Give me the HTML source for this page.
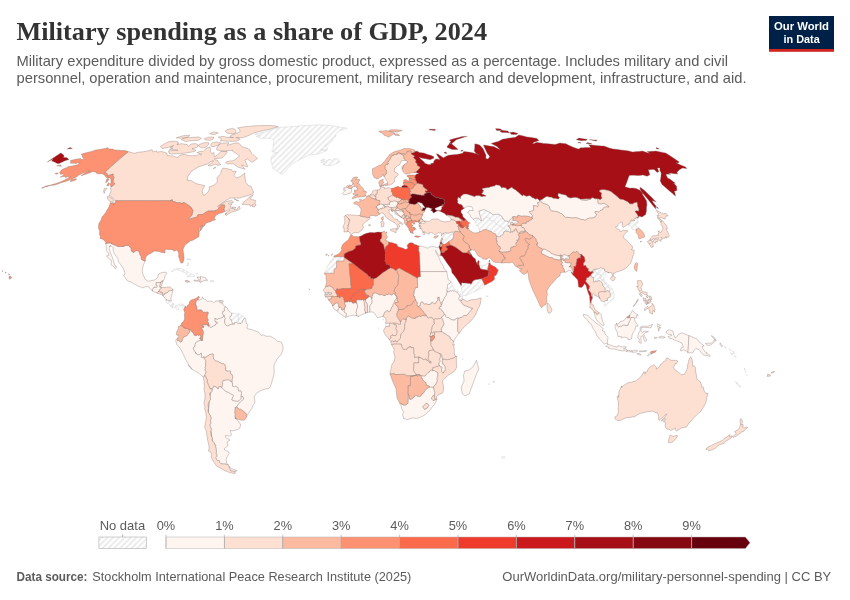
<!DOCTYPE html>
<html lang="en"><head><meta charset="utf-8"><title>Military spending as a share of GDP, 2024</title>
<style>html,body{margin:0;padding:0;background:#fff}svg{display:block}</style></head>
<body><svg width="850" height="600" viewBox="0 0 850 600">
<defs><pattern id="nd" patternUnits="userSpaceOnUse" width="4.1" height="4.1" patternTransform="rotate(45)"><rect width="4.1" height="4.1" fill="#fff"/><rect width="1.9" height="4.1" fill="#ebebeb"/></pattern></defs>
<rect width="850" height="600" fill="#fff"/>
<text x="16.5" y="40.2" font-family="'Liberation Serif','Times New Roman',serif" font-weight="700" font-size="26" fill="#333" textLength="470.5" lengthAdjust="spacingAndGlyphs">Military spending as a share of GDP, 2024</text>
<g font-family="'Liberation Sans',Arial,sans-serif" font-size="14.2" fill="#5b5b5b">
<text x="16.5" y="66.4" textLength="711.5" lengthAdjust="spacingAndGlyphs">Military expenditure divided by gross domestic product, expressed as a percentage. Includes military and civil</text>
<text x="16.5" y="83.3" textLength="730" lengthAdjust="spacingAndGlyphs">personnel, operation and maintenance, procurement, military research and development, infrastructure, and aid.</text>
</g>
<g><rect x="769" y="16" width="65" height="33.2" fill="#002147"/><rect x="769" y="49" width="65" height="2.8" fill="#ce261e"/>
<g font-family="'Liberation Sans',Arial,sans-serif" font-weight="700" font-size="11" fill="#fff" text-anchor="middle"><text x="801.5" y="30.2" textLength="55" lengthAdjust="spacingAndGlyphs">Our World</text><text x="801.6" y="42.5" textLength="36.3" lengthAdjust="spacingAndGlyphs">in Data</text></g></g>
<g fill="url(#nd)" stroke="#d2d2d2" stroke-width=".5" stroke-linejoin="round"><path d="M197.3,273.1 197.9,273.6 196.3,273.9ZM188.6,263.1 188,266 187,265.5 187.5,263.1ZM190.8,259.2 190.3,260 188.8,259.5 186.6,259.2 188.7,258.7Z"/><path d="M562.7,255.2 562.8,255.2 563.8,254.5 563.9,254.5 564,254.5 565.8,255.1 568.1,255.9 568.2,255.9 569.3,256.7 569.3,256.8 569.4,256.9 569.4,257 569.6,258.6 569.6,258.7 569.6,258.8 569.5,258.8 569.5,258.9 569.4,258.9 567.6,259 565.7,258.8 564.4,259.2 564.3,259.2 564.2,259.2 562,258.2 561.9,258.2 561.9,258.1 561.8,258.1 561.8,258 561.6,257.4 561.6,257.3 561.6,257.2 562.7,255.2Z"/><path d="M462.5,358.6 463.2,359.4 462.7,359.9Z"/><path d="M172.3,302.6 173.3,303.8 173.5,303.9 173.5,304 173.4,304.1 172.7,304.2 172.7,304.9 173,305.2 173.1,305.2 173.1,305.3 173.1,305.4 173.1,305.5 173.1,305.6 173.1,305.7 173,305.7 172.8,305.9 172.8,306.2 172.9,306.2 172.8,306.2 172.8,306.3 172.6,306.9 172.5,307.3 172.6,307.7 172.3,307.8 171.7,306.3 170.5,306.7 170.5,306 169.6,304.2 168.1,302.8 167.5,303.8 166.2,302.5 165.9,301.7 165.8,300.3 166.4,299.8 165.9,300.2 166.4,300.1 166.5,300.1 166.5,300 166.8,299.8 168.1,300.4 168.1,300.5 168.2,300.5 168.3,300.4 168.8,300.2 169.3,300.3 169.6,300.8 169.6,300.9 169.7,300.9 170.4,301 170.5,301 170.6,301 171,300.5 171.1,300.5 170.9,300.2Z"/><path d="M171.1,271.6 173.6,269.4 175.4,268.8 177.3,268.2 179.2,268.5 180.9,268.6 182.7,268.8 183.8,269.8 186.1,271.1 188.5,272.3 190.9,273.6 192.6,274.6 194.3,275.6 195.1,275.8 192.7,276.7 191.1,276.6 189,276.7 186.8,276.9 188.4,275.6 186.5,274.7 184.8,272.3 182.3,271.9 181.4,271.1 179.7,270.7 178,270.2 177.4,269.4 174.3,270.6 172.1,271.9Z"/><path d="M461.8,300.4 461.8,300.5 461.7,300.5 461.6,300.5 461.5,300.5 461,300.1 460.6,300.2 460.6,300.3 460.5,300.3 459.3,300.2 459.2,300.2 459.1,300.2 459.1,300.1 459,300.1 459,300 459,299.9 458.9,299.1 458.7,298.5 458.7,298.4 458.7,298.3 458.7,298.2 458.8,298.2 460.1,296 460.3,296.2 460.3,296.3 460.4,296.3 461.4,296.5 461.5,296.5 461.6,296.5 461.7,296.5 462.3,295.9 462.8,297.5 461.4,298.6 462.4,298.5 462.6,298.8 462.9,299 462.8,299Z"/><path d="M389.7,326.1 389.6,326.1 389.6,326.2 389.6,326.3 389.5,326.3 389.4,326.3 386,326.3 385.9,326.4 385.9,326.2 385.5,322.8 385.5,323.1 385.6,323.1 387.5,323.2 389.4,323.2 389.6,323.2 389.7,326ZM383.8,319.4 383.4,320.3 382.9,319.1Z"/><path d="M453.5,288 455,289.6 457.6,290.6 460.5,294.3 461.3,294.8 462.2,295.6 462.3,295.9 461.7,296.5 461.6,296.5 461.5,296.5 461.4,296.5 460.4,296.3 460.3,296.3 460.3,296.2 459.5,295.4 459.5,295.3 459.4,295.3 458.5,293.8 457.5,293 457.4,293 456.8,292.1 454.9,291.1 453.4,291.1 453.3,291.1 453.2,291.1 453.2,291 452.7,290.6 451.6,291.1 451.5,291.1 451.5,291.2 451.4,291.2 451.4,291.1 451.3,291.1 450.2,290.2 449.6,291.8 449.6,291.9 449.5,291.9 449.4,291.9 449.3,291.9 446.9,291.4 447,291.1 447,291 446.7,290 447.5,286.3 447.5,286.2 447.6,284.6 448.2,283.9 449.8,283.5 449.9,283.5 449.9,283.4 450.9,282 451.2,282 451.3,282 452.4,285Z"/><path d="M244.9,318.1 244.2,318.2 242.9,320.5 242.2,322.4 242.1,322.4 242.1,322.5 241.2,323.5 241.1,323.5 241.1,323.6 239.9,323.7 239.9,323.8 239.9,323.7 239.8,323.7 239.7,323.7 239.7,323.6 239.4,323 239.2,322.9 238.5,323.5 238.5,323.6 238.4,323.6 238.3,323.6 238.2,323.6 237.3,323 237.3,323.1 237.4,323.1 237.5,323.1 237.5,323 237.6,323 237.6,322.9 238.2,321.8 238.2,321.7 238.5,320.5 238.9,319.4 238.9,319.3 238.9,319.2 238.8,319.2 238,317.7 237.9,316.1 239,313.9 240.8,314.9 242.6,315.9 244.1,317.4 244.9,318.1Z"/><path d="M501.9,456.8 503.5,456.8 505.2,456.8 504.4,458.3 502.1,458.1Z"/><path d="M255.1,134 257.4,133.6 259.7,133.1 261.9,132.7 264.2,132.3 266.8,131.3 269.4,130.4 272.1,129.6 274.7,128.9 277.4,128.1 279.9,127.3 282,127.2 284.1,127.1 286.2,127 288.3,126.8 290.3,126.7 292.4,126.6 294.5,126.5 296.3,126.3 298.1,126.1 299.9,126 301.7,125.8 303.8,125.7 305.9,125.6 307.9,125.4 310,125.3 312,125.2 314.1,125 316.1,124.9 318.2,124.8 320,124.9 321.8,125 323.7,125.1 325.5,125.2 327.4,125.3 329.3,125.4 331,125.6 332.7,125.9 334.5,126.1 336.3,126.4 338,126.7 339.9,127 341.7,127.3 343.5,127.6 345.3,127.9 347.2,128.2 345.5,128.8 343.8,129.4 342.1,130 340.3,130.6 338.7,131.5 337,132.4 335.8,134.3 336.1,136.3 335,136.7 333.4,138.3 333.1,139.9 331.1,141.7 329.1,143.4 328,144.9 326.3,145.4 324.6,145.9 326,146.8 327.4,147.6 327,149.8 324.8,149.8 322.6,149.8 320.4,149.8 322.5,150 324.6,150.3 326.7,150.5 324,151.7 321.3,152.8 318.6,153.9 316.2,154.2 313.8,154.5 311.4,154.8 309,155 307,156.1 305,157.1 303,158.2 300.4,159.4 297.7,160.7 294.7,162.2 291.7,163.7 290,166.3 287.3,169.1 285.3,171.4 282.1,174.3 280,173.6 279,172.2 277.1,171.1 275.2,170.1 273.3,169.1 272.5,166.5 271.8,163.9 270.8,161.2 270.9,159.4 271,157.6 272.5,155.7 274,153.7 275.9,153.2 277.8,152.6 275.8,152.3 273.7,152 271.7,151.7 272.5,150.4 273.4,149.3 273,147.2 273.3,144.9 273.6,143.1 274,141.3 273.5,140.2 273.1,139.1 271.4,138.8 269.6,138.5 267.9,138.2 266.2,138 264.6,138.1 262.9,138.3 261.2,138.5 259.8,137.8 258.5,137.2 257.3,136.7 256.2,136.3 257.9,135.8 259.7,135.3 258.3,135.1 256.9,134.8 255.5,134.5Z"/><path d="M323,164.9 325.1,165.1 327.3,165.4 329.4,165.8 331.2,165.3 333.1,164.9 334.7,164.3 336.4,163.8 338,162.9 339.6,161.9 339.4,160.8 338.1,158.9 336.7,158.8 335.3,158.6 333.1,159.7 331.6,160.5 330.6,159.4 328.4,159.6 326.8,161 325.7,159.9 324.6,158.8 323.3,159.1 320.5,160.9 322.9,161 325.2,161.2 323.2,161.8 321.1,162.4 322.8,162.8 324.6,163.2 324.4,164 323.1,164.2Z"/><path d="M592.8,273 593.5,273.1 592.8,270.5 592.8,270.4 592.8,270.3 592.8,270.2 592.9,270.2 592.9,270.1 593,270.1 594.1,269.7 594.2,269.7 594.2,269.8 594.3,269.8 594.4,269.8 594.4,269.9 595.9,271.9 596,271.9 597.3,274.2 600,274.2 600.1,274.2 600.2,274.2 600.2,274.3 600.3,274.4 601.5,276.6 601.5,276.7 601.5,276.8 601.5,276.9 601.5,277 601.4,277 601.4,277.1 600.1,277.7 599.8,278.3 602.4,279.7 602.5,279.7 602.5,279.8 604.9,282.9 606.7,285.2 608.6,287 608.7,287 608.7,287.1 609.5,288.9 609.6,289 609.6,289.1 609.5,291.6 609.4,291.5 609.4,291.4 609.3,291.4 607.1,290.4 607,290.4 606.9,290.4 606.9,290.5 606.8,290.5 606.1,292.1 604.6,291.3 605.1,290.5 605.1,290.4 605.1,290.3 604.9,288.1 604.9,288 604.9,287.9 604.8,287.9 602.8,285.7 602.3,283.2 602.2,283.1 602.2,283 600.1,280.9 600.1,280.8 600,280.8 599.9,280.8 598.2,280.6 598.1,280.6 598,280.6 598,280.7 597.9,280.7 597.6,281.5 596.6,281.6 595.9,281.2 595.9,281.1 595.8,281.1 595.7,281.1 595.6,281.1 595.6,281.2 593.8,282.5 593.5,280.7 593.7,278 593.7,277.9 593.6,277.9 593.6,277.8 593.6,277.7 593.5,277.7 593.5,277.6 593.4,277.6 592,277.5 591.7,276.2 591.7,276.1 591.7,276 591.6,276 591.6,275.9 590.7,275.3 590.9,274.6 592.6,273 592.6,272.9 592.6,272.8 592.6,272.7 592.6,272.6Z"/><path d="M735.5,381.4 736.9,382.6 738.3,383.7 739.6,385.4 740.8,387.1 739.5,387.1 738,385.6 736.6,384Z"/><path d="M637.1,219.5 638.3,222 636.5,224.1 635.4,224.7 635.8,226.3 638.5,227.8 638.8,228.1 637.9,228.9 636.5,229 636.2,230.1 636.2,230.2 636.1,230.2 635.9,230.2 635.8,230.1 633.7,229.5 632.3,229.9 631.6,227.6 630.1,225.4 628.4,224.6 629.2,223 630.7,221.6 630.8,221.6 630.8,221.5 631.2,219.9 632.4,220.6 632.5,220.6 634.4,220.7 634.5,220.7 634.5,220.6 634.5,220.5 634.5,220.4 634.5,220.3 634.4,220.3 633.6,219.3 636,218.2 636.1,218.2 636.1,218.1 636,216.9 637.9,218.2 638,218.2 637.6,218.2Z"/><path d="M441.6,243.8 441.7,243.8 441.7,243.9 441.8,243.9 441.8,244 441.8,244.1 442,245.7 442,245.8 441.9,245.8 441.7,246.6 441.6,246.7 441.5,246.7 440.5,247.1 440.4,247.1 440.3,247.1 440.3,247 440.2,247 440.2,246.9 440.2,246.8 440.2,246.7 440.2,246 440.2,245.9 440.3,245.9 440.3,245.8 440.4,245.8 440.3,245.7 440.2,245.7 440.2,245.6 440.2,245.5 440.1,245.5 440.1,245.4 440.1,245.3 440.4,243.6 440.4,243.5 440.5,243.5 440.5,243.4 440.6,243.4 440.7,243.4 441.6,243.8Z"/><path d="M172,307 172.3,307.8 172,307ZM174.8,305.4 176.8,305.8 179.4,304.3 180,303.8 181.7,304.1 183.8,304.6 185.2,306.1 183.8,309.9 182.7,307.7 183.3,306.8 182.6,305.5 180.2,305.4 179.3,306.4 178.1,307.6 178.9,309.3 177.9,309.8 176.8,310 176.2,308.8 175.1,307.6 173.7,307.2 172.6,307.7 172.5,307.3 172.6,306.9 172.8,306.3 172.8,306.2 172.9,306.2 172.8,306.2 172.8,305.9 173,305.7 173.1,305.7 173.1,305.6 173.1,305.5 173.1,305.4 173.1,305.3 173.1,305.2 173,305.2 172.7,304.9 172.7,304.2 173.4,304.1 173.5,304 173.5,303.9 174,304.3Z"/><path d="M210.3,281.7 210.4,280.4 212.2,280.5 214,280.7 213.5,281.7Z"/><path d="M488.4,383.7 489.7,384 489,384.8Z"/><path d="M378.3,327.8 378.9,328 378.4,328.7Z"/><path d="M735.2,356.8 734.2,355.5 736.4,357.1ZM731.4,354.4 730.6,353.1 733.2,354.4ZM733.8,353.7 733,352.1 732.9,350.8 734.5,353.7ZM728.8,348.7 731.5,351 730.6,350.8ZM724.1,346.8 724.1,346.3 726.5,348.2 726,348.4Z"/><path d="M238.7,313.8 239,313.9 237.9,316.1 238,317.7 238.8,319.2 238.9,319.2 238.9,319.3 238.9,319.4 238.5,320.5 238.2,321.7 238.2,321.8 237.6,322.9 237.6,323 237.5,323 237.5,323.1 237.4,323.1 237.3,323.1 236,322.5 235,322.8 234.9,322.8 234.2,322.6 234.1,322.9 234.4,323.3 234.4,323.4 234.4,323.5 234.4,323.6 234.2,324.2 234.2,324.3 234.1,324.3 234,324.3 234,324.4 233.9,324.4 233.9,324.3 232.7,324.1 232.8,324.1 232.9,324.1 232.9,324 233,323.9 233,323.8 233,323.7 232.9,323.7 232.9,323.6 231.6,321.4 231.3,320 231.3,319.9 231.2,319.9 231.2,319.8 231.1,319.8 231,319.8 230.5,319.8 229.6,318.1 230,316.9 230,316.8 230,316.4 231.2,315.8 231.3,315.8 231.3,315.7 231.3,315.6 231.8,313.2 233.9,313.2 236.1,313.2Z"/><path d="M454.1,233.2 454,233.3 453,233.9 453.5,235.6 453.5,235.7 453.1,238.9 453.1,239 453,239 450.7,240.4 448.5,241.8 446.5,243.2 444.5,244.6 444.4,244.6 444.3,244.6 441.7,243.5 441.6,243.4 441.6,243.3 441.5,243.3 441.5,243.2 441.5,243.1 441.6,243.1 441.6,243 441.7,242.7 441.6,241.8 441.6,241.7 441.6,241.6 442,240.2 442,240.1 442.1,240.1 443,239.2 442.7,238.6 441.8,238.5 441.7,238.5 441.7,238.4 441.6,238.4 441.8,238.2 441.5,237.6 441.1,235.9 441.2,235.2 441.3,235.1 441.7,235.4 441.8,235.4 441.9,235.4 442,235.4 442,235.3 442.5,234.8 443,234.2 443,234.1 443.1,234.1 443.1,234 443,233 443.4,233.3 443.5,233.3 443.6,233.3 445.8,232.6 447,233.1 448.8,233.1 448.9,233.1 448.9,233 451.2,232.1 452.3,232.2 452.4,232.1 454.8,231.7 454.9,231.7Z"/><path d="M473.7,219.4 473.8,219.4 473.9,219.3 474.6,218.5 474.6,218.4 474.7,218.4 476.9,217.9 477,217.9 477.1,217.9 478.7,218.6 478.7,218.7 478.8,218.7 480.7,220.6 481.6,220.5 483.6,220.5 483.2,219.6 483.1,219.5 483.1,219.4 483.1,219.3 483.1,219.2 483.2,219.2 484.8,218.3 486.1,216.8 486.2,216.8 486.3,216.8 489.5,218.2 489.6,218.2 489.7,218.2 489.7,218.3 489.7,218.4 489.8,218.4 490.5,220.3 491.2,220.7 493.4,220.6 493.5,220.6 493.6,220.6 494.4,221.1 494.4,221.2 494.5,221.2 494.5,221.3 496.2,223.9 499.1,225.6 500.8,226.8 503.3,228.1 506.4,229.2 506.5,229.2 506.5,229.3 506.6,229.3 506.6,229.4 506.7,229.4 506.7,229.5 507,231.1 507,231.2 507,231.3 506.9,231.4 506.8,231.4 506.1,231.3 506,231.3 505.1,230.7 505,231.3 505,231.4 505,231.5 504.9,231.5 503.4,232 503.4,233.9 503.4,234 503.4,234.1 503.3,234.1 502.3,234.9 502.2,234.9 500.7,235.3 500.5,236.3 500.5,236.4 500.5,236.5 500.4,236.5 498.8,236.8 498.8,236.9 498.7,236.8 496.3,235.8 496.2,235.8 496.1,235.7 496.1,235.6 496,235.6 495.4,233.7 494,233.6 494,233.5 493.9,233.5 491,231.2 489.3,231 489.2,231 489.2,230.9 486.6,229.6 485.1,229.4 484.3,229.9 484.2,229.9 482.8,229.8 481.7,231.2 481.7,231.3 481.6,231.3 481.5,231.3 479.7,231.4 479.5,231.1 479.3,230.8 478.7,227.1 477.2,226 476.2,225.6 476.2,224.2 475.4,221.6 474,219.7 473.7,219.5Z"/><path d="M481.8,265.5 483.8,265.2 485.8,264.8 487.6,262.7 488.9,261.3 489,261.1 489.4,261.7 489.4,261.8 489.5,261.8 489.7,261.9 489.7,261.8 489.9,262.8 489.8,262.8 489.8,262.9 489.7,262.9 489.7,263 489.7,263.1 489.7,263.2 489.7,263.3 489,263.3 488.9,263.3 488.8,263.3 488.8,263.4 488.7,263.4 488.7,263.5 488.7,263.6 488.7,265.3 488.7,265.4 488.7,265.5 488.8,265.5 488.8,265.6 488.9,265.6 488.3,265.9 488.2,266 488.2,266.1 488.2,266.2 488.3,267.2 487.7,268.2 487.7,268.3 487.7,269.4 487.8,269.5 487.8,269.6 488,269.9 487.8,270.2 487.7,270.2 487.7,270.3 487.6,270.3 485.3,269.8 483,269.4 480.7,268.9 480.6,268.9 480.5,268.9 480.5,268.8 480.4,268.7 479.4,266.1 479.3,266 479.2,265.4 479,264.6 479.5,265.5ZM478.8,263.3 478.8,263.2 478.9,263.2 478.9,263.1 479,263.1 479.1,263 479,264.3 478.8,263.4ZM486.5,259.2 486.6,259.2 486.3,259.3 486.1,259.3 486.4,259.2Z"/><path d="M478.9,211.2 478.9,211.1 478.9,211 479,211 481.4,210.2 483.9,209.5 484,209.5 484.5,209.7 486.4,210.6 488.2,211.6 490.2,212.5 490.3,212.5 490.3,212.6 492.8,214.8 495.1,214.4 496.9,214.3 498.6,214.2 498.7,214.2 498.7,214.3 498.8,214.3 501.8,216.2 501.9,216.2 501.9,216.3 502,216.3 502,216.4 502.1,216.5 502.6,218.7 503.4,218.7 503.5,218.8 503.6,218.8 503.6,218.9 503.7,218.9 503.7,219 504.6,220.9 507.1,220.9 507.2,220.9 507.2,221 507.3,221 507.4,221 507.4,221.1 508.2,222.2 508.7,222.2 509.1,220.5 509.1,220.4 509.1,220.3 511.3,218.5 511.4,218.5 512.4,218 512.5,218 512.6,218 513.3,218.3 513.4,218.3 513.4,218.4 513.5,218.4 513.5,218.5 513.6,218.6 513.6,218.7 513.6,218.8 513.5,218.8 512.5,220.2 513.9,220.9 515.1,220.3 515.2,220.3 515.3,220.3 518.2,221.7 518.3,221.7 518.3,221.8 518.4,221.8 518.4,221.9 518.5,222 518.5,222.1 518.4,222.1 518.4,222.2 516.2,224.1 516.1,224.1 514.4,223.9 513.6,223.9 513.5,223.9 513.4,223.9 513.4,223.8 513.3,223.8 512.8,223 512.7,223 512.7,222.9 512.7,222.8 512.7,222.1 510.6,222.6 510.5,224.1 510.5,224.2 509.9,225.6 509.8,225.7 509.7,225.7 508,225.6 507.9,226.3 509.3,226.8 509.4,226.8 509.4,226.9 509.5,226.9 509.5,227 510.5,228.9 510.5,229 510.5,229.1 510.7,232 510.7,232.1 510.7,232.2 510.6,232.3 510.5,232.3 510.4,232.3 509.7,232 508,231.4 506.8,231.4 506.9,231.4 507,231.3 507,231.2 507,231.1 506.7,229.5 506.7,229.4 506.6,229.4 506.6,229.3 506.5,229.3 506.5,229.2 506.4,229.2 503.3,228.1 500.8,226.8 499.1,225.6 496.2,223.9 494.5,221.3 494.5,221.2 494.4,221.2 494.4,221.1 493.6,220.6 493.5,220.6 493.4,220.6 491.2,220.7 490.5,220.3 489.8,218.4 489.7,218.4 489.7,218.3 489.7,218.2 489.6,218.2 489.5,218.2 486.3,216.8 486.2,216.8 486.1,216.8 484.8,218.3 483.2,219.2 483.1,219.2 483.1,219.3 483.1,219.4 483.1,219.5 483.2,219.6 483.6,220.5 481.6,220.5 481.4,220.5 480.6,217.4 479.7,214.4 478.9,211.3 478.9,211.2Z"/><path d="M747.4,375.4 746.6,375.6 746.6,374.8ZM745.4,372.2 745.3,370.7 746.3,372ZM744.5,369.9 744.4,368 745.5,369.6Z"/><path d="M595.2,269.1 595.3,269.1 597,269.1 599.1,268.8 600.7,267.5 600.8,267.4 600.9,267.4 601,267.4 601,267.5 601.1,267.5 602.2,268.4 604.3,268.9 604.4,268.9 604.5,268.9 604.5,269 604.6,269 604.6,269.1 604.6,269.2 604.6,269.3 604.5,270.6 605.6,271.5 607.9,272.1 608,272.2 608.7,272.6 607.8,272.6 606.4,274 605.3,274.3 605.1,275.7 603.8,277.1 603.8,279.9 606.3,283 609.1,285.5 610.6,286.7 612.5,289.3 613.6,292.8 614.3,295.1 613.9,296.8 614.1,297.7 613.7,298.6 611.7,300.3 609.6,301.7 608.7,302.6 606.8,304.6 604.5,306.3 605,302.6 603.5,301.6 603.7,301.8 605.2,300.6 607.5,300.4 607.6,300.4 607.7,300.4 607.7,300.3 607.8,300.2 607.8,300.1 607.7,300.1 607.7,300 607.7,299.9 606.8,298.7 608.5,297.7 610.1,296.8 610.2,296.8 610.2,296.7 610.3,296.7 610.3,296.6 610.2,293.4 610.2,293.3 609.5,291.6 609.6,289.1 609.6,289 609.5,288.9 608.7,287.1 608.7,287 608.6,287 606.7,285.2 604.9,282.9 602.5,279.8 602.5,279.7 602.4,279.7 599.8,278.3 600.1,277.7 601.4,277.1 601.4,277 601.5,277 601.5,276.9 601.5,276.8 601.5,276.7 601.5,276.6 600.3,274.4 600.2,274.3 600.2,274.2 600.1,274.2 600,274.2 597.3,274.2 596,271.9 595.9,271.9 594.4,269.9 594.4,269.8 594.3,269.8 594.2,269.8 594.2,269.7 594.1,269.7 594,269.8 595.1,269.1Z"/><path d="M344.1,260.8 344.1,260.9 344.1,261 344,261 344,261.1 343.9,261.1 343.8,261.1 341.4,261.1 339,261.1 336.6,261.1 336.6,264.3 336.5,267.5 336.5,267.6 336.4,267.7 334.2,269.1 334.1,273 334.1,273.1 334.1,273.2 334,273.2 334,273.3 333.9,273.3 330.8,273.3 327.8,273.3 324.8,273.3 324.8,272.8 326.5,269.2 327.3,266.8 329.1,263.7 330.8,260.5 333.3,257.8 334.3,256.1 333.9,256.7 337.3,256.7 340.6,256.7 343.9,256.7 344,256.7 344.1,256.7 344.1,256.6 344.2,256.6 344.2,256.5 344.2,256.4 344.2,258.6Z"/><path d="M488.4,296 487.2,296.6 485.6,296ZM461.4,284.1 461.4,284 461.4,283.9 461.9,282.7 461.9,282.6 462,282.6 462,282.5 462.1,282.5 462.2,282.5 462.3,282.5 463.1,283.1 463.6,283 463.7,283 463.7,282.9 466.3,282.9 466.4,282.9 466.5,282.9 466.9,283.2 469,283.4 469.8,283.3 469.9,283.3 470,283.3 470.1,283.4 470.6,284.1 471.4,283.8 472.7,281.1 472.8,281.1 472.8,281 472.9,281 474.9,279.8 475,279.8 478.2,279.3 481.5,278.8 481.6,278.8 481.7,278.8 481.7,278.9 481.8,279 482.8,281.1 483.9,283.3 484.7,285.1 484.8,285.1 484.5,285.2 482.6,287.9 480.7,288.7 478.8,289.6 475.7,290.9 473.9,291.7 472.1,292.4 469.9,293.7 468.2,294.5 466.5,295.3 464.8,295.5 463,295.7 462.5,294 462,292 461.6,290.1 461.3,288 461,285.9 460.9,285.7 461.6,285.1 461.4,284.2Z"/></g>
<g stroke="#7a6a66" stroke-opacity=".75" stroke-width=".45" stroke-linejoin="round"><path fill="#fff5f0" d="M237.2,470.7 235,471.7 234.8,472.7 235,472 234.6,471.5 234.5,471.4 234.4,471.3 234.3,471.3 232.6,471.2 230.8,471 229.8,468.5 228.7,466 231.4,468.6 234.3,469.7ZM243.1,396.8 243.1,396.9 243.2,396.9 243.2,397 243.3,397 243.3,397.1 243.5,399.2 243.5,399.3 243.5,399.4 243.4,399.4 243.4,399.5 241.7,400.9 240.4,402 238.2,404.5 236.2,407.4 235.5,407.5 235.4,407.5 235.4,407.6 235.3,407.6 235.3,407.7 235.3,407.8 235.1,409.9 234.9,412.5 234.9,412.6 235.4,415.1 235.1,415.6 235.1,415.7 235.1,415.8 235.2,417.5 235.3,418.2 235.3,418.3 235.3,418.4 235.4,418.4 235.4,418.5 235.5,418.5 235.9,418.8 235.6,417.7 236,419.3 237.1,420 239,421.5 238.9,422.7 240.5,423.8 240.4,426.2 239.6,428.2 237.3,429.7 234.8,430.4 232.1,430.8 230.1,430.4 230.6,431.6 231.2,433.9 231.2,435.5 230.3,436.1 227.9,435.8 225.4,435.5 225.8,437.5 228.2,439.1 229,438.8 229.9,440.6 228.5,441.1 227.2,441.9 227.7,445 227.5,446.1 225.9,447.3 224.2,448.6 224.6,450 226.6,450.9 228.6,451.7 229.1,453.4 228,455.3 226.9,457.3 226.2,459.3 226.4,461.2 226.5,463.1 228.6,465 228.2,464.6 228,464.6 226,464.2 223.6,464 221.2,463.9 219.9,462.6 219.2,460.8 219.2,460.7 219.1,460.7 219.1,460.6 219,460.6 219,460.5 218.9,460.5 218.8,460.5 217.7,460.6 216.8,459.9 215.7,457.5 216.7,456.5 216.7,456.4 216.8,454.8 216.8,454.7 216.8,454.6 216.7,454.6 216.7,454.5 216.1,453.4 216.3,451.3 216.3,451.2 215.9,447.8 215.9,447.7 215.8,447.7 215.2,446.4 215.8,446 215.9,446 215.9,445.9 215.9,445.8 215.9,445.7 215.8,445.7 215.3,444.7 215.2,444.7 215.2,444.6 215.1,444.6 215.1,444.5 214.3,444.2 214.5,443.4 214.5,443.3 214.5,443.2 214.5,443.1 214.4,443.1 214.4,443 214.3,443 213.1,442.1 212.4,440.6 212.1,439.2 212.4,439 212.4,438.9 212.4,438.8 212.4,438.7 211.8,437.3 211.2,434 210.7,430.8 211.6,429.9 211.7,429.9 211.7,429.8 211.7,429.7 211.7,429.6 211.6,429.5 210.3,427 209.8,425 209.8,424.8 210.9,423.2 210.9,423.1 210.9,423 210.4,420.9 211,418.4 211,418.3 211,418.2 210.5,415.8 210.4,415.8 210.4,415.7 210.4,415.6 210.3,415.6 209.7,415.2 208.4,412.2 208.6,408.4 208.6,408.3 208.6,408.2 208.6,408.1 208.9,404.7 209.2,401.4 209.4,401 210.6,399.4 210.7,399.4 210.7,399.3 210.7,399.2 210.7,399.1 210.7,399 210.6,399 210,398.1 210.2,397.5 210.2,397.4 210.2,397.3 210,395.7 210.5,392.6 211.7,391.9 211.8,391.9 211.9,391.8 211.9,391.7 212,389.2 212.1,389.2 212.1,389.3 212.2,389.2 212.3,389.2 212.3,389.1 213.5,386.3 216.3,386.8 217.7,388.6 217.7,388.7 217.8,388.7 217.9,388.7 217.9,388.8 218,388.8 218,388.7 218.1,388.7 218.1,388.6 218.2,388.6 218.8,386.6 221,386.7 221.4,387.2 221.4,387.3 221.4,387.2 223.7,389.4 226,391.5 226.1,391.5 226.1,391.6 228,392 230.9,393.9 233.2,394.9 233.6,395.7 231.9,399.6 231.9,399.7 231.9,399.8 231.9,399.9 232,399.9 232,400 232.1,400 234.5,400.8 237.1,401.2 237.2,401.2 238.9,400.8 238.9,400.7 239,400.7 240.8,398.7 240.8,398.6 240.9,398.5 240.9,396.2 241,395.9 243.1,396.8Z"/><path fill="#fff5f0" d="M383.4,204.4 383.5,204.4 383.6,204.4 384.4,205 384.6,204.5 384.6,204.4 384.7,204.4 384.8,204.4 386.6,204.5 387.9,204.1 388,204.1 389,204.1 389.1,204.1 389.1,204.2 389.6,204.5 389.2,202.9 389.2,202.8 389.2,202.7 389.2,202.6 389.3,202.6 390,202.2 391.1,201.4 391.2,201.4 391.2,201.3 391.3,201.3 391.4,201.4 392.3,201.8 393.2,200.9 393.3,200.9 394,200.6 394.1,200.6 394.1,200.7 395.9,201.2 397.7,201.8 397.8,201.8 397.8,201.9 397.9,202 397.9,202.1 397.9,202.2 397.8,202.4 398,203.2 398,203.3 398,204.4 397.9,204.5 397.9,204.6 397.8,204.6 397.7,204.6 397.2,204.6 397.2,204.7 397.2,204.8 397.3,204.9 397.2,205 396.7,206.7 396.7,206.8 396.3,207.2 396.2,207.2 396.2,207.3 396.1,207.3 394.4,207.3 393.5,207.9 393.4,207.9 393.3,207.9 391.6,207.7 388.6,207 388.5,207 388.5,206.9 388,206.2 386.3,206.6 386.2,206.9 386.2,207 386.1,207 386.1,207.1 386,207.1 385.9,207.1 384.9,206.8 384.9,206.5 384.9,206.4 384.9,206.3 384.8,206.2 384.7,206.1 383.7,206 383,205.7 383.2,205.4 383.2,205.3 383.2,205.2 383.1,204.7 383.1,204.6 383,204.6 383,204.5 382.9,204.5 383.4,204.4Z"/><path fill="#fff5f0" d="M573.4,273.1 573.4,273.2 573.3,273.2 573.3,273.3 573.2,273.3 573.1,273.3 573,273.3 572,272.6 572.1,273.3 572.9,274.6 573,274.6 573,274.7 573,274.8 572.9,275 572.5,274.7 571.6,272.8 570.8,270.5 568.5,270.2 567.6,271.6 564.9,272.2 564.4,271.2 564.4,271.1 563.8,269 562.7,267.1 562.7,267 562.6,267 562.6,266.9 562.8,265.6 561.5,265 561.4,265 561.4,264.9 561.3,264.9 561.3,264.8 561.3,264.7 561.3,264.6 561.3,264.5 561.7,263.6 561.7,263.5 562.6,262.7 561.2,261.6 561.1,261.6 561.1,261.5 561,261.5 561,261.4 561,261.3 561,261.2 561.5,259.5 561.5,259.4 561.6,259.3 561.7,259.3 561.8,259.3 563.8,260.5 564.8,260.6 564.9,260.6 565,260.6 565,260.7 565.1,260.8 565.5,262.4 567.5,262.7 569.6,262.7 569.7,262.7 571,263.2 571.1,263.2 571.2,263.2 571.2,263.3 571.3,263.4 571.3,263.5 571.3,263.6 570.6,265.8 570.6,265.9 570.5,265.9 570.5,266 570.4,266 569.6,266.1 569.2,267.3 569.4,266.6 570.2,266.9 570.2,266.8 570.3,266.8 570.3,266.7 570.4,266.7 571,266.7 571.1,266.7 571.2,266.7 571.2,266.8 571.3,266.8 571.3,266.9 572.2,269 573.1,271 573.1,271.1 573.2,271.2 573.4,273 573.4,273.1Z"/><path fill="#fff5f0" d="M365.9,299.5 366.4,298.5 366.4,298.4 366.5,298.3 366.6,298.3 367.6,298.1 368,297.4 368,297.3 368.1,297.3 368.8,296.6 368.9,296.6 368.9,296.5 369,296.5 369.8,296.5 369.9,296.5 370,296.5 371.8,298 371.8,298.1 371.8,298.2 371.9,298.2 371.9,298.3 371.8,299.1 372.3,300.6 372.3,300.7 372.3,300.8 372.3,300.9 371.9,301.8 372.1,302.4 372.1,302.5 372.1,302.6 372.1,302.7 370.9,304.3 370.2,305.1 369.8,306.6 369.9,308.2 369.8,312.1 369.5,312.1 368.8,312.2 367.4,312.5 367.3,310.9 367.4,307.9 367.4,304.9 367.4,304.8 367.4,304.7 367.3,304.7 366.9,304.3 366.9,303.1 366.9,303 366.8,303 366.8,302.9 366,301.9 365.4,301.3 365.6,300.1 365.6,300 365.6,299.9 365.6,299.8 365.5,299.8 365.4,299.7 365.3,299.7Z"/><path fill="#fff5f0" d="M403.4,211.3 403.5,211.3 403.5,211.4 403.6,211.4 403.6,211.5 403.7,211.5 403.7,211.6 403.7,211.7 403.7,211.8 403.3,212.7 404.3,213.5 404.3,213.6 404.4,213.7 404.4,213.8 404.2,215.1 404.1,215.1 404.1,215.2 403.6,214.8 403.5,214.8 403.4,214.8 403.3,214.8 402.9,215 402.9,215.1 402.3,215.7 402.2,215.7 402.2,215.8 402,217.2 401.9,217.5 400.2,216.6 400.1,216.6 399.3,215.5 398.5,215 398.5,214.9 397.4,214 397.4,213.9 396.9,213.2 395.8,212 395.8,211.9 395.7,211.9 395.7,211.8 395.7,211.7 395.7,211.6 396.1,210.5 396.1,210.4 396.2,210.4 396.3,210.4 396.4,210.4 397,210.9 397.3,210.5 397.4,210.5 397.4,210.4 397.5,210.4 398.4,210.4 398.5,210.4 400.3,210.8 401.7,210.8 401.8,210.8 402.7,211.3 403.4,211.3Z"/><path fill="#fff5f0" d="M212.4,440.6 211.8,439.4 212.1,439.2ZM210.8,433 210.7,430.8 211.2,434 211.8,437.3 211.1,435.6ZM209.8,424.8 209.8,425 209.7,424.8ZM208.4,412.2 207.8,410.9 208.6,408.4ZM208.6,408.1 208,405.7 208.3,403.4 209.2,401.4 208.9,404.7ZM210,395.7 209.6,393.1 210.5,392.6ZM192.4,369.6 191.4,369 188.3,365.2 188.6,364.7 190.5,367.1ZM247.1,327.2 247.3,328.8 249.4,329.1 251.5,329.5 253.9,330.4 257,331.5 259.3,332.7 261,335.3 263.1,334.9 264.9,335.7 266.8,336.4 269.8,336.1 272.1,337.3 274.4,338.5 277.2,341.1 279.4,341.7 281.5,342.3 282.1,344 283.1,347.5 283,349.9 282.1,352 281.2,354 279.6,356.3 278.2,357.4 276.6,360.1 275,362.8 274,365.2 274,367.5 274.1,369.7 274.2,371.8 273.9,375.2 273,377.5 272.4,379.7 271.9,381.9 271.2,384.1 270.6,386.3 268.5,388.8 265.8,388.8 264.1,389.4 262.5,389.9 260.7,390.7 259,391.6 256.4,393.4 254.7,395.6 254.3,397.3 254.9,401 254.7,403.4 252.8,405.6 251.9,408.6 250.2,410.7 248.6,412.9 246.6,416.8 245.9,415.7 246.6,414.6 246.6,414.5 246.6,414.4 246.6,414.3 246.6,414.2 246.5,414.2 245,412.4 244.9,412.4 243,410.9 242.9,410.9 240.4,409.2 240.3,409.2 240.2,409.2 239.5,409.3 237.1,407.3 237,407.3 236.9,407.3 236.2,407.4 238.2,404.5 240.4,402 241.7,400.9 243.4,399.5 243.4,399.4 243.5,399.4 243.5,399.3 243.5,399.2 243.3,397.1 243.3,397 243.2,397 243.2,396.9 243.1,396.9 243.1,396.8 241,395.9 241.2,394.7 241.4,393.1 241.3,391.6 241.2,391.6 241.2,391.5 241.2,391.4 241.1,391.4 240.2,390.9 240.1,390.9 240.1,390.8 240.1,390.9 240,390.9 239.2,391.3 238.6,391.2 238.4,390.4 237.9,388 237.9,387.9 237.4,387.1 237.3,387.1 237.3,387 235.7,386.3 235.6,386.3 235.5,386.3 234.7,386.8 232.5,386.3 232.4,383 232.4,382.9 232.3,382.9 231.7,381.7 232.1,381.3 232.2,381.3 232.2,381.2 232.2,381.1 232.2,381 231.9,379.6 232.4,378.6 232.4,378.5 232.7,376.4 232.7,376.3 232.6,376.2 232,374.6 232,374.5 231.9,374.5 231.9,374.4 231.8,374.4 230.6,373.8 230.4,373 230.6,371.5 230.6,371.4 230.6,371.3 230.5,371.3 230.5,371.2 230.4,371.2 230.4,371.1 230.3,371.1 228.2,371.1 226.1,371 225.2,368.6 225.5,368.6 225.6,368.6 225.6,368.5 225.7,368.5 225.7,368.4 225.8,368.3 225.8,368.2 225.7,367.1 225.6,367.1 225.6,367 225.6,366.9 225.1,366.2 225,364.8 224.9,364.8 224.9,364.7 224.9,364.6 224.8,364.6 223.4,363.8 223.3,363.8 223.3,363.7 221.9,363.8 221,363.1 220.9,363 219.4,362.5 218.5,361.6 218.4,361.6 218.4,361.5 218.3,361.5 215.8,361.1 213.4,358.9 213.5,357.4 213.5,357.3 213.4,357.3 213.4,357.2 213.1,356.3 213.3,354.4 213.3,354.3 213.2,354.3 213.2,354.2 213.2,354.1 213.1,354.1 213.1,354 213,354 212.9,354 209.9,354.5 209.8,354.5 208.7,355.5 206.7,356.5 206.7,356.6 206.6,356.6 206.2,357.3 205.2,357.4 203.5,357.1 203.4,357.1 202.2,357.6 201.4,357.4 201.4,353.6 201.4,353.5 201.3,353.5 201.3,353.4 201.2,353.4 201.2,353.3 201.1,353.3 201,353.3 201,353.4 200.9,353.4 199.2,354.9 197.4,354.8 196.6,353.5 196.5,353.5 196.5,353.4 196.4,353.4 196.3,353.4 195.2,353.3 195.5,352.6 195.5,352.5 195.5,352.4 195.5,352.3 195.4,352.3 195.4,352.2 194.1,350.7 193.2,348.6 193.6,348.3 193.6,348.2 193.7,348.1 193.7,348 193.6,347.1 194.8,346.4 194.9,346.4 194.9,346.3 195,346.3 195,346.2 195,346.1 194.7,344.8 195.2,344 195.3,343.9 195.4,342.8 197.8,341.1 199.7,340.6 199.8,340.6 199.8,340.5 200,340.2 202,340.4 202.1,340.4 202.1,340.3 202.2,340.3 202.2,340.2 202.2,340.1 202.3,340.1 202.7,336.5 203.2,332.9 203.2,331.7 203.2,331.6 202.8,330.2 202.8,330.1 202.7,330 201.8,329.1 201.8,327.6 202.8,327.3 203.2,327.5 203.3,327.5 203.4,327.5 203.5,327.5 203.5,327.4 203.5,327.3 203.6,327.3 203.6,326.2 203.6,326.1 203.6,326 203.5,326 203.5,325.9 203.4,325.9 202.3,325.7 202.3,324.6 204.4,324.7 206.5,324.7 206.6,324.7 206.7,324.6 206.9,324.4 207.9,325.2 208.1,325.9 208.1,326 208.1,326.1 208.2,326.1 208.3,326.1 208.3,326.2 208.4,326.2 208.4,326.1 208.5,326.1 208.7,325.9 209.8,327.1 209.9,327.2 210,327.2 210.1,327.2 211.9,327 212,327 212.1,326.9 212.5,326.2 214.1,325.6 215.1,325.2 215.2,325.1 215.2,325 215.3,325 215.5,324 217,323.3 217.1,323.3 217.1,323.2 217.2,323.2 217.2,323.1 217.2,323 217.1,322.4 217.1,322.3 217,322.3 217,322.2 216.9,322.2 215.1,322 214.8,320.6 215,318.9 215,318.8 214.9,318.7 214.9,318.6 214.8,318.6 214.5,318.3 215.7,318.6 217.6,319.2 217.6,319.3 217.7,319.3 217.7,319.2 217.8,319.2 218.4,318.6 220,318.2 220.1,318.2 222.7,317.2 222.8,317.2 222.8,317.1 223.7,316.1 223.7,316 223.7,315.9 223.7,315.8 223.6,315.5 224.3,315.4 224.6,315.8 224.3,316.8 224.3,316.9 224.3,317 224.4,317.1 224.5,317.1 225.1,317.5 225.5,318.4 225,319.2 224.9,319.2 224.9,319.3 224.5,321.5 224.5,321.6 224.5,321.7 224.6,321.7 225.1,323 225.2,324.2 225.3,324.3 225.3,324.4 226.8,325.6 226.9,325.7 228,325.8 228.1,325.8 228.2,325.8 228.2,325.7 228.3,325.7 228.3,325.6 228.5,325.3 229.1,325.2 229.1,325.1 230.2,324.7 230.3,324.7 230.3,324.6 230.9,324 232.1,324.2 232.2,324.2 232.7,324.1 233.9,324.3 233.9,324.4 234,324.4 234,324.3 234.1,324.3 234.2,324.3 234.2,324.2 234.4,323.6 234.4,323.5 234.4,323.4 234.4,323.3 234.1,322.9 234.2,322.6 234.9,322.8 235,322.8 236,322.5 237.3,323 238.2,323.6 238.3,323.6 238.4,323.6 238.5,323.6 238.5,323.5 239.2,322.9 239.4,323 239.7,323.6 239.7,323.7 239.8,323.7 239.9,323.7 239.9,323.8 239.9,323.7 241.1,323.6 241.1,323.5 241.2,323.5 242.1,322.5 242.1,322.4 242.2,322.4 242.9,320.5 244.2,318.2 244.9,318.1 245.6,318.6 245.9,321 246.2,323.3 248,324.4ZM196,301.5 196.6,300.7 196.8,300.6Z"/><path fill="#fff5f0" d="M308.9,288.8 309.8,289.6 309.5,289.8Z"/><path fill="#fff5f0" d="M345,301.6 345.1,301.6 345.1,301.5 345.2,301.5 345.2,301.6 345.3,301.6 345.8,301.9 347.4,302 347.7,301.4 347.7,301.3 347.8,301.3 347.8,301.2 347.9,301.2 348,301.2 348.3,301.2 348.9,301 349,301 349.1,301 349.2,301 349.2,301.1 349.3,301.1 349.3,301.2 349.5,301.9 349.8,301.8 350.3,301.6 350.3,301.5 350.3,301.4 350.4,301.4 350.4,301.3 350.5,301.2 350.6,301.2 350.7,301.2 352,302 352.1,302 352.1,302.1 352.2,302.1 352.5,302.9 353.3,303.3 354,302.8 354,302.7 354.1,302.7 355.2,302.6 355.3,302.6 356.9,303.3 357,303.3 357,303.4 357,303.5 357.1,303.5 357.7,307.2 357.7,307.3 357.7,307.4 356.7,309.6 356.1,312.4 357.1,314.6 357.1,314.7 357.1,314.8 357.1,314.9 357,314.9 356.4,315.6 356.1,315.5 354.1,315.1 351.8,315.5 349.5,316 347.6,316.7 345.8,317.3 345.9,315.3 346.1,315.1 346.2,315 346.2,314.9 346.1,313.8 346.1,313.7 346,313.6 345.1,312.5 345,312.5 344.9,312.5 344.3,312.3 343.8,311.8 344.2,310.9 344.2,310.8 344.2,310.7 344,309.4 344.1,309 344.2,309 344.3,309 344.4,308.9 344.5,308.8 344.5,308.7 344.6,307.6 344.6,307.5 344.6,307.4 344.5,307.1 344.6,306.9 345.4,306.7 345.4,306.6 345.5,306.6 345.5,306.5 345.5,306.4 345.5,306.3 345,304.2 345,304.1 344.9,304.1 344.5,303.1 344.6,302.5 344.9,302.4 345,302.4 345,302.3 345.1,302.3 345.1,302.2 345.1,302.1 345.1,302 345.1,301.9 345,301.9 344.9,301.7Z"/><path fill="#fff5f0" d="M200.7,276.7 202.8,277 204.6,277.4 206.1,278.3 205.5,279 207.8,280.1 206.4,280.7 204.2,280.5 202.8,281.2 201.4,281.2 200.6,282.8 199.9,281.6 200.1,280.9 199.5,280.1 200.5,278.8 200.4,277.3 200.5,276.8Z"/><path fill="#fff5f0" d="M423.4,246.7 425.4,247.4 427.5,248.2 429.4,247.2 431.7,246.3 434.6,246.9 436.3,247.2 438,247.4 439,246.9 439.9,249.3 440.8,251.6 440.4,253.9 439.9,256.2 438.2,254.8 436.9,252.6 435.5,250.5 436.1,252.9 437.5,255.3 438.9,257.6 439.7,259.6 440.5,261.6 441.9,263.8 443.3,266 443.9,268.6 446.8,271.3 446.8,271.6 443.5,271.6 440.1,271.6 436.8,271.6 433.5,271.6 430.1,271.6 426.8,271.6 423.5,271.6 420.1,271.6 420,267.7 419.8,263.9 419.6,260 419.4,256.2 419.2,252.3 419.1,252.3 419.1,252.2 418.4,250.2 418.8,248.7 418.8,248.6 418.8,248.5 418.4,247.5 419,246.4 419.1,246.4 419.1,246.3 419.1,246.2 419.1,246 418.8,246 421.1,246.3Z"/><path fill="#fff5f0" d="M457.4,318 455.5,319 454.9,320 454.9,320.1 454.8,320.1 454.7,320.1 454.7,320.2 454.6,320.2 453.1,320 451.3,319.7 451.2,319.7 451.2,319.6 448.3,317.5 446.8,317.5 446.7,317.5 446.6,317.4 445.8,316.5 445.7,316.5 445.7,316.4 445.7,316.3 445.7,315.1 444.7,314.7 444.6,314.7 444.6,314.6 444.5,314.6 444.5,314.5 443.1,311.8 442.1,311.2 442,311.1 441.6,310.1 440.5,308.9 439.2,308.8 439.1,308.7 439,308.7 439,308.6 439,308.5 438.9,308.5 438.9,308.4 439,308.3 439.7,306.8 439.8,306.7 439.9,306.7 439.9,306.6 441,306.6 441.2,306 441.2,304.3 441.4,304.4 441.5,304.4 441.5,304.3 441.6,304.3 441.7,304.3 441.7,304.2 441.7,304.1 442.3,301.2 443.3,300.5 443.3,300.4 443.4,300.4 443.4,300.3 443.6,299.3 444.5,297.4 445.8,296.1 445.8,296 446.7,293.4 446.9,291.4 449.3,291.9 449.4,291.9 449.5,291.9 449.6,291.9 449.6,291.8 450.2,290.2 451.3,291.1 451.4,291.1 451.4,291.2 451.5,291.2 451.5,291.1 451.6,291.1 452.7,290.6 453.2,291 453.2,291.1 453.3,291.1 453.4,291.1 454.9,291.1 456.8,292.1 457.4,293 457.5,293 458.5,293.8 459.4,295.3 459.5,295.3 459.5,295.4 460.3,296.2 460.1,296 458.8,298.2 458.7,298.2 458.7,298.3 458.7,298.4 458.7,298.5 458.9,299.1 459,299.9 459,300 459,300.1 459.1,300.1 459.1,300.2 459.2,300.2 459.3,300.2 460.5,300.3 460.6,300.3 460.6,300.2 461,300.1 461.5,300.5 461.3,300.3 460.9,301 460.9,301.1 460.9,301.2 460.9,301.3 461.8,302.8 462.7,304 462.7,304.1 462.8,304.1 463.7,305 463.7,305.1 463.8,305.1 466.3,306.1 468.8,307.1 471.4,308.2 471.5,308.2 472.8,308.2 469.8,311.8 466.9,315.4 464,315.5 463.9,315.5 463.9,315.6 461.9,317.4 460.5,317.4 460.4,317.5 460.3,317.5 459.8,318.2 458.3,318.2 458.2,318.3Z"/><path fill="#fff5f0" d="M327.8,292.3 327.9,292.3 327.9,292.2 328,292.2 328.7,292.2 328.8,292.2 328.9,292.2 329.7,292.8 330.3,292.8 331,292.4 331.1,292.4 331.2,292.4 331.3,292.5 331.8,293.3 331.8,293.4 331.9,293.4 331.9,293.5 331.8,293.5 331.8,293.6 331.8,293.7 331.7,293.7 330.7,294.3 330.7,294.4 330.6,294.4 330.5,294.4 329.6,294.3 329.5,294.3 328.6,293.8 327.9,294.3 327.8,294.4 327.4,294.4 326.9,294.7 326.8,294.8 324.8,294.7 324.8,294.3 325.3,293.2 325,292.9 327.4,292.9Z"/><path fill="#fff5f0" d="M356.2,301.6 356.3,300.1 356.3,300 356.3,299.9 356.4,299.9 356.4,299.8 356.5,299.8 358.5,299.8 360.5,299.7 360.6,299.7 361.5,299.9 362.2,299.5 362.3,299.4 362.3,299.5 363.4,299.7 363.5,299.7 363.6,299.8 363.6,299.9 363.6,300 363.5,300.7 364.4,301.9 364.4,302 364.4,302.1 364.4,304 364.6,306 365.2,306.9 365.2,307 365.2,307.1 364.7,309.4 364.9,310.6 365.5,312.2 365.8,312.8 365.9,312.6 366,312.6 366,312.5 366.1,312.5 366.2,312.6 366.3,312.6 366.3,312.7 366.3,312.8 366.1,312.8 362.8,314.3 360.6,315.3 358.5,316.4 357.9,316.2 358.6,316.3 357.9,316.2 356.1,315.5 356.4,315.6 357,314.9 357.1,314.9 357.1,314.8 357.1,314.7 357.1,314.6 356.1,312.4 356.7,309.6 357.7,307.4 357.7,307.3 357.7,307.2 357.1,303.5 357,303.5 357,303.4 357,303.3 356.9,303.3 356.4,303.1 356.2,301.6Z"/><path fill="#fff5f0" d="M160.2,284.3 159.8,286.9 160.2,286.9 160.3,286.9 160.3,287 160.4,287 160.2,287.2 160.8,287.7 161.7,287.7 161.9,287.5 162,287.6 162,287.7 161.9,287.7 161.9,287.8 161.9,287.9 161.8,287.9 160.7,288.9 160.6,288.9 159.6,289.6 159.4,289.9 159.5,290.3 159.5,290.4 159.5,290.5 159.5,290.6 158.9,291.3 158.8,291.4 158.5,291.4 158.6,291.5 158.6,291.6 158.5,291.6 158.5,291.7 158.5,291.8 158.4,291.8 157.9,292.1 157.2,292.7 157.1,292.9 157.1,293 156.8,292.8 155.2,292.4 152.9,291.4 152.1,290.7 152.3,290.9 152.4,290.9 152.4,290.8 152.7,289 153.9,287.1 156.6,287.1 156.7,287.1 156.8,287 156.9,287 156.9,286.9 156.9,286.8 157.1,285.9 157.1,285.8 157.1,285.7 157,285.6 156.7,285.5 156.6,285 156.5,285 156.5,284.9 155.7,284.3 155.5,284 155.8,284 155.9,284 155.9,283.9 156,283.9 156,283.8 156.1,283.8 156.1,283.7 156.2,282.5 158.1,282.5 160.2,282.5 160.3,282.5 160.4,282.5 160.4,282.4 160.5,282.4 160.5,282.3 160.5,282.2Z"/><path fill="#fff5f0" d="M231.3,315.6 231.3,315.7 231.3,315.8 231.2,315.8 230,316.4 230,316.8 230,316.9 229.6,318.1 230.5,319.8 231,319.8 231.1,319.8 231.2,319.8 231.2,319.9 231.3,319.9 231.3,320 231.6,321.4 232.9,323.6 232.9,323.7 233,323.7 233,323.8 233,323.9 232.9,324 232.9,324.1 232.8,324.1 232.7,324.1 232.2,324.2 232.1,324.2 230.9,324 230.3,324.6 230.3,324.7 230.2,324.7 229.1,325.1 229.1,325.2 228.5,325.3 228.3,325.6 228.3,325.7 228.2,325.7 228.2,325.8 228.1,325.8 228,325.8 226.9,325.7 226.8,325.6 225.3,324.4 225.3,324.3 225.2,324.2 225.1,323 224.6,321.7 224.5,321.7 224.5,321.6 224.5,321.5 224.9,319.3 224.9,319.2 225,319.2 225.5,318.4 225.1,317.5 224.5,317.1 224.4,317.1 224.3,317 224.3,316.9 224.3,316.8 224.6,315.8 224.3,315.4 223.6,315.5 223.4,315.1 223.4,315 222,313.2 222.5,312.7 222.5,312.6 222.6,312.6 222.6,312.5 222.6,311.5 223.8,311.2 223.8,311.1 223.9,311.1 224.5,310.6 224.5,310.5 224.6,310.5 224.6,310.4 224.6,310.3 224.1,308.5 225.4,306.7 225.4,306.6 227.2,307.9 228.4,310.6 229.2,311 230.7,312.5 231.5,313.2 231.8,313.2Z"/><path fill="#fff5f0" d="M194.1,280 195.8,280.3 197.6,280.5 198.7,280.3 198,278.8 198.1,277.9 196.7,277 199.4,277.1 200.5,276.8 200.4,277.3 200.5,278.8 199.5,280.1 200.1,280.9 199.9,281.6 198.1,281.1 195.4,281.2 193.9,280.8Z"/><path fill="#fff5f0" d="M637.5,354.3 637.2,353.4 640.1,353.7 641.1,355.2 639.3,354.8ZM630.2,350.8 632.1,350.6 631.5,352.1 630.1,351.8ZM632.6,352.5 632.3,351 635.1,350 637.6,350.5 637,351.8 634.8,352.1ZM626.9,350.1 629.8,350.6 628.5,351.8 627.2,350.8ZM614.8,346.7 617.8,347 618.4,345.7 619.4,345.7 620.1,346.3 621.6,346.8 623.2,346.8 626.3,346.8 626.1,347.6 623.4,348.8 624.1,349 626,348.9 626.8,350.3 627,351.7 624.7,350.7 622.8,350.9 621,350.6 619.2,350.4 617.4,349.8 614.4,349 613.6,348.9 611.5,348.9 608.5,348.1 608.8,347.1 605.8,346.6 607.8,344.2 609.7,344.8 611.7,345.5 613.7,346.3ZM593.9,321 596.1,323.2 597.7,324.4 599.4,325.1 601.3,326.7 603.2,328.8 602.3,330.9 604.4,331.5 605.6,334.9 608.2,337.3 607.6,339.8 607.6,341.9 607.6,344 606.2,343.2 604.4,344.2 603,342.4 601.2,340.6 599.4,338.7 596.8,335.5 596,333.4 595.2,331.3 592.9,328.3 592.1,326.3 591.4,324.4 589.2,322.8 587.7,320.3 585.1,317.9 583.8,316.6 583.2,314.3 585.3,314.7 587.5,315.2 589.5,317 591.2,318.9ZM633.3,332.1 632.2,334.6 631.9,336.6 631.6,339 629.8,339.4 628,339.7 627.7,337.8 626,337.4 624.2,337 621.4,338 621.3,336.5 619.5,336.5 617.8,336.4 617.3,333.6 617.3,332.1 615.4,328.9 615.3,328 615,326.4 615.2,324.9 616.6,323.4 617,325.3 618.6,326.8 620.1,326.2 621.6,326.4 622.9,325.1 624,324.9 626.2,325.6 628.1,325.1 629.2,321.4 630.1,320.5 630.8,317.5 633.4,317.5 634.8,317.9 634.8,320.2 635.1,321.5 636.7,323.8 638.2,326.1 635.7,326.2 635.3,328.3 634.9,330.4ZM651.6,353.7 650.9,353.9 648.4,355.7 647.3,355.7 649.6,353.3 651,351.7 651.2,353.7ZM639.6,351.8 639.4,350.8 641.3,350.9 643.1,351 644.8,350.7 646.6,350.4 646.1,351.4 642.8,351.6ZM675,337.6 676.2,337.6 678.1,334.6 680,333.6 681.9,332.7 683.8,333.6 686,334.5 688.3,335.4 688.9,335.6 688.8,339 688.6,342.4 688.4,345.8 688.2,349.2 687.9,352.6 686.5,351 683.5,350 681.1,350.8 680.2,350.6 681.3,347.9 683.5,347.1 682.9,345.8 681.9,343.3 679,341.5 677.2,341 675.4,340.4 672.6,339.1 672,338.3 670.1,339 668,336.4 668.8,336.5 671.9,335.2 671.2,334.6 668.2,334.2 665.9,332.6 666.6,331 669.2,329.7 671.1,330.4 673,331 673.5,334 673.9,335.3ZM654.5,337.2 657,337.4 656,338.9 654.2,338ZM659.1,337.8 658.6,337.2 660.5,336.6 662.4,336.1 665.3,337.4 663.5,338.1 661.3,338ZM651,327.8 647.6,327.5 644.4,327.6 641.3,327.6 641,330.9 642.3,332.5 644.3,331.1 647,331.3 648.4,331.3 648.2,331.7 645.1,333 643.6,334 644.5,336 645.4,338 646.3,339.2 647,340.3 644.8,341.5 644,339.4 643,335.7 640.9,336.6 641,338.7 641.2,340.8 641.2,343.4 638.8,342.3 639.4,339.3 637.9,338.1 637.9,335.8 638.9,332.2 640.2,330.6 640.1,328.3 640.6,326.8 642.4,326.1 643.6,326.1 645.5,326.2 647.5,326.3 650,325.4 652.5,324.5ZM660.9,328 659.1,327.8 658.8,331.2 658.1,328 657.6,326.2 657.8,323.8 659,324.9 660.6,324.9 658.8,326.7Z"/><path fill="#fff5f0" d="M351.4,188.4 351.4,190.1 351.5,191 350.7,193 349.6,193.2 347.8,193.6 346.4,194.5 343.8,194.9 342.7,193.7 342.6,193.2 343.8,192 345.6,190.3 343.3,190 344.6,189 343.5,188.6 343.9,187.7 346.6,187.7 347.4,187.2 346.3,186.7 347.3,185.6 349.1,185.1 349.9,185.2 349.3,185.9 348.7,186.6 348,186.7 347.5,187.3 348.6,188.2 349.1,188.2 350.4,188.4 351.2,188.2 351.6,188.2Z"/><path fill="#fff5f0" d="M532.3,218.1 532.4,218.1 532.3,218.1ZM469,211.5 469.3,210.5 471.3,210.5 473.3,210.5 472.6,208.6 471.9,206.7 469.5,206.4 468.2,206.1 466.6,206.9 464.9,207.7 464.4,208.1 464.1,208 463,207.6 462.9,207.6 462.9,207.5 462.8,207.5 462.8,207.4 462.7,207.3 462.7,207.2 462.6,206 461.1,204.6 459.7,204.6 459.6,204.6 459.6,204.5 457.4,202.8 457.3,202.7 457.3,202.6 457.3,202.5 457.3,202.4 457.9,200.7 457.4,200.4 457.3,200.3 457.3,200.2 457.2,200.2 457.2,200.1 457.2,200 458.1,197.2 458.1,197.1 458.2,197.1 458.3,197.1 458.4,197.1 460.5,198.4 460.3,196.9 460.3,196.8 460.3,196.7 460.4,196.7 462,195.3 463.7,194 463.8,194 463.8,193.9 465.3,193.9 466.8,193.9 466.9,193.9 469.4,194.8 471.8,195.6 474.4,196.6 476.1,195.6 476.2,195.6 477.8,195.6 479.3,195.5 479.4,195.5 479.4,195.6 482.3,196.8 482.5,196.2 482.6,196.1 482.7,196.1 485.4,196.2 485.4,195.5 481.9,193.9 481.8,193.8 481.7,193.8 481.7,193.7 481.6,193.6 481.6,193.5 481.6,193.4 481.6,193.3 481.7,193.3 482.9,192.2 482.6,191.8 482.5,191.8 482.5,191.7 482.4,191.7 482.4,191.6 482.4,191.5 482.4,191.4 482.5,191.4 483.8,190.9 482.2,189.5 482.1,189.5 482.1,189.4 482,189.4 482,189.3 482,189.2 482,189.1 482.6,188.2 482.7,188.2 485,187.9 487.3,187.6 489.6,187.3 490.2,186.7 490.3,186.7 492.5,186.2 494.7,185.8 495.9,184.8 496,184.7 497.9,185 499.7,185.3 499.8,185.3 499.9,185.3 499.9,185.4 500,185.4 500,185.5 501.6,187.8 503.2,187.2 503.3,187.2 506.2,188.1 506.3,188.1 506.3,188.2 506.4,188.2 506.4,188.3 506.5,188.3 506.5,188.4 506.9,189.4 508.3,189.3 510.2,188.1 512.1,187 512.2,187 512.3,187 512.4,187.1 512.5,187.2 512.5,187.3 512.6,187.3 512.6,187.4 512.6,187.5 512.3,188 515.4,189.7 515.4,189.8 515.5,189.8 519.1,192.8 522.6,195.9 523,194.8 523,194.7 523.1,194.7 523.2,194.7 526.6,196.2 529.1,195.5 529.2,195.5 530.5,196 530.6,196 530.6,196.1 530.7,196.1 532.2,197.5 533.8,197.9 533.9,198 535.2,199 537.5,198.6 537.6,198.7 537.7,198.7 539.6,200.3 539.6,200.4 539.7,200.4 539.7,200.5 539.7,200.6 539.7,200.7 539,202.4 538.9,202.5 537.5,202.7 538.4,205 538.4,205.1 538.4,205.2 537.8,206.4 537.7,206.4 537.7,206.5 537.6,206.5 537.6,206.4 535.5,206 533.4,205.6 533.6,207.8 533.8,210 533.8,210.1 533.7,210.2 532.9,210.7 532.9,210.8 531.2,211.2 529.4,211.7 531.1,213.8 532.7,215.8 532.8,215.9 532.8,216 532.8,216.1 532.8,216.2 532.8,216.3 531.7,216.8 532.3,218.1 532.3,218 532.2,218 532.2,217.9 532.1,217.9 532.1,217.8 532,217.8 530.6,217.4 529.3,216.5 529.2,216.5 526,216.2 524.2,216.2 522.4,216.1 522.4,216.2 521.8,216.4 518.5,215.4 518.4,215.3 518.4,215.4 518.3,215.4 517.4,215.9 517.3,215.9 517.3,216 517.3,216.1 517.4,217.4 515.7,216.9 513.9,216.5 513.8,216.5 512.6,216.9 512.5,216.9 512.5,217 512.4,217.1 512.3,218.1 511.4,218.5 511.3,218.5 509.1,220.3 509.1,220.4 509.1,220.5 508.7,222.2 508.2,222.2 507.4,221.1 507.4,221 507.3,221 507.2,221 507.2,220.9 507.1,220.9 504.6,220.9 503.7,219 503.7,218.9 503.6,218.9 503.6,218.8 503.5,218.8 503.4,218.7 502.6,218.7 502.1,216.5 502,216.4 502,216.3 501.9,216.3 501.9,216.2 501.8,216.2 498.8,214.3 498.7,214.3 498.7,214.2 498.6,214.2 496.9,214.3 495.1,214.4 492.8,214.8 490.3,212.6 490.3,212.5 490.2,212.5 488.2,211.6 486.4,210.6 484.5,209.7 484,209.5 483.9,209.5 481.4,210.2 479,211 478.9,211 478.9,211.1 478.9,211.2 478.9,211.3 479.7,214.4 480.6,217.4 481.4,220.5 480.7,220.6 478.8,218.7 478.7,218.7 478.7,218.6 477.1,217.9 477,217.9 476.9,217.9 474.7,218.4 474.6,218.4 474.6,218.5 473.9,219.3 473.8,219.4 473.7,219.4 473.7,219.5 474,219.7 471,217.2 470.1,214.8 467.6,212.4Z"/><path fill="#fff5f0" d="M453.6,341.3 450.3,338.7 450.3,338.6 450.2,338.5 450.1,337.1 447.2,335.3 444.4,333.4 441.5,331.6 441.5,331.5 441.4,331.5 441.4,331.4 441.4,331.3 441.3,331.3 441.3,328.5 441.3,328.4 441.4,328.4 441.4,328.3 442,327.3 442.1,327.3 443.2,325.5 443.9,323.8 442.9,320.9 442.7,319.6 441.6,317.9 441.5,317.8 441.5,317.7 441.5,317.6 441.5,317.5 441.6,317.5 444.4,314.3 444.5,314.5 444.5,314.6 444.6,314.6 444.6,314.7 444.7,314.7 445.7,315.1 445.7,316.3 445.7,316.4 445.7,316.5 445.8,316.5 446.6,317.4 446.7,317.5 446.8,317.5 448.3,317.5 451.2,319.6 451.2,319.7 451.3,319.7 453.1,320 454.6,320.2 454.7,320.2 454.7,320.1 454.8,320.1 454.9,320.1 454.9,320 455.5,319 457.4,318 458.2,318.3 458.1,318.3 458.1,318.4 458.1,318.5 457.7,321.5 457.7,324.7 457.7,327.9 457.7,331.1 457.8,331.2 459.1,333.3 457.8,334.8 455.9,337.2 454.8,339.4 453.8,341 453.7,341.3 453.6,341.3Z"/><path fill="#fff5f0" d="M344,309.4 344.2,310.7 344.2,310.8 344.2,310.9 343.8,311.8 344.3,312.3 344.9,312.5 345,312.5 345.1,312.5 346,313.6 346.1,313.7 346.1,313.8 346.2,314.9 346.2,315 346.1,315.1 345.9,315.3 345.8,317.3 345.5,317.4 342.1,315.2 340.2,313.8 338.4,312.3 336.8,310.7 337.2,311.1 337.7,310.4 337.7,310.3 337.8,310.3 337.9,309.6 338.9,308.2 339.9,307.1 339.8,307.1 340.2,307.1 340.3,307.1 340.3,307 340.7,306.8 341.5,308.1 341.4,309.1 341.4,309.2 341.4,309.3 341.9,309.9 341.9,310 342,310 342.1,310 342.7,310 342.8,310 342.9,309.9 343,309.8 343.4,309 343.8,309 343.9,309 344.1,309Z"/><path fill="#fff5f0" d="M376,198.6 376.4,199.1 376.5,199.1 376.5,199.2 376.5,199.3 376.5,199.4 376.5,199.5 376.4,199.5 376.2,199.8 375.9,199.6 375.8,199.6 375.7,199.6 375.2,199.6 375,199.5 375.1,198.6 375.6,198.5 375.7,198.4 375.7,198.3 375.8,198.2Z"/><path fill="#fff5f0" d="M476.5,360.2 477.3,363.2 478,366.1 478.8,369.1 476.9,373 475.8,375.9 474.4,379.7 473,383.6 471.6,387.4 470.4,390.7 469.2,393.9 467,394.9 464.8,395.8 462.3,393.9 461.7,390.5 461.2,387.1 462.6,384.1 464.1,381.1 463.8,378.2 463.5,375.4 464.1,373.3 464.7,371.2 466.9,370.5 469.1,369.9 471,368.4 472.9,367 474.9,363.6Z"/><path fill="#fff5f0" d="M442.3,360.9 442.7,364 443.3,364 443.4,364 443.5,364 443.5,364.1 444.3,364.9 444.3,365 445.2,366.9 445.3,366.9 445.3,367 445.3,370.4 445.3,370.5 445.3,370.6 445.2,370.6 445.2,370.7 445.1,370.7 444.2,371.2 443.5,372.9 443.4,372.9 443.4,373 443.3,373 443.3,373.1 443.2,373.1 443.1,373.1 443.1,373 443,373 441.6,371.4 441.6,371.3 441.6,371.2 441.5,371.2 441.5,369.3 441.5,369.2 442,368 441.9,367.2 441.2,366.7 440.7,366.9 440.6,366.9 440.5,366.9 440.5,366.8 439.3,365.7 439.4,365.6 439.5,365.6 439.6,365.6 439.6,365.5 439.6,365.4 439.7,365.3 439.6,365.3 439.6,365.2 439.6,365.1 439.5,365.1 438.5,364.5 439.2,362.4 439.9,361.6 440,361.5 440,361.4 440,361.3 439.6,359.2 440.1,357.2 440.5,356.5 440.6,356.5 440.6,356.4 440.6,356.3 440,354 440,353.9 439.6,353.5 438.9,353.3 440.8,353.7 441.2,354.3 441.9,355.5 442.4,359 442.4,359.1 442.5,359.1 442.5,359.2 442.6,359.2 442.7,359.2 442.9,359.2Z"/><path fill="#fff5f0" d="M601.9,318.9 603.2,322.4 604.1,325.1 603.2,325.5 602.4,325.4 599.5,323 597.3,321 595.5,317.8 594.8,314.7 594.1,311.9 594.2,312.3 594.3,312.2 594.3,312.1 594.5,311.8 596.2,312.8 596.4,314 596.4,314.1 596.5,314.1 596.5,314.2 596.6,314.2 596.7,314.2 598.2,313.9 598.3,313.9 598.3,313.8 598.4,313.8 599.1,312.7 599.1,312.6 601.3,314.8 601.6,316.8ZM622.2,321.2 624.3,320.4 626.4,317.3 626.9,317 628,318.3 628.4,317.4 629.6,317.5 629.6,315.8 629.6,314.8 631,313.2 632.4,310.4 633.1,311.5 635.7,313.5 638.4,315.2 636.4,315.6 637,317.2 635.4,317.7 634.8,317.9 633.4,317.5 630.8,317.5 630.1,320.5 629.2,321.4 628.1,325.1 626.2,325.6 624,324.9 622.9,325.1 621.6,326.4 620.1,326.2 618.6,326.8 617,325.3 616.6,323.4 618.1,324.4 620.3,321.6Z"/><path fill="#fff5f0" d="M493.3,381.6 494.4,381.6 493.9,382.4Z"/><path fill="#fff5f0" d="M105.7,243.4 105.8,243.4 108.5,243.1 111.3,242.9 111.4,242.9 111.4,243 111.5,243 111.5,243.1 111.5,243.2 111.4,243.2 111.4,243.3 111.2,243.6 113.5,244.6 115.8,245.5 118.1,246.5 121.1,246.5 124.1,246.5 124.4,245.7 124.4,245.6 124.5,245.6 124.5,245.5 124.6,245.4 124.7,245.4 124.8,245.4 126.6,245.4 128.5,245.4 128.6,245.4 129.8,246.9 131.1,248.4 131.1,248.5 131.5,251.2 133.9,252.6 135.6,250.8 135.7,250.7 135.8,250.7 135.8,250.6 135.9,250.6 137.7,250.6 137.8,250.6 139.1,251.7 139.2,251.7 139.2,251.8 140.2,255.1 141.2,256.5 141.2,256.6 141.2,256.7 141.3,258.5 141.6,259.6 143.1,260.3 144.5,260.9 145.3,260.6 145.3,260.9 143.4,264.7 143,266.5 142.6,268.6 142.2,270.6 142.8,274 143.9,276.3 144.9,278.6 145.5,279.7 148.4,281.3 150.4,280.8 152.5,280.3 154.5,280 157.2,278.2 157.7,276.9 158.4,274.3 160.3,273.1 163.7,272.3 166.3,272.3 166.8,273.5 164.9,276 164.5,278.3 163.3,281.2 162.7,281.5 162.6,281.8 162.6,281.7 162.5,281.7 162.5,281.6 162.4,281.6 162.2,280.7 162.1,280.7 161.1,282.2 161.1,282.3 161,282.3 160.9,282.3 160.8,282.3 160.5,282.2 160.5,282.3 160.5,282.4 160.4,282.4 160.4,282.5 160.3,282.5 160.2,282.5 158.1,282.5 156.2,282.5 156.1,283.7 156.1,283.8 156,283.8 156,283.9 155.9,283.9 155.9,284 155.8,284 155.5,284 155.7,284.3 156.5,284.9 156.5,285 156.6,285 156.7,285.5 157,285.6 157.1,285.7 157.1,285.8 157.1,285.9 156.9,286.8 156.9,286.9 156.9,287 156.8,287 156.7,287.1 156.6,287.1 153.9,287.1 152.7,289 152.4,290.8 152.4,290.9 152.3,290.9 152.1,290.7 151.8,290.3 150.3,288.6 148.8,286.9 145.9,286.5 142.7,287.9 141.5,287.3 138.4,286.2 135.4,284.7 133.6,283.7 131.9,282.7 130.5,281.9 127.7,280.9 126.1,279 123.6,275.4 124.7,274.8 124.9,272.5 124,270.3 123.1,268.1 120.7,264.7 118.4,261.8 118.2,259 115.8,255.8 114.1,253.4 113.9,252.2 113.2,250.6 113.2,247.7 112.5,246.9 110.2,245.6 109.4,247.6 109.3,249.4 110.6,253.1 111.4,255.2 112.3,257.3 112.7,258.4 113.5,260.8 114.2,263 114.8,265.2 114.9,265.6 115.9,265.9 116.5,267.5 115.7,268.5 115.1,268.9 114.7,267.5 112.8,266.1 111,264.7 111.3,262.9 111.2,260.1 109,258.9 107.7,257.4 106.4,255.9 108.7,255.6 108.9,254 107.6,252.2 106.4,250.5 106.4,249.3 106.2,245.5 105.7,243.7 105.7,243.5Z"/><path fill="#fff5f0" d="M417.2,203.3 417.2,203.2 417.1,203.2 417.1,203.1 417.1,203 417.1,202.9 417.1,202.8 417.2,202.8 417.6,202.4 417.7,202.4 417.7,202.3 419,202.1 419.1,202.1 420.7,202.9 421.5,203 421.6,203 422.6,203.7 422.7,203.7 422.7,203.8 422.8,203.9 422.8,204 422.8,204.7 423.4,205 423.5,205 423.5,205.1 423.6,205.1 423.6,205.2 424,206.1 424.7,206.7 424.7,206.8 424.8,206.8 424.8,206.9 424.9,206.9 424.9,207 424.9,207.1 424.8,207.2 425,207.4 425.1,207.4 425.1,207.5 425.2,207.5 425.2,207.6 425.2,207.7 425.2,207.8 425.1,207.8 425.1,207.9 425,207.9 424.5,208.1 423.2,208 423.1,208 423,207.9 422.9,207.7 422.9,207.8 423,207.9 423,208 423,208.1 423,208.2 422.5,209 422.3,209.9 422.3,210 422.2,210 421.7,210.3 421.6,210.3 421.5,210.3 421.4,210.2 421.4,210.1 420.8,209 420.8,208.9 420.8,208.8 420.9,207.7 420.7,206.8 419.4,205.3 419.3,205.3 418.6,204.2 417.9,203.6 417.3,203.3Z"/><path fill="#fff5f0" d="M539.9,200.3 539.9,200.2 539.9,200.1 539.9,200 540,200 541.9,199.6 543.2,198.5 544.6,197.4 545.8,196.8 547,196.2 547.1,196.2 549.2,196.9 551.3,197 551.4,197 551.5,197 551.5,197.1 553.4,198.2 555.3,198.3 555.4,198.3 558.5,198.9 559.3,197.4 558,196.1 557.9,196.1 557.9,196 557.8,196 557.8,195.9 557.8,195.8 557.8,195.7 558.3,193.1 558.4,193.1 558.4,193 558.5,193.1 561.3,194.1 563.3,194.4 566,195 566.1,195 566.1,195.1 566.2,195.1 566.3,195.2 566.3,195.3 567.7,197 570.9,198 572.5,197.5 574.8,197.2 574.9,197.2 577.1,197.5 577.2,197.5 577.2,197.6 579.9,198.8 580,198.8 581.9,200 583.6,200 586.4,200.4 587.8,199.8 590.2,199.4 592,197.6 592.1,197.6 593.5,197.9 593.6,197.9 595.1,198.7 597.3,198.5 597.4,198.5 597.5,198.5 597.5,198.6 597.6,198.6 597.6,198.7 597.7,198.7 597.7,198.8 597.8,198.8 597.8,198.9 597.8,199 598,200.9 598.1,203.2 598.9,203.9 599.7,203.7 599.8,203.7 602,204 602.9,203.1 603,203.1 603.1,203.1 605.2,203.9 605.3,204 608.2,205.8 608.3,205.8 608.4,205.9 608.4,206 608.5,206 608.5,206.1 608.9,207 608.9,207.1 608.9,207.2 608.8,207.2 608.7,207.2 606.9,206.9 604.2,207.3 603.3,208 602.7,209.6 602.7,209.7 601.4,210.2 600.1,210.7 598.8,212 598.8,212.1 598.7,212.1 598.6,212.1 596.3,211.6 595.1,211.4 595,212.7 595.9,213.5 596,213.5 596.8,214.4 596.8,214.5 596.9,214.5 596.9,214.6 596.9,214.7 596.9,214.8 595.9,215.6 595.1,217 595.1,217.1 595,217.1 593,218 589.9,218.1 588.4,218.5 587,219 585.2,220.3 585.1,220.4 585,220.4 585,220.3 584.9,220.3 583.7,219.6 581.2,219.6 581.2,219.5 581.1,219.5 577.3,218 575.2,217.6 572.6,218 572.5,218 570.2,217.7 567.9,217.4 565.6,217.4 565.5,217.4 565.4,217.4 565.4,217.3 563.5,215.8 563.4,215.8 563.4,215.7 561.5,213.5 560.2,213.3 560.2,213.2 557,211.6 554.1,211.3 551.4,210.8 551.3,210.8 551.2,210.8 551.2,210.7 550,209.6 549.9,209.6 549.9,209.5 549.8,209.4 549.8,209.3 549.3,206.5 547.2,204.7 543.9,203.7 543.8,203.7 541.5,202.3 541.4,202.3 541.4,202.2 541.3,202.2 540,200.4 539.9,200.4Z"/><path fill="#fff5f0" d="M543.7,248.9 543.8,248.9 543.9,248.9 545.9,249.7 547.9,250.8 549.9,251.8 549.9,251.9 550,251.9 550.9,253.1 552.8,253.9 554.7,254.7 557.3,255.3 560,255.6 560.1,255.6 560.2,255.6 560.2,255.7 560.2,255.8 560.3,255.8 560.3,255.9 560.3,257 560.9,258.6 561,258.7 561,258.8 560.9,259.8 560.9,259.9 560.9,260 560.8,260 560.7,260 558.8,260.1 558.8,260 556,259.4 554.2,259.2 554.1,259.2 554.1,259.1 552.6,257.9 549.6,257.5 549.5,257.5 546.3,256 543.9,254.7 541.6,253.8 541.5,253.8 541.5,253.7 541.4,253.7 541.4,253.6 541.4,253.5 541.4,253.4 541.7,250.9 541.7,250.8 541.8,250.8 542.9,249.6 543.7,249Z"/><path fill="#fff5f0" d="M172.3,292.1 171.8,295.1 171,297.4 170.9,300.2 171.1,300.5 171,300.5 170.6,301 170.5,301 170.4,301 169.7,300.9 169.6,300.9 169.6,300.8 169.3,300.3 168.8,300.2 168.3,300.4 168.2,300.5 168.1,300.5 168.1,300.4 166.8,299.8 166.5,300 166.5,300.1 166.4,300.1 165.9,300.2 166.4,299.8 166,299.4 163.2,296.1 162.1,295.1 163.1,294.8 162.8,294.9 162.8,295 162.9,295 162.9,295.1 163,295.1 163.1,295.1 163.8,295 163.9,295 164,294.9 164.3,294.4 164.4,294.4 164.5,294.4 164.6,294.4 164.6,294.3 164.7,294.3 164.7,294.2 164.7,294.1 164.8,293.1 165,293.1 165.5,293.1 165.6,293.1 165.7,293.1 165.7,293 166.1,292.5 166.5,292.9 166.6,292.9 166.7,292.9 166.8,292.9 166.9,292.9 166.9,292.8 167.1,292.5 167.6,292.2 168.4,291.5 168.5,291.5 168.5,291.4 168.6,291.3 168.6,290.9 169.1,290.4 169.4,290.7 169.5,290.7 169.9,290.9 170,290.9 170.1,290.9 170.1,290.8 170.6,290.5 171.1,290.5 171.2,290.5 172,290.2 172.1,290.1 172.4,289.8 173,289.9 173.1,289.6Z"/><path fill="#fff5f0" d="M396.1,296 397,296.9 397,297 397,297.1 397,297.2 397,297.3 396.8,297.8 396.7,298.6 396.7,298.7 396.6,298.7 396.6,298.8 394.7,300.7 394.2,302.3 393.9,303.7 393.8,303.8 393.4,304.3 392.9,306.1 392.9,306.2 392.8,306.2 391.7,307.2 391.4,308.5 391.3,308.5 390.8,309.6 390.7,310.6 390.6,310.6 390.6,310.7 390.6,310.8 390.5,310.8 388.9,311.7 388.8,311.7 388.7,311.7 388.6,311.7 387.4,310.7 386.7,310.7 385.4,312.2 385.3,312.2 384.8,312.3 383.8,314.6 383.2,316.4 383.1,316.5 382.9,316.4 381.2,316.8 379.5,317.3 377.4,317.6 375.8,315.2 373.7,312.3 371.1,311.9 369.8,312.1 369.9,308.2 369.8,306.6 370.2,305.1 370.9,304.3 372.1,302.7 372.1,302.6 372.1,302.5 372.1,302.4 371.9,301.8 372.3,300.9 372.3,300.8 372.3,300.7 372.3,300.6 371.8,299.1 371.9,298.3 372,296.1 372.6,295.1 372.7,295 373,293.6 373.4,293.1 375.7,292.8 377.9,293.8 378.7,294.7 378.8,294.7 378.8,294.8 378.9,294.8 380.1,294.8 380.2,294.8 381.2,294.3 383.9,295.5 384,295.6 385.2,295.5 385.3,295.5 385.3,295.4 386.6,294.4 387.8,294.5 387.9,294.4 388,294.4 388.5,294.1 389.7,294.2 391.4,295 391.5,295 391.6,295 391.7,294.9 393.3,293.6 393.8,293.6 395.1,294.1 395,294 395.6,295.4 395.6,295.5 395.7,295.5 395.7,295.6 395.8,295.6 395.9,295.6 396.1,295.6Z"/><path fill="#fff5f0" d="M697,338.9 699.7,342.4 701.9,344.1 704.2,346.1 702.2,346.4 702.5,348.2 703.4,349.1 704.6,351.3 705.2,352.1 707,352.3 706.4,353.9 708.5,354.2 710.3,355.6 709.6,356.5 707.8,355.9 706,355.5 704.2,355.2 701.9,353.6 700.6,351.8 699.1,349.6 695.8,348.5 694.8,349.6 693.8,350.8 693.2,352.2 692.9,352.6 690.6,352.9 687.9,352.6 688.2,349.2 688.4,345.8 688.6,342.4 688.8,339 688.9,335.6 689.6,335.8 692.3,337 695,338.1ZM721.6,346.6 719.9,344.2 720.2,342.9 722.7,346.3ZM711.2,343.2 712.4,341.9 714.6,339.8 714.9,341.6 712.8,343.4 710.4,345.1 707.6,345.3 705.6,344 705.4,343.4 708.2,343.2ZM716.4,340.6 715.9,341.1 713.8,338 711.6,336.4 711.4,335.6 714.3,337.4Z"/><path fill="#fff5f0" d="M232.4,382.9 232.4,383 232.5,386.3 234.7,386.8 235.5,386.3 235.6,386.3 235.7,386.3 237.3,387 237.3,387.1 237.4,387.1 237.9,387.9 237.9,388 238.4,390.4 238.6,391.2 239.2,391.3 240,390.9 240.1,390.9 240.1,390.8 240.1,390.9 240.2,390.9 241.1,391.4 241.2,391.4 241.2,391.5 241.2,391.6 241.3,391.6 241.4,393.1 241.2,394.7 240.9,396.2 240.9,398.5 240.8,398.6 240.8,398.7 239,400.7 238.9,400.7 238.9,400.8 237.2,401.2 237.1,401.2 234.5,400.8 232.1,400 232,400 232,399.9 231.9,399.9 231.9,399.8 231.9,399.7 231.9,399.6 233.6,395.7 233.2,394.9 230.9,393.9 228,392 226.1,391.6 226.1,391.5 226,391.5 223.7,389.4 221.4,387.2 221.4,387.3 221.5,387.3 221.6,387.3 221.7,387.3 221.8,387.3 221.8,387.2 221.8,387.1 222.5,384 222.5,383.9 222.4,382.5 223.2,380.4 225,380.1 226.9,379.7 228.9,379.8 231,381 231,381.6 231.1,381.7 231.1,381.8 231.2,381.8 231.2,381.9 231.3,381.9 231.4,381.9 231.5,381.9 231.5,381.8 231.7,381.7 232.3,382.9Z"/><path fill="#fff5f0" d="M199.8,340.5 199.8,340.6 199.7,340.6 197.8,341.1 195.4,342.8 195.3,343.9 195.2,344 194.7,344.8 195,346.1 195,346.2 195,346.3 194.9,346.3 194.9,346.4 194.8,346.4 193.6,347.1 193.7,348 193.7,348.1 193.6,348.2 193.6,348.3 193.2,348.6 194.1,350.7 195.4,352.2 195.4,352.3 195.5,352.3 195.5,352.4 195.5,352.5 195.5,352.6 195.2,353.3 196.3,353.4 196.4,353.4 196.5,353.4 196.5,353.5 196.6,353.5 197.4,354.8 199.2,354.9 200.9,353.4 201,353.4 201,353.3 201.1,353.3 201.2,353.3 201.2,353.4 201.3,353.4 201.3,353.5 201.4,353.5 201.4,353.6 201.4,357.4 202.2,357.6 203.4,357.1 203.5,357.1 203.6,357.1 203.6,357.2 203.7,357.2 203.7,357.3 204.9,359.4 206,361.5 206,361.6 206,361.7 206,361.8 205.6,362.6 205.6,364.4 205.7,366.6 205.7,366.7 205.7,366.8 205,367.9 205.4,368.7 205.4,368.8 205.4,368.9 205.4,369 205.4,369.1 205,369.8 206.1,371.8 206.1,371.9 206.2,371.9 206.2,372 206.2,372.1 206.1,372.1 205,374.9 204.5,376.3 204.4,376.3 204.4,376.4 203.3,377.1 203.1,376.8 200.7,375 199,373.3 197.3,372.3 195.5,371.3 193.7,370.3 192.4,369.6 190.5,367.1 188.6,364.7 188.6,364.6 187.4,362.5 186.2,360.4 184.9,357.9 183.7,355.2 182.4,352.6 181.1,350 179.9,348.2 179,346.7 177.2,345 176.1,344 176.8,343.3 176.1,342.1 175.6,341 176.2,339.5 177.6,337.9 177.7,337.9 177.9,338.7 177.4,339.2 177.3,339.2 177.3,339.3 177.3,339.4 177.4,340.4 177.4,340.5 177.4,340.6 177.5,340.6 177.5,340.7 177.6,340.7 177.7,340.7 178.6,340.5 179.4,340.7 180.3,342 180.4,342 180.4,342.1 180.5,342.1 180.6,342.1 180.7,342 182,341 182,340.9 182.1,340.8 182.4,339.1 183.7,336.9 186.4,335.9 186.5,335.9 189,333.1 189,333 189.7,331.3 189.8,331.3 189.8,331.2 189.8,331.1 189.5,329.4 189.7,329.3 191.1,330.4 191.8,331.6 191.9,331.6 191.9,331.7 192.9,332.3 194.3,335 194.3,335.1 194.4,335.1 194.5,335.1 194.5,335.2 196.2,335.5 196.3,335.5 196.4,335.4 197.5,334.8 198.2,335.2 198.3,335.2 198.4,335.2 199.7,335 201.1,336 199.9,338.4 199.8,338.4 199.8,338.5 199.8,338.6 199.8,338.7 199.9,338.7 199.9,338.8 200,338.8 200,338.9 200.1,338.9 200.7,339 201.8,340.3 201.9,340.3 201.9,340.4 202,340.4 200,340.2 199.8,340.5ZM202.2,340.3 202.2,340.2 202.2,340.3ZM202.2,340.2 202.2,340.1 202.2,340.2ZM202.2,340.1 202.3,340.1 202.2,340.1Z"/><path fill="#fff5f0" d="M338.9,308.2 337.9,309.6 337.8,310.3 337.7,310.3 337.7,310.4 337.2,311.1 336.8,310.7 334.5,309.4 332.8,306.7 332.7,305.1 332.7,305.8 332.8,305.8 332.9,305.8 333,305.8 334.2,304.6 334.3,304.6 334.3,304.5 334.6,303.8 334.8,303.3 335.4,303.3 335.5,303.3 335.5,303.2 336,302.8 337.6,302.8 338.1,303.6 338.6,304.6 338.5,305.3 338.5,305.4 338.5,305.5 338.9,306.1 338.8,306.9 338.8,307 338.8,307.1 338.9,307.1 338.9,307.2 339,307.2 339,307.3 339.1,307.3 339.2,307.3 339.8,307.1 339.9,307.1Z"/><path fill="#fff5f0" d="M434.8,404.1 432.2,406.9 430.1,410.2 427.3,412.6 424.6,415.1 422,416.4 419.4,417.6 417.5,418.3 414.7,418.1 411.8,418 409.4,418.9 406.9,419.9 405.4,418.8 403.6,418.7 403.6,417.5 402.6,414.9 403.6,412.2 402.6,410.3 401.6,408.3 400.9,404.9 399.9,403.6 400,403.7 400.4,403.2 401.4,403.2 401.5,403.2 401.8,404.2 401.8,404.3 401.9,404.3 401.9,404.4 402,404.4 402.9,404.6 404.3,405.1 404.4,405.1 405.6,404.9 405.7,404.9 407.7,403.5 407.8,403.5 407.8,403.4 407.9,403.4 407.9,403.3 407.9,403.2 408,400.2 408.2,397.2 408.3,394.1 408.5,394.2 409.6,396.5 409.3,398 409.3,398.1 409.4,398.2 409.8,399.2 409.9,399.2 409.9,399.3 410,399.3 410.1,399.3 411.7,399 411.8,399 411.9,399 413,397.8 414.1,397 414.2,397 414.2,396.9 414.7,395.7 415.7,395.2 416.5,395.5 417.5,396.2 417.6,396.3 419.5,396.4 419.6,396.4 421,395.8 421.1,395.7 421.2,395.6 421.5,394.7 421.8,393.7 422.9,393.5 423,393.5 423.1,393.5 423.1,393.4 423.8,392.4 423.9,392.4 423.9,392.3 424.7,390.7 426.7,388.8 429.9,386.9 430.8,386.9 432.6,387.1 433.6,387.3 433.6,387.1 434.4,390.8 434.9,392.6 434.3,395.4 434.3,395.5 434.5,396.5 434.4,395.9 433.7,395.6 433.6,395.6 432.9,395.8 432.8,395.8 432.8,395.9 432.7,396 432.5,396.7 431.8,397.7 431.8,397.8 431.8,397.9 431.7,398.8 431.8,398.8 431.8,398.9 431.8,399 433,400.4 433.1,400.4 433.1,400.5 433.2,400.5 433.3,400.5 434.6,400.2 434.7,400.2 434.7,400.1 434.8,400.1 434.8,400 435.3,399 435.1,399 436.6,399.1 436.7,399.2 436.7,399.3 436.8,399.3 435.8,401.7ZM428.7,405.1 428,404.3 427,403.5 427,403.4 426.9,403.4 426.8,403.4 426.8,403.5 425.7,404 425.6,404 424.4,405 424.4,405.1 424.3,405.1 423,406.8 423,406.9 423,407 423,407.1 423,407.2 424.5,409.2 424.6,409.2 424.6,409.3 424.7,409.3 424.8,409.3 425.6,409 425.7,409 425.7,408.9 425.8,408.9 426.2,408.1 427.3,407.8 427.4,407.8 427.4,407.7 427.5,407.7 427.5,407.6 427.9,406.8 428.7,405.5 428.8,405.5 428.8,405.4 428.8,405.3 428.8,405.2Z"/><path fill="#fff5f0" d="M447.8,277.5 448.4,279.9 451.2,281.7 451.3,282 451.2,282 450.9,282 449.9,283.4 449.9,283.5 449.8,283.5 448.2,283.9 447.6,284.6 447.5,286.2 447.5,286.3 446.7,290 447,291 447,291.1 446.7,293.4 445.8,296 445.8,296.1 444.5,297.4 443.6,299.3 443.4,300.3 443.4,300.4 443.3,300.4 443.3,300.5 442.3,301.2 441.7,304.1 441.7,304.2 441.7,304.3 441.6,304.3 441.5,304.3 441.5,304.4 441.4,304.4 441.1,304.3 441,304.3 440.9,304.2 440.9,304.1 440.8,304 440.9,302.7 440.6,302 439.5,301 439.4,301 439.4,300.9 439.4,300.8 439,298.9 439,298.8 439.2,297.2 438.7,297.1 438.6,297.4 438.6,297.5 438.5,297.5 438.5,297.6 438.4,297.6 438.4,297.7 438.3,297.7 437.5,297.8 437.7,298 437.7,298.1 437.8,298.1 437.8,298.2 438,299.8 438,299.9 438,300 436.7,301.5 435.7,303.3 435.6,303.3 435.6,303.4 435.5,303.4 434.3,303.7 434.2,303.7 434.1,303.7 432.3,302.3 431.7,302.6 431.5,303.3 431.4,303.4 431.4,303.5 431.3,303.5 430.3,303.9 430.2,304.3 430.2,304.4 430.1,304.5 430,304.5 427.7,304.5 427.6,304.5 427.5,304.5 427.5,304.4 427.4,304.4 427.2,304 425.7,303.9 425,304.3 424.9,304.3 424.8,304.3 424.2,304.1 424.1,304.1 424,304 422.8,302.5 422.8,302.4 422.5,301.9 421.1,302.2 420.6,303.3 420.1,305.6 420,305.6 420,305.7 419.9,305.7 419.1,306.2 419.1,306.3 418.4,306.5 418.4,306.6 418.3,306.6 418.2,306.6 418.2,306.5 418.1,306.5 417.1,305.6 417.1,305.5 417,305.5 416.9,304.6 416.9,304.5 416.9,304.4 417.2,303.4 417.2,302.5 415.9,301 415.9,300.9 415.6,299.7 415.6,299.6 415.6,299.2 414.8,298.5 414.8,298.4 414.7,298.4 414.7,298.3 414.7,296.8 414.3,296.1 413.7,296.2 413.6,296.2 413.5,296.2 413.5,296.1 413.4,296.1 413.4,296 413.4,295.9 413.4,295.8 413.6,294.8 413.6,294.7 414.1,293.8 413.9,292.8 413.8,292.8 413.8,292.7 413.9,292.7 413.9,292.6 413.9,292.5 414.5,291.9 414.2,291.5 414.1,291.5 414.1,291.4 414.1,291.3 414.1,291.2 414.7,289.6 415.7,287.6 415.7,287.5 415.8,287.5 415.9,287.5 417.6,287.6 417.5,284.3 417.3,281.1 417.2,277.8 417.3,277.9 417.4,277.9 417.5,277.9 417.6,277.9 417.6,277.8 417.7,277.8 417.7,277.7 417.7,277.6 417.7,276.8 420.1,276.8 420.2,276.8 420.2,276.7 420.3,276.7 420.3,276.6 420.3,276.5 420.2,274 420.1,271.6 423.5,271.6 426.8,271.6 430.1,271.6 433.5,271.6 436.8,271.6 440.1,271.6 443.5,271.6 446.8,271.6 447.3,274.5Z"/><path fill="#fff5f0" d="M380.1,204.3 380.4,203.8 380.5,203.8 380.5,203.7 380.6,203.7 380.7,203.7 382.9,204.5 383,204.5 383,204.6 383.1,204.6 383.1,204.7 383.2,205.2 383.2,205.3 383.2,205.4 383,205.7 383.7,206 384.7,206.1 384.8,206.2 384.9,206.3 384.9,206.4 384.9,206.5 384.8,207.5 384.8,207.6 384.8,207.7 384.7,207.7 384.7,207.8 383.8,208.2 383.7,208.2 382.3,207.9 382,208.7 382,208.8 381.9,208.8 381.9,208.9 381.8,208.9 380.8,209 380.7,209 380.7,208.9 380.6,208.9 380.4,208.7 379.4,209.4 379.4,209.5 379.3,209.5 378.3,209.6 378.2,209.6 378.2,209.5 377.6,209.2 377.6,208.8 377.6,208.7 377.6,208.6 377.6,208.5 376.8,207.4 376.8,207.3 376.7,207.3 376.6,207.3 375.9,207.6 375.9,207 377.3,205.6 377.3,205.5 377.4,205.5 377.4,205.4 377.3,205.1 377.9,205.3 378,205.3 378.1,205.3 378.6,204.9 378.7,205 378.8,205 378.9,204.9 379,204.9 379,204.8 379,204.7 379,204.3Z"/><path fill="#fff5f0" d="M220.9,302.5 223,302.2 223.2,300.5 221,300.8Z"/><path fill="#fff5f0" d="M207.3,323.9 207.7,324.5 207.9,325.2 206.9,324.4ZM224.6,310.3 224.6,310.4 224.6,310.5 224.5,310.5 224.5,310.6 223.9,311.1 223.8,311.1 223.8,311.2 222.6,311.5 222.6,312.5 222.6,312.6 222.5,312.6 222.5,312.7 222,313.2 223.4,315 223.4,315.1 223.7,315.8 223.7,315.9 223.7,316 223.7,316.1 222.8,317.1 222.8,317.2 222.7,317.2 220.1,318.2 220,318.2 218.4,318.6 217.8,319.2 217.7,319.2 217.7,319.3 217.6,319.3 217.6,319.2 215.7,318.6 214.5,318.3 214.8,318.6 214.9,318.6 214.9,318.7 215,318.8 215,318.9 214.8,320.6 215.1,322 216.9,322.2 217,322.2 217,322.3 217.1,322.3 217.1,322.4 217.2,323 217.2,323.1 217.2,323.2 217.1,323.2 217.1,323.3 217,323.3 215.5,324 215.3,325 215.2,325 215.2,325.1 215.1,325.2 214.1,325.6 212.5,326.2 212.1,326.9 212,327 211.9,327 210.1,327.2 210,327.2 209.9,327.2 209.8,327.1 208.7,325.9 208.9,325.8 209,325.8 209,325.7 209,325.6 209.1,325.6 209.1,325.5 209.1,325.4 208.4,322.8 208.4,322.7 207.7,321.8 207.7,321.7 207.1,321.4 208.1,320.3 208.2,320.2 208.2,320.1 208.1,319.5 208.1,319.4 208,319.3 207.4,318.6 207.1,317 207.3,315.3 207.8,314.4 208.3,312.9 208.3,312.8 208.3,312.7 208.2,312.7 208.2,312.6 208.1,312.6 207.3,312.1 207.2,312.1 207.1,312.1 205.8,312.4 204.2,312.2 204.1,312.3 203.4,312.5 202,310.4 201.9,310.4 201.9,310.3 201.8,310.3 200.5,309.9 200.4,309.9 197.6,310.2 197.1,309.4 197.1,309.3 197,309.3 196.6,309.2 196.6,308.9 196.9,308 196.9,307.9 196.9,307.8 196.7,306.7 196.7,306.6 196.2,306.1 196,304.9 196,304.8 195.9,304.8 195.9,304.7 195.8,304.7 195,304.6 195.5,303.5 195.5,303.4 195.6,303.4 195.9,301.6 196,301.5 196.8,300.6 197.5,300 197.5,299.9 198.1,299.2 198.3,299.2 198.7,300.2 200.2,299.8 201.8,299 202,298.2 202.6,296.9 203.1,298.3 203.3,298.8 205.9,299.5 206.3,300.5 207,301.3 209.4,301.1 211.5,301.1 213.6,302.4 214.5,302.2 215.7,301.5 215.6,300.9 217.9,300.9 221,300.7 218.9,301.2 219.3,302.1 220.1,302.7 222.9,303.7 223.1,304.5 224.3,306.3 225.2,306.5 225.4,306.6 225.4,306.7 224.1,308.5Z"/><path fill="#fff5f0" d="M432.6,387.1 430.8,386.9 429.8,386.9 429.7,386.9 429.7,386.8 428.3,385.7 426.7,385.3 426.6,385.3 426.5,385.2 426.5,385.1 425.9,383.5 425.9,383.4 425.9,382.7 425.1,382.4 425,382.4 422.5,379.5 422.5,379.4 421.9,377.9 421.5,377.5 421.4,377.5 421.4,377.4 420.6,375.4 420.7,375.5 420.8,375.5 423.3,375.8 424,376.1 424.1,376.1 424.9,376 425,376 425.1,376 425.1,375.9 426.4,374.2 428.4,372.2 429.2,372 429.2,371.9 429.3,371.9 429.4,371.8 429.7,371 430.9,370 432.3,369.7 432.3,370.4 432.4,370.4 432.4,370.5 432.4,370.6 432.5,370.6 432.6,370.6 432.6,370.7 434.5,370.6 435.4,371.1 435.8,371.7 435.9,371.8 436,371.8 437,372 438,372.7 437.8,375.8 437.3,377.6 437.1,379.6 437.1,379.7 437.4,380.4 437.2,381.7 436.9,381.9 436.8,382 436.8,382.1 436.1,383.9 433.6,386.8 433.6,386.9 433.5,387 433.5,387.1 433.6,387.1 433.6,387.3Z"/><path fill="#fee0d2" d="M524.6,232.2 524.6,232.3 524.5,232.3 523.6,232.7 523.5,232.7 521.1,233.1 519,233.6 518.2,234.5 518.8,235.4 518.9,235.4 518.9,235.5 519.4,236.8 519.5,236.8 519.5,236.9 519.5,237 519.4,237 519.4,237.1 518.7,238.1 519,238.9 519,239 519,239.1 518.6,240.1 518.5,240.1 518.5,240.2 518.4,240.2 516.8,240.1 517.7,241.4 517.7,241.5 517.7,241.6 517.7,241.7 517.7,241.8 517.6,241.8 516.5,242.4 515.9,243.9 516.4,245.3 516.4,245.4 516.4,245.5 516.3,245.5 516.3,245.6 515.6,246.3 515.6,246.4 515.5,246.4 515.4,246.4 514.6,246.2 513.1,246.5 513.1,247 513.1,247.1 513,247.1 513,247.2 512.9,247.2 511.3,247.2 510.5,248.5 510.8,250.6 510.8,250.7 510.8,250.8 510.7,250.9 508,252 507.9,252 506.4,251.8 506.1,252.3 506,252.3 506,252.4 505.9,252.4 504.6,252 502.4,252.4 502.3,252.4 499.4,251.4 498.8,250.8 500.2,248.6 500.3,248.6 500.3,248.5 500.3,248.4 500.3,248.3 499.8,246.7 499.8,246.6 499.7,246.6 499.7,246.5 499.6,246.4 499.5,246.4 498,246 497.6,244.6 497.6,244.5 497.5,244.5 496.5,242.6 497.1,241.3 497.1,241.2 497.1,241.1 497.1,241 497.1,240.9 497,240.9 497,240.8 496.9,240.8 496.1,240.5 496.3,238.9 496.5,236 498.7,236.8 498.8,236.9 498.8,236.8 500.4,236.5 500.5,236.5 500.5,236.4 500.5,236.3 500.7,235.3 502.2,234.9 502.3,234.9 503.3,234.1 503.4,234.1 503.4,234 503.4,233.9 503.4,232 504.9,231.5 505,231.5 505,231.4 505,231.3 505.1,230.7 506,231.3 506.1,231.3 506.8,231.4 508,231.4 509.7,232 510.4,232.3 510.5,232.3 510.6,232.3 511.9,231.5 512.6,231.9 512.7,231.9 512.8,231.9 512.9,231.9 512.9,231.8 513.3,230.7 514.4,230.8 514.5,230.8 514.6,230.8 514.6,230.7 514.8,230.3 514.8,230.2 514.9,230.2 514.8,229.2 515.4,228.5 516.3,228.9 516.3,229.4 516.3,229.5 516.3,229.6 516.3,229.7 516.4,229.7 516.4,229.8 516.5,229.8 516.6,229.9 517,229.9 517.3,231.8 517.3,231.9 517.4,231.9 517.4,232 517.5,232.1 518.5,232.9 518.6,233 518.7,233 518.8,233 518.9,233 519.4,232.4 520.3,232.2 520.4,232.2 520.4,232.1 521.3,231 522.8,231.2 525,231.2 525.1,231.2 525.2,231.2 525.2,231.1 524.6,232.2ZM525.2,231 525.2,230.9 525.2,231Z"/><path fill="#fee0d2" d="M392.6,344.1 392.7,344.1 393.3,344.1 394.1,343.8 394.2,343.8 397.6,343.8 401,343.9 401.1,343.9 401.2,344 401.2,344.1 401.8,346 402.4,347.5 402.9,348.4 403.7,349.6 405,349.4 405.7,349 405.8,349 405.9,349 407,349.3 407.2,348.9 407.8,347.4 407.9,347.3 407.9,347.2 408,347.2 409.3,347.1 409.3,346.9 409.4,346.8 409.4,346.7 409.5,346.7 409.6,346.6 410.8,346.6 410.9,346.7 411,346.7 411,346.8 411.1,346.9 411.1,347 410.9,347.6 413.4,347.6 413.5,347.6 413.6,347.6 413.6,347.7 413.6,347.8 413.7,347.8 413.7,347.9 413.7,349.4 414.1,350.4 414.1,350.5 414.1,350.6 413.8,352.1 413.9,353.6 414.6,354.5 414.7,354.6 414.7,354.7 414.5,357.3 414.7,357.3 414.7,357.2 414.8,357.2 415.8,357.3 417.2,356.9 417.3,356.9 418.3,357.1 418.4,357.1 418.4,357.2 418.5,357.2 418.5,357.3 418.7,358.1 418.8,358.1 418.8,358.2 418.8,358.3 418.5,359.4 418.8,360.6 418.8,360.7 418.8,360.8 418.5,361.7 418.7,362.5 418.7,362.6 418.7,362.7 418.6,362.7 418.6,362.8 418.5,362.8 418.5,362.9 418.4,362.9 416.1,362.9 413.9,362.9 413.8,365.5 413.7,368.1 413.6,370.8 415,372.8 416.4,374.4 416.5,374.5 416.5,374.6 416.5,374.7 416.5,374.8 416.4,374.8 416.4,374.9 416.3,374.9 414.2,375.5 412,376 409.2,375.8 406.5,375.7 406.4,375.6 406.3,375.6 404.8,374.4 401.8,374.4 398.8,374.5 395.7,374.5 395.5,374.7 395.4,374.7 395.3,374.7 395.2,374.7 395.2,374.6 393.9,373.5 394.3,373.8 391.5,373.8 391.3,373.9 390.2,374.3 390.1,373.9 390.3,370.7 391.1,368.6 391.5,366.3 392,364.1 394,361.8 394.5,359.7 395,357.6 394.4,354.7 393.7,351.8 394.2,349.5 392.8,346.8 391.7,344.6 391.6,344.4 391.7,344.4 392.6,344.1Z"/><path fill="#fee0d2" d="M673.1,436.4 674.2,436.1 677.3,435.3 677.5,436 676,438.3 675.4,439.2 673.1,441.7 669.8,442.8 668.3,442.6 668.5,441.9 668.9,439.1 669.3,437 670.3,435.2 671.7,435.8ZM692.2,360.2 692.5,363.3 692.8,366.5 694.2,365.8 695.7,367.9 695.4,369.2 695.9,373 696.3,374.6 696.6,376.9 696.9,379.2 699.8,381.1 701.3,384.1 701.7,387.1 703.7,387.4 703.6,389.4 704.3,391.2 706.1,393.7 708,393.4 707,396.6 706.6,399.6 705.8,402.4 705.5,403.7 704.1,405.9 702.7,408.1 701,411.1 696.7,414.9 694.4,417.3 692.7,418.9 691.7,420.6 689.5,422.2 688.1,424.5 686.5,426.9 684.1,427.4 681.7,427.9 679.1,429.5 676.4,431.1 675.3,429.8 675.1,427.8 673.9,429 670.6,430.4 669.1,429.2 667.3,429.1 665.8,428.3 665.1,425.4 665.8,422.8 665.2,421.8 663.4,421.9 665.1,420.1 664.9,418.3 663.2,420.6 661.2,421.1 664.4,417.5 666,415.6 666.3,413.8 665.2,415.3 663.2,417 659.6,419.7 659.6,420.3 658.1,419.3 658.7,416.8 658.1,414.6 657.6,412.9 655.2,412.5 652.8,411.1 650.2,411.4 647.6,411.7 644.1,412.5 640.6,413.3 637.2,414.9 634.7,416.7 632.4,417 630,417.4 628,417.5 626,417.6 624,418.8 622,419.6 620.1,420.5 619.3,420.7 617.5,420.4 616.1,419.6 614.7,418.7 615.3,416.5 616.9,416 618.3,412.6 618.2,409.9 618.2,408.1 618.4,406.1 618.5,404.1 618.2,401.3 617.7,399.2 617,397.2 618.2,395.5 618.7,397.3 618.9,393.9 618.7,392.1 620,389.4 621.6,385.8 621.6,387.7 622.7,386 623.8,385.4 625.8,384.1 627.9,382.8 630.1,382.4 632.3,381.9 635.7,380.9 637.7,379.4 639.6,378 641.6,375.8 642.8,373.8 644,371.7 645.1,374.1 645.4,372 647.3,371.6 647.9,369.3 649.9,367 652,365.9 654.2,364.8 655.9,366.7 656.6,367.8 656.2,369.1 658.5,367.7 659.8,366.1 660.3,364.6 662,363.7 663.6,361.4 665.8,360.7 666.1,358.4 668,358 669.9,359.7 671.4,360.3 673.3,360.3 675.3,360.3 677.3,360.7 677.7,361.1 676.5,363.6 675.1,363.6 674.5,365.9 673.2,367.4 675.6,370.4 678.3,372.1 679.9,373.4 681.4,374.7 684.3,374.4 686.3,370.9 687,369.3 687.3,367.8 687.6,365.7 687.9,363.6 688.7,361.9 688.7,360.2 690,357.6 691,356.8Z"/><path fill="#fee0d2" d="M373.1,194.5 373.2,194.5 373.3,194.5 374.6,195.6 374.6,195.7 374.7,195.7 374.7,195.8 374.8,196.2 375.4,196.4 375.5,196.4 375.5,196.5 376.1,197.2 376.1,197.3 376.1,197.4 376.1,197.5 375.7,198.3 375.7,198.4 375.6,198.5 375.1,198.6 375,199.5 374.8,199.4 373,198.3 373,198.2 372.9,198.2 372,198.4 370.6,197.3 369.7,196.3 369.6,196.3 369.6,196.2 369.5,196.2 368.8,196.2 368.6,195.7 368.6,195.6 369.1,195.4 370,195.1 370.2,194.9 370.3,194.8 371.3,195 373.1,194.5Z"/><path fill="#fee0d2" d="M162.3,283 161.6,285.6 160.2,287.2 160.4,287 160.3,287 160.3,286.9 160.2,286.9 159.8,286.9 160.2,284.3 160.5,282.2 160.8,282.3 160.9,282.3 161,282.3 161.1,282.3 161.1,282.2 162.1,280.7 162.2,280.7 162.4,281.6 162.5,281.6 162.5,281.7 162.6,281.7 162.6,281.8Z"/><path fill="#fee0d2" d="M206.7,356.6 206.7,356.5 208.7,355.5 209.8,354.5 209.9,354.5 212.9,354 213,354 213.1,354 213.1,354.1 213.2,354.1 213.2,354.2 213.2,354.3 213.3,354.3 213.3,354.4 213.1,356.3 213.4,357.2 213.4,357.3 213.5,357.3 213.5,357.4 213.4,358.9 215.8,361.1 218.3,361.5 218.4,361.5 218.4,361.6 218.5,361.6 219.4,362.5 220.9,363 221,363.1 221.9,363.8 223.3,363.7 223.3,363.8 223.4,363.8 224.8,364.6 224.9,364.6 224.9,364.7 224.9,364.8 225,364.8 225.1,366.2 225.6,366.9 225.6,367 225.6,367.1 225.7,367.1 225.8,368.2 225.8,368.3 225.7,368.4 225.7,368.5 225.6,368.5 225.6,368.6 225.5,368.6 225.2,368.6 226.1,371 228.2,371.1 230.3,371.1 230.4,371.1 230.4,371.2 230.5,371.2 230.5,371.3 230.6,371.3 230.6,371.4 230.6,371.5 230.4,373 230.6,373.8 231.8,374.4 231.9,374.4 231.9,374.5 232,374.5 232,374.6 232.6,376.2 232.7,376.3 232.7,376.4 232.4,378.5 232.4,378.6 231.9,379.6 232.2,381 232.2,381.1 232.2,381.2 232.2,381.3 232.1,381.3 231.5,381.8 231.5,381.9 231.4,381.9 231.3,381.9 231.2,381.9 231.2,381.8 231.1,381.8 231.1,381.7 231,381.6 231,381 228.9,379.8 226.9,379.7 225,380.1 223.2,380.4 222.4,382.5 222.5,383.9 222.5,384 221.8,387.1 221.8,387.2 221.8,387.3 221.7,387.3 221.6,387.3 221.5,387.3 221.4,387.3 221.4,387.2 221,386.7 218.8,386.6 218.2,388.6 218.1,388.6 218.1,388.7 218,388.7 218,388.8 217.9,388.8 217.9,388.7 217.8,388.7 217.7,388.7 217.7,388.6 216.3,386.8 213.5,386.3 212.3,389.1 212.3,389.2 212.2,389.2 212.1,389.3 212.1,389.2 212,389.2 211.9,389.2 211.9,389.1 211.8,389.1 211.6,388.6 210.2,388.9 210.1,388.9 210,388.9 210,388.8 209.9,388.8 209.9,388.7 208.6,385.1 207.1,382.2 207.1,382.1 207.1,382 207.5,379.7 206.3,378.7 206.3,378.6 206.2,378.5 205.8,376.7 204.8,375.4 205,374.9 206.1,372.1 206.2,372.1 206.2,372 206.2,371.9 206.1,371.9 206.1,371.8 205,369.8 205.4,369.1 205.4,369 205.4,368.9 205.4,368.8 205.4,368.7 205,367.9 205.7,366.8 205.7,366.7 205.7,366.6 205.6,364.4 205.6,362.6 206,361.8 206,361.7 206,361.6 206,361.5 204.9,359.4 203.7,357.3 203.7,357.2 203.6,357.2 203.6,357.1 203.5,357.1 205.2,357.4 206.2,357.3 206.6,356.6Z"/><path fill="#fee0d2" d="M606.1,292.1 606.8,290.5 606.9,290.5 606.9,290.4 607,290.4 607.1,290.4 609.3,291.4 609.4,291.4 609.4,291.5 609.5,291.6 610.2,293.3 610.2,293.4 610.3,296.6 610.3,296.7 610.2,296.7 610.2,296.8 610.1,296.8 608.5,297.7 606.8,298.7 607.7,299.9 607.7,300 607.7,300.1 607.8,300.1 607.8,300.2 607.7,300.3 607.7,300.4 607.6,300.4 607.5,300.4 605.2,300.6 603.7,301.8 603.5,301.6 602.9,301.2 601.2,301.1 599.8,298.6 599.9,298.5 599.9,298.4 599.9,298.3 599.9,298.2 599.8,298.2 599,296.8 598.2,293.9 599.3,291.9 602.1,291.4 604.2,291.8 604.3,291.8 604.4,291.8 604.4,291.7 604.5,291.7 604.6,291.3Z"/><path fill="#fee0d2" d="M382.6,316.5 382.9,316.4 382.6,316.5ZM397.6,312.2 397.6,312.3 397.5,312.3 397.1,312.7 396.9,314.5 397.2,315.6 397.2,315.7 397,316.3 398,317.6 398.1,317.7 398.3,318.6 399.1,319.8 400.1,320.7 400.2,320.8 400.2,320.9 400.3,322 400.5,322.8 400.6,322.8 400.6,322.9 400.4,324.3 400.4,324.4 400.4,324.5 400.3,324.5 400.3,324.6 400.2,324.6 400.1,324.6 400,324.6 398.2,324 396.4,323.3 393.5,323.2 393.4,323.2 393.2,323.1 391.9,323.4 391.8,323.4 390.4,323 389.4,323.2 387.5,323.2 385.6,323.1 385.5,323.1 385.5,322.8 386.2,321.1 385.7,318.3 383.8,317 383.1,316.5 383.2,316.4 383.8,314.6 384.8,312.3 385.3,312.2 385.4,312.2 386.7,310.7 387.4,310.7 388.6,311.7 388.7,311.7 388.8,311.7 388.9,311.7 390.5,310.8 390.6,310.8 390.6,310.7 390.6,310.6 390.7,310.6 390.8,309.6 391.3,308.5 391.4,308.5 391.7,307.2 392.8,306.2 392.9,306.2 392.9,306.1 393.4,304.3 393.8,303.8 393.9,303.7 394.2,302.3 394.7,300.7 396.6,298.8 396.6,298.7 396.7,298.7 396.7,298.6 396.8,297.8 397,297.3 397,297.2 397,297.1 397,297 397,296.9 396.1,296 396.1,295.6 396.4,295.5 397.2,296.9 397.4,298.6 397.3,300.3 397.3,300.4 397.4,300.5 398.4,302.4 397.6,302.4 397.5,302.4 396.9,302.5 395.9,302.3 395.8,302.3 395.7,302.3 395.7,302.4 395.6,302.5 395.1,303.7 395.1,303.8 395.1,303.9 395.2,304 396.6,305.6 396.7,305.6 397.6,306 397.9,307 398.6,308.7 398.3,309.2 398.3,309.3 398.2,309.3 398.2,309.4 398.2,309.5 398.3,309.5 398.3,309.6 398.4,309.6 398.4,309.7 398.5,309.7 398.7,309.7 397.6,312.2Z"/><path fill="#fee0d2" d="M107.4,196.6 109.1,196.7 110.6,197.6 112.1,198.5 113.3,200.7 113.1,202.6 111.4,201.9 109.7,201.3 109.1,200.7 108.3,199.6 107.6,198.5ZM105,190.7 104.2,193.5 103.5,191 104.6,188.2 107.1,188.5ZM152.8,152 154.7,151.4 156.6,150.9 156.8,152.2 159.2,151.8 161.7,151.5 163.3,152 165,152.5 166.7,153.1 167,154.3 167.4,155.6 169.1,155.7 170.8,155.8 172.4,155.8 174.2,156.4 176,157 177.7,157.5 179.8,155.3 181.9,154.8 184,154.4 185.8,154.8 187.7,155.3 189.6,155.7 191.9,155.7 194.1,155.7 196.4,155.7 199.4,154.2 200.2,154.7 201,155.3 201.9,153.7 201.2,154 199.7,153.6 198.3,153.1 196.9,152.6 199,151.8 201.2,151.1 202.2,151.4 203.1,151.7 204.6,150 206.2,148.3 208.1,147.5 210.1,146.7 210.3,148.2 210.6,149.8 210.6,151.7 211.2,152.6 211.7,153.5 214.1,152.6 214.2,154.7 214.3,156.8 217.2,155.3 219,153.4 220.8,151.5 222.8,151.4 224.8,151.4 226.8,151.3 227,152.6 224.8,155.3 222.1,158 219.5,158.2 217,158.4 214.4,158.7 215.2,160 217.2,160 218.3,161.6 219.5,163.2 220.7,164.9 219,165.1 217.2,165.3 216,164.2 213.3,165.1 210.5,166 209.3,165.7 208,165.3 211.7,163 213.5,160.7 211.1,161.4 207.5,163.9 204.4,164.9 201.3,165.9 197.9,167.2 194.7,169.2 191.5,171.2 189.5,174 187.5,176.8 187.5,178.7 187.6,180.6 189.4,180.5 191.2,180.4 192.7,181.4 194.2,182.5 195.7,183.5 197.9,184.1 200.2,184.6 202.4,185.1 204.7,185.6 203.4,188.3 202.1,191 202.7,193.1 203.4,195.2 205.2,194.7 208,192.2 208.8,190.3 209.6,188.5 209.1,186.9 211.3,186.1 213.6,185.3 217.4,182.3 217.2,179.9 217.1,177.6 218.9,175.6 220.7,173.7 221.4,170.3 222.9,168.1 224.8,168.3 226.6,168.6 228.3,169 230,169.4 231.7,169.8 232.6,171.4 234.4,171.3 236.2,171.2 235.1,173.4 234,175.5 235.3,177.4 236.8,177.9 238.4,177.3 240.1,176.7 242.5,174.8 244.9,173 244.6,175 245.2,178.6 245.8,182.2 246.7,183.5 247.6,184.9 249.4,185.7 251.2,186.5 251.6,188 252.1,189.2 253.6,192.2 253.6,192.8 251.7,193.9 249.9,194.9 248.1,195.4 246.4,196 244.1,196.7 241.8,197.3 239.5,198 237.2,198 234.9,198 232.6,198 230.3,198 228.1,199.3 225.9,200.5 223.8,201.9 221.8,203.2 219.6,204.9 217.5,206.7 219.6,205.3 221.8,204 224.5,202.4 226.9,201.4 229.1,200.9 231.3,200.4 233.4,201.7 233.2,202.3 230.8,202.9 228.4,203.5 229.5,204.6 232.1,203.7 230.6,206 230.1,208.2 232.1,208.4 234,209.5 236.6,209.7 239.3,206.1 240.2,208.7 237.2,210.5 234.3,211.4 231.4,212.3 228.7,213.8 226.2,215.4 225.4,214.5 225.9,214.1 225.9,214 226,214 226,213.9 226.1,213.9 226.1,213.8 226.1,213.7 226.1,213.6 226,213.6 225.9,213.4 226.7,212.3 230.2,210.4 229.7,209.5 226.7,210.6 224.8,211.5 224.7,211.3 224.6,210.8 224.6,210.7 223.8,209.3 224.9,206 224.9,205.9 224.9,205.8 224.9,205.7 224.2,205 224.2,204.9 224.1,204.9 224.1,205 222.7,205.3 222.3,204.8 222.3,204.7 222.2,204.7 222.1,204.7 222,204.7 222,204.8 219.7,206.7 219.7,206.8 219.6,206.8 218.3,208.8 217.3,209.8 216.4,210.2 215.7,210.3 215.6,210.3 215.6,210.4 215.5,210.4 215.5,210.5 215.2,210.9 212.9,210.9 210.6,211 208.4,211 208.3,211 207.2,211.5 207.1,211.5 203.9,213.5 203.9,213.6 203.8,213.6 202.9,214.5 201,214.5 199.1,214.5 199,214.5 197.9,214.9 197.8,215 197.7,215 197.7,215.1 197.6,215.1 197.6,215.2 197.6,215.3 197.6,215.4 197.7,215.9 197.6,216.6 194.6,217.8 192.3,218.2 188.9,219.5 188.5,219.2 188.5,218.8 189.2,218.1 190.7,216.7 190.7,216.6 191.9,215.1 192,215 192,214.9 192.5,212.6 193,210.3 193,210.2 193,210.1 192.9,210.1 191.5,209 191.6,208.9 191.7,208.8 191.7,208.7 191.7,208.6 191.7,208.5 191.6,208.2 191.5,208.1 191.4,208.1 191,208.1 190.9,207.2 190.9,207.1 190.8,207.1 190,207 189.8,206.8 189.8,206.3 189.8,206.2 189.8,206.1 187.9,204.9 186,203.7 184.2,202.5 184.1,202.5 181.3,203.3 179.2,202.6 179.1,202.6 177.4,202.9 175.8,202.2 175.8,202.1 173.9,201.7 172.3,201.2 172.5,200.1 172.5,200 172.5,199.9 172.4,199.9 171.9,199.8 171.8,199.8 171.7,199.8 171.6,199.8 171.6,199.9 171.5,199.9 171.5,200 171.4,200 171.4,200.1 171.1,200.7 168.2,200.7 165.2,200.7 162.3,200.7 159.4,200.7 156.5,200.7 153.6,200.7 150.6,200.7 147.7,200.7 144.8,200.7 141.9,200.7 139,200.7 136,200.7 133.1,200.7 130.2,200.7 127.3,200.7 124.4,200.7 121.4,200.7 118.5,200.7 115.6,200.7 115.5,200.8 115.3,200.9 115,200.3 113.4,198.8 112.7,197.8 111,196.5 109.1,195.6 110.4,193.1 111.1,191 110.7,189.3 110.4,187.7 111.5,186.7 111.1,186.7 113.1,185.5 113.2,185.5 113.2,185.4 113.3,185.4 113.3,185.3 114.6,183.7 114.7,183.7 114.7,183.6 114.7,183.5 113.8,182.7 112.9,181.9 113.3,179.7 113.9,177.5 113.9,177.4 113.2,176.3 112.9,175.4 113.1,174.1 113.2,174.1 113.1,174.1 113.1,174 113,174 113,174.1 110.4,174.9 110.3,174.9 107.4,176.1 107.3,174.7 107.3,174.6 107.1,173.6 106,172.9 105.9,172.9 104.4,172.8 107.6,169.7 110.9,166.6 114.3,163.6 117.7,160.6 121.1,157.6 124.6,154.7 128.2,151.8 129.8,152.1 131.4,152.5 133,152.9 134.6,153.3 137,152.6 139.5,152 141,152.1 143.4,151.7 145.9,151.3 148.3,150.9 150.2,150.3 152.1,149.7 152.5,150.8ZM168.5,150.9 170.9,150.7 173.3,150.5 175.6,150.4 178,150.2 175.8,150 173.6,149.8 171.5,149.6 169.3,149.3 172.9,148 171.6,147.7 170.3,147.4 173.6,145.5 173.1,145.7 170.4,146.7 167.6,147.6 164.9,148 162.1,148.5 161.2,147.5 160.4,146.5 163.4,144.4 168.5,141.7 170.8,141.5 173.1,141.2 174.6,141.4 176.2,141.6 177.8,141.8 178.1,142.8 178.5,143.8 176.8,144.4 179.3,144.1 181.8,143.7 183.6,144 185.3,144.3 187.1,144.6 187.7,145.6 188.3,146.5 191,144 193.2,143.8 195.5,143.6 196.9,144.3 198.4,145.1 197,147.6 194.4,148.2 191.9,148.7 193.2,149.3 194.6,149.8 196,150.4 194.2,151.5 191.8,152 189.5,152.4 187.1,152.8 185.2,153.1 183.3,153.3 181.5,153.5 179.6,153.6 177.8,153.8 175.7,153.9 173.7,154 171.6,154 170.3,153.7 169,153.3 168.8,152.1ZM209,142.8 208.2,145.1 205.5,147.2 203.6,147.6 201.6,147.9 200.5,147.3 199.5,146.7 198.4,146.1 199.4,144.4 201.9,143.5 204.5,142.6 206,142.6 207.5,142.7ZM183.2,138.3 185.7,137.9 188.2,137.5 190.1,137.4 192.1,137.4 194.1,137.3 196,137.3 197.4,137.1 198.8,136.9 199.7,137.4 200.5,137.9 201.4,138.5 198.4,140.3 196.2,140.4 193.9,140.6 191.7,140.7 189.6,140.9 187.5,141.2 185.3,141.4 184,140.8 182.6,140.3 181.3,139.7ZM213,139.1 211,140.2 209.2,140.2 207.4,140.1 205.6,140.1 204.9,139.4 204.2,138.7 206.2,138 208.2,137.3 210.1,137.2 211.9,137.1 213.8,137.1ZM183.2,138.3 181.5,138.2 179.7,138.1 177.9,138 176.2,137.9 179.7,136.8 183.1,135.7 185.3,135.5 187.5,135.4 189.7,135.3 188,137.1 185.6,137.7ZM214.4,134.7 212.8,134.4 211.2,134.1 209.7,133.7 213.7,131.9 215.2,132.2 216.7,132.5 218.3,132.8ZM231.5,206.9 233.8,207.2 236,207.6 234.6,208.7 232.2,207.9ZM253.3,194.5 251.7,197 249.9,198.8 251.3,199.3 252.6,199.8 254,200.1 255.4,200.4 255.9,201.8 254.3,203.6 255.8,204.1 256,204.7 254.5,207 252.3,206.5 253.3,204.4 250.3,206.4 250.1,204.9 248.1,204.7 246.1,204.6 244.3,204.6 242.4,204.6 243.4,202.3 246.6,199.8 249.6,196.7 251.4,195.6ZM238.8,200.8 237.2,200.7 235.9,200 234.7,199.3 233.9,198.8 236.3,199.8ZM215.5,167 215.8,167.7 213,168.6ZM226.8,161.4 229,161.2 231.2,160.9 233.3,160.7 236.3,158.7 239.7,155.9 238.5,155.1 237.3,154.3 236.2,153.5 235,152.8 233.8,152 232.6,151.3 232.6,150.2 230.6,150.4 228.5,150.6 226.5,150.9 224.5,151.1 222.9,151 221.3,150.9 219.9,150.6 218.5,150.3 217,150 216.5,148.7 217.4,147.1 218.4,145.5 221.3,143.2 223.2,143.1 225.1,143 226.9,142.9 228.8,142.8 227.3,145.5 229.8,144.6 232.4,143.8 235,143 236.8,143.1 238.7,143.2 239.7,144 240.6,144.9 241.4,145.9 242.3,147 243.9,147.4 245.5,147.8 247.1,148.3 248.5,149.1 250,149.9 250.5,151.2 251,152.6 252.1,153.6 253.2,154.7 254.3,155.7 255.9,157.1 257.5,158.4 255.5,160 253.6,161.2 251.7,162.3 250.3,161.2 248.8,160 247.4,158.9 244.9,160.2 245.7,162 246.5,163.8 247.4,165.6 247.4,167 245.4,166.3 243.4,165.6 241.5,165 242.7,166.4 243.9,167.9 245.2,169.3 243.3,168.7 241.5,168.2 239.7,167.6 237.8,167.1 236.3,165.9 234.8,164.8 233.3,163.7 231.5,163.8 229.7,163.8 227.9,163.9 226.7,163.5 225.6,163ZM219,144.9 216.6,145.7 214.2,146.5 213,146.5 211.8,146.5 211.2,145.7 210.6,144.9 212.2,142.8 214.5,142.4 216.9,142 218.7,142.3 220.5,142.7ZM221.4,138.9 220.3,138.3 219.3,137.7 218.3,137.1 220.7,136.7 223,136.3 224.6,136.7 226.2,137.1 227.8,137.5 229.7,137.5 231.6,137.5 233.6,137.5 231.6,137.3 229.7,137.1 230.9,135.3 233.8,134.3 236.7,133.4 240.2,131.5 239.9,130.5 239.6,129.6 238.9,129 238.2,128.4 237.5,127.9 239.7,127.6 241.8,127.2 243.9,126.9 246.1,126.6 248.2,126.4 250.4,126.2 252.5,126.1 254.7,125.9 256.8,125.7 258.6,125.7 260.5,125.6 262.3,125.6 264.2,125.6 266,125.6 267.9,125.5 269.5,125.6 271.1,125.7 272.7,125.8 274.4,125.8 275.7,126.1 277,126.5 278.3,126.8 276,127.4 273.7,128.1 271.8,128.6 269.9,129.2 267.9,129.7 265.6,130.2 263.2,130.7 260.9,131.2 258.3,131.8 255.7,132.5 253.1,133.2 251.2,134.3 248.1,135.7 244.9,137.1 242.6,137.5 240.3,137.9 238.8,137.8 237.3,137.7 235.8,137.6 237.5,138 239.2,138.3 239.9,139.5 236.5,141.2 234.5,141.2 232.5,141.3 230.5,141.3 228.5,141.3 226.5,141.2 224.5,141.1 222.5,140.9 220.4,140.8ZM235.4,129.6 235.7,130.4 236.1,131.3 235.7,133 234,133.5 232.4,133.9 230.7,133.7 229,133.4 227.4,133.2 226.6,132.6 226,131.9 225.3,131.3 226.6,129.7 228.7,129.3 230.7,128.8 232.7,128.4 233.6,128.8 234.5,129.2Z"/><path fill="#fee0d2" d="M207.2,438.1 207.9,437.5 206.3,434.7 206.8,433.1 206.1,430.3 204.6,427.1 205.1,424.9 205.2,422.7 205.8,421.2 206.1,418.7 206.4,416.6 206.1,415.2 205.8,412.5 205.1,410.3 204.5,408.1 205,407.1 204,403.4 204.8,399.6 205,397.7 205,395.2 204.8,393 204.6,390.7 203.9,389.1 204.5,386.6 204.3,384.1 204.1,381.7 203.8,380.1 203.3,377.1 204.4,376.4 204.4,376.3 204.5,376.3 204.8,375.4 205.8,376.7 206.2,378.5 206.3,378.6 206.3,378.7 207.5,379.7 207.1,382 207.1,382.1 207.1,382.2 208.6,385.1 209.9,388.7 209.9,388.8 210,388.8 210,388.9 210.1,388.9 210.2,388.9 211.6,388.6 211.8,389.1 211.9,389.1 211.9,389.2 212,389.2 211.9,391.7 211.9,391.8 211.8,391.9 211.7,391.9 209.6,393.1 209.9,395.2 210.2,397.3 210.2,397.4 210.2,397.5 210,398.1 210.6,399 210.7,399 210.7,399.1 210.7,399.2 210.7,399.3 210.7,399.4 210.6,399.4 209.4,401 208.3,403.4 208,405.7 208.6,408.1 208.6,408.2 208.6,408.3 207.8,410.9 208.8,413 209.7,415.2 210.3,415.6 210.4,415.6 210.4,415.7 210.4,415.8 210.5,415.8 211,418.2 211,418.3 211,418.4 210.4,420.9 210.9,423 210.9,423.1 210.9,423.2 209.7,424.8 210.3,427 211.6,429.5 211.7,429.6 211.7,429.7 211.7,429.8 211.7,429.9 211.6,429.9 210.7,430.8 210.8,433 211.1,435.6 212.4,438.7 212.4,438.8 212.4,438.9 212.4,439 211.8,439.4 213.1,442.1 214.3,443 214.4,443 214.4,443.1 214.5,443.1 214.5,443.2 214.5,443.3 214.5,443.4 214.3,444.2 215.1,444.5 215.1,444.6 215.2,444.6 215.2,444.7 215.3,444.7 215.8,445.7 215.9,445.7 215.9,445.8 215.9,445.9 215.9,446 215.8,446 215.2,446.4 215.8,447.7 215.9,447.7 215.9,447.8 216.3,451.2 216.3,451.3 216.1,453.4 216.7,454.5 216.7,454.6 216.8,454.6 216.8,454.7 216.8,454.8 216.7,456.4 216.7,456.5 215.7,457.5 216.8,459.9 217.7,460.6 218.8,460.5 218.9,460.5 219,460.5 219,460.6 219.1,460.6 219.1,460.7 219.2,460.7 219.2,460.8 219.9,462.6 221.2,463.9 223.6,464 226,464.2 228,464.6 228.2,464.6 228.6,465 228.4,465.8 228.7,466 229.8,468.5 230.8,471 232.6,471.2 234.3,471.3 234.4,471.3 234.5,471.4 234.6,471.5 235,472 234.5,474 232.7,473.3 230.6,472.7 228.5,472.1 226.2,471.2 224,470.4 222.1,468.9 219.3,467.4 216.5,466 215.3,464.1 213.8,462 212.4,459.8 211.2,456.6 211.3,454.6 211.4,452.7 208.5,451.1 209.1,448.4 209,446.3 208.5,443.8 208,441.7Z"/><path fill="#fee0d2" d="M614.6,279.6 612.6,281.1 610.3,278.8 611.4,276.7 613.7,276.4 615.4,277.4ZM539.9,200 539.9,200.1 539.9,200.2 539.9,200.3 539.9,200.4 540,200.4 541.3,202.2 541.4,202.2 541.4,202.3 541.5,202.3 543.8,203.7 543.9,203.7 547.2,204.7 549.3,206.5 549.8,209.3 549.8,209.4 549.9,209.5 549.9,209.6 550,209.6 551.2,210.7 551.2,210.8 551.3,210.8 551.4,210.8 554.1,211.3 557,211.6 560.2,213.2 560.2,213.3 561.5,213.5 563.4,215.7 563.4,215.8 563.5,215.8 565.4,217.3 565.4,217.4 565.5,217.4 565.6,217.4 567.9,217.4 570.2,217.7 572.5,218 572.6,218 575.2,217.6 577.3,218 581.1,219.5 581.2,219.5 581.2,219.6 583.7,219.6 584.9,220.3 585,220.3 585,220.4 585.1,220.4 585.2,220.3 587,219 588.4,218.5 589.9,218.1 593,218 595,217.1 595.1,217.1 595.1,217 595.9,215.6 596.9,214.8 596.9,214.7 596.9,214.6 596.9,214.5 596.8,214.5 596.8,214.4 596,213.5 595.9,213.5 595,212.7 595.1,211.4 596.3,211.6 598.6,212.1 598.7,212.1 598.8,212.1 598.8,212 600.1,210.7 601.4,210.2 602.7,209.7 602.7,209.6 603.3,208 604.2,207.3 606.9,206.9 608.7,207.2 608.8,207.2 608.9,207.2 608.9,207.1 608.9,207 608.5,206.1 608.5,206 608.4,206 608.4,205.9 608.3,205.8 608.2,205.8 605.3,204 605.2,203.9 603.1,203.1 603,203.1 602.9,203.1 602,204 599.8,203.7 599.7,203.7 598.9,203.9 598.1,203.2 598,200.9 597.8,199 597.8,198.9 597.8,198.8 597.7,198.8 597.7,198.7 597.6,198.7 597.6,198.6 597.5,198.6 597.5,198.5 597.4,198.5 600.3,199.4 601.9,198 601.3,197.1 601.3,197 601.2,197 601.2,196.9 601.1,194.2 601.1,194.1 601.2,194.1 601.6,193.4 600.9,192.4 599.6,191.9 599.5,191.9 599.5,191.8 599.4,191.8 599.3,191.7 599.3,191.6 599.2,191.6 599.2,191.5 599.1,191.5 599.1,191.4 599.1,191.3 599.8,190.1 599.9,190.1 602,189.6 604.5,189.5 604.6,189.5 606.3,189.9 608.1,190.3 610.6,191.2 610.7,191.2 610.7,191.3 610.8,191.3 613.9,193.8 615.4,194.9 615.5,194.9 615.5,195 617.3,196.5 617.4,196.5 619.7,198.9 621.7,199.2 623.7,199.6 623.7,199.7 623.8,199.7 627.4,201.5 627.5,201.5 627.5,201.6 627.6,201.6 629.9,203.8 632.8,203.8 633.8,202.9 633.8,202.8 635.3,202.5 636.7,202.1 636.8,202.1 636.9,202.1 636.9,202.2 637,202.2 637.1,202.3 637.2,202.4 637.2,202.5 637.8,204.8 637.8,204.9 637.6,205.8 638.8,208.5 638.8,208.6 639,211.1 639,211.2 638.9,211.2 636.1,210.8 635.1,211.5 636.8,213.5 636.9,213.5 636.9,213.6 638.5,216.7 638.5,216.8 638.5,216.9 638.4,216.9 637.6,217 638,217.6 638.1,218.2 638,218.2 637.9,218.2 636,216.9 636.1,218.1 636.1,218.2 636,218.2 633.6,219.3 634.4,220.3 634.5,220.3 634.5,220.4 634.5,220.5 634.5,220.6 634.5,220.7 634.4,220.7 632.5,220.6 632.4,220.6 631.2,219.9 630.8,221.5 630.8,221.6 630.7,221.6 629.2,223 628.4,224.6 628.1,224.5 626.2,225.5 624.3,226.5 622.9,227.5 622.1,225.2 622.5,222.5 621.8,222 620.1,222.4 618.1,224.5 617.7,226.2 616.8,226.5 615.4,226.9 616.7,228.6 619.6,229.9 620.1,231.5 621.9,231.2 623.2,229.9 624.9,230.6 626.4,230.6 627.8,231 626.1,232.8 624.2,234.5 623.3,236.2 623.4,237.9 627.1,240.6 628.7,242.5 632.1,246 632.9,248 631.2,249.5 634.2,250.3 634,251.1 634.1,253.7 633,255.7 632.3,258.2 631.6,260.8 630.2,263.7 629.1,264.8 626.6,267.7 623.9,269.3 621.5,270.5 620.1,270.9 618.4,271.4 616.7,271.9 615.9,272.6 613.4,273.3 613.9,275.4 613.1,275.8 612.2,275.4 611.7,272.7 610.3,272.7 607.8,272.6 608.7,272.6 608,272.2 607.9,272.1 605.6,271.5 604.5,270.6 604.6,269.3 604.6,269.2 604.6,269.1 604.6,269 604.5,269 604.5,268.9 604.4,268.9 604.3,268.9 602.2,268.4 601.1,267.5 601,267.5 601,267.4 600.9,267.4 600.8,267.4 600.7,267.5 599.1,268.8 597,269.1 595.3,269.1 595.2,269.1 595.1,269.1 594,269.8 594.1,269.7 593,270.1 592.9,270.1 592.9,270.2 592.8,270.2 592.8,270.3 592.8,270.4 592.8,270.5 593.5,273.1 592.8,273 592.6,272.6 592.4,271.6 592.4,271.5 592.3,271.5 592.3,271.4 592.2,271.4 592.2,271.3 592.1,271.3 592,271.3 592,271.4 590.6,272.1 589.6,271.6 588,270.8 588.3,268.9 588.3,268.8 588.3,268.7 588.2,268.6 588.2,268.5 588.1,268.5 588,268.5 586.7,268 585.8,265.8 585.8,265.7 585.7,265.6 585.6,265.6 585.5,265.5 585.5,265.6 583.5,265.9 583.3,263.3 584.9,261.2 584.9,261.1 585,261.1 585,261 584.6,258.9 584.6,258.8 584.1,256.8 584,256.7 584,256.6 583.9,256.6 582.8,256 581.8,254.5 581.7,254.5 581.7,254.4 581.6,254.4 581.5,254.4 580.3,254.6 578.3,254.2 578.6,253.6 578.6,253.5 578.6,253.4 578.6,253.3 578.5,253.2 577.1,251.6 577,251.5 576.9,251.5 576.8,251.4 576.8,251.5 576.7,251.5 575.4,252.5 573.6,251.9 573.5,251.9 573.4,251.9 571.2,253.6 571.1,253.6 569.6,255.5 568,255.8 565.8,255.1 564,254.5 563.9,254.5 563.8,254.5 562.8,255.2 562.7,255.2 561.9,256.7 561.5,255.3 561.5,255.2 561.4,255.1 561.3,255.1 561.3,255 561.2,255 561.1,255 559.9,255.6 557.3,255.3 554.7,254.7 552.8,253.9 550.9,253.1 550,251.9 549.9,251.9 549.9,251.8 547.9,250.8 545.9,249.7 543.9,248.9 543.8,248.9 543.7,248.9 543.7,249 543,249.5 539.7,247.7 537.3,246.1 536.3,243.9 537.5,244.1 537.6,244.1 537.7,244.1 537.7,244 537.7,243.9 537.5,242.5 537.4,242.4 537.4,242.3 536.2,241.1 535.9,239.1 535.9,239 535.9,238.9 535.8,238.9 535.8,238.8 532.7,235.8 532.6,235.7 532.5,235.7 530.6,235.1 528.8,234.6 527.7,232.8 527.7,232.7 527.6,232.7 527.6,232.6 527.5,232.6 525.6,231.4 525.5,231.4 525.4,231.4 525,231.5 525.2,231.1 525.2,231 525.2,230.9 525.2,230.8 524.5,229.4 524.3,228.4 524.2,228.4 524.2,228.3 524.1,228.2 524,228.2 524,228.1 522.5,227.5 522.4,227.5 522,227.7 521,225.8 521.3,225.3 521.3,225.2 521.3,225.1 521.3,225 521.2,224.9 521,224.6 522.4,223.5 523.7,223.1 526,223.4 526.1,223.4 526.2,223.3 526.2,223.2 526.4,221.7 528.9,221.4 529,221.4 529,221.3 529.4,220.4 530.8,219.7 532.2,219 532.3,218.9 532.4,218.3 532.4,218.2 532.4,218.1 532.3,218.1 531.7,216.8 532.8,216.3 532.8,216.2 532.8,216.1 532.8,216 532.8,215.9 532.7,215.8 531.1,213.8 529.4,211.7 531.2,211.2 532.9,210.8 532.9,210.7 533.7,210.2 533.8,210.1 533.8,210 533.6,207.8 533.4,205.6 535.5,206 537.6,206.4 537.6,206.5 537.7,206.5 537.7,206.4 537.8,206.4 538.4,205.2 538.4,205.1 538.4,205 537.5,202.7 538.9,202.5 539,202.4 539.7,200.7 539.7,200.6 539.7,200.5 539.7,200.4 539.6,200.4 539.6,200.3 539.4,200.2 539.9,200ZM587.8,199.8 586.4,200.4 583.6,200 581.9,200 580.2,198.9 582.9,198.9 585.5,198.8 588.2,198.7 590.9,198.7 590.2,199.4 587.8,199.8ZM597.3,198.5 595.1,198.7 594.8,198.6 597.3,198.5Z"/><path fill="#fee0d2" d="M401.3,320.3 401.3,320.2 402.7,318.8 402.8,318.7 402.9,318.7 404.5,319.2 405.9,319.3 406,319.3 406,319.4 406.1,319.4 406.1,319.5 406.2,319.5 406.2,319.6 406.2,319.7 406,321.2 406,321.3 406,321.4 405.3,322.7 404.9,324.3 404.6,326.6 404.8,328 404.8,328.1 404.8,328.2 404.7,328.2 404.4,329 404.3,329.9 404.3,330 404,330.8 404,330.9 404,331 403.9,331 402.5,332.3 401.4,333.5 400.5,335.9 400.5,338 400.5,338.1 400.5,338.2 400.5,338.3 399.9,339.1 399.8,339.1 398.5,340.4 397.1,342 397.1,342.1 397,342.1 396.9,342.1 396.8,342.1 396,341.6 395.9,341.6 395.9,341.5 395.8,341.5 395.8,341.4 395.7,340.9 394.8,340.9 394.1,341.8 394,341.8 394,341.9 393.9,341.9 393.8,341.9 393.2,341.6 393.1,341.6 393.1,341.5 392.4,340.8 391.9,341.1 391,342.2 390.6,341.4 388.9,339.1 389.1,339.4 390.8,338 390.9,338 390.9,337.9 391,337.9 391,337.8 391,337.7 390.9,337.7 390.9,337.6 390.2,336.1 390.7,335.7 392.2,335.4 392.3,335.3 392.4,335.3 392.4,335.2 392.4,335.1 392.5,334.5 393.4,335.4 393.5,335.4 393.5,335.5 393.6,335.5 395.6,335.6 395.7,335.6 395.7,335.5 395.8,335.5 395.8,335.4 396.6,334.2 396.6,334.1 396.9,332.3 396.9,332.2 396.7,330.2 396.7,330.1 396.6,330.1 396.6,330 395.6,328.6 396.6,325.8 396.6,325.7 396.6,325.6 396.5,325.5 396.5,325.4 395.9,324.9 395.8,324.9 395.8,324.8 395.7,324.8 394.1,325 393.6,324 393.7,323.2 396.4,323.3 398.2,324 400,324.6 400.1,324.6 400.2,324.6 400.3,324.6 400.3,324.5 400.4,324.5 400.4,324.4 400.4,324.3 400.6,322.9 400.6,322.8 400.5,322.8 400.3,322.1Z"/><path fill="#fee0d2" d="M400.2,216.6 399.8,216.3 397.7,215.1 396.5,214.5 395,213.5 394.2,211.3 393.1,210.4 392.2,211.9 392,211.6 391.4,210.4 391.5,210.4 391.7,210.3 393.1,210.4 393.2,210.4 393.2,210.3 393.5,210 394.1,210.3 394.1,210.4 394.2,210.4 395,210.4 395.1,210.4 395.1,210.3 395.2,210.3 395.2,210.2 395.2,210.1 395.2,209.6 395.7,209.4 395.8,209.4 395.8,209.3 395.8,209.2 395.9,208.3 397.3,207.8 397.9,208 399.5,209.1 399.6,209.1 401.3,209.6 401.4,209.6 401.5,209.6 402.2,209.2 402,209.3 402.5,210.1 402.5,210.2 403,210.7 402.6,211.3 402.7,211.3 401.8,210.8 401.7,210.8 400.3,210.8 398.5,210.4 398.4,210.4 397.5,210.4 397.4,210.4 397.4,210.5 397.3,210.5 397,210.9 396.4,210.4 396.3,210.4 396.2,210.4 396.1,210.4 396.1,210.5 395.7,211.6 395.7,211.7 395.7,211.8 395.7,211.9 395.8,211.9 395.8,212 396.9,213.2 397.4,213.9 397.4,214 398.5,214.9 398.5,215 399.3,215.5 400.1,216.6 400.2,216.6 401.9,217.5 401.8,217.6 401.8,217.7 401.3,217.3ZM391.3,210.4 391.4,210.4 391.2,210.2Z"/><path fill="#fee0d2" d="M395.7,196.4 395.8,196.5 395.9,196.5 395.9,196.6 395.9,196.7 395.9,196.8 395.9,197.3 396.6,197.6 396.8,197.2 396.8,197.1 396.9,197.1 396.9,197 397,197 398.4,197.3 398.5,197.3 398.5,197.4 398.6,197.4 398.6,197.5 398.8,198.1 400.2,198.2 400.2,198.3 400.3,198.3 401.4,199.6 401.4,199.7 401.5,199.7 401.5,199.8 401.5,199.9 401.5,200 401.4,200 401.4,200.1 401.3,200.1 400.8,200.1 400.6,200.4 400.6,200.5 400.5,200.5 400.1,200.6 400.1,201 400.1,201.1 400,201.2 399.6,201.6 399.5,201.6 398.9,201.8 398.9,201.9 398.8,201.9 398,201.8 397.9,202.2 397.9,202.1 397.9,202 397.8,201.9 397.8,201.8 397.7,201.8 395.9,201.2 394.1,200.7 394.1,200.6 394,200.6 393.3,200.9 393.2,200.9 392.3,201.8 391.4,201.4 391.3,201.3 391.2,201.3 391.2,201.4 391.1,201.4 390.8,201.7 390.7,201.6 389.4,200.5 388.4,199.9 388.3,199.9 388.3,199.8 388.3,199.7 388,198.7 387.6,198 387.6,197.9 387.6,197.8 387.6,197.7 387.6,197.6 387.7,197.6 387.7,197.5 389.1,197 389.8,196.4 391.2,195.9 391.6,195.4 391.7,195.4 391.8,195.4 392.3,195.7 393.1,195.4 393.2,195.4 393.3,195.4 393.3,195.5 394.3,196.2Z"/><path fill="#fee0d2" d="M391.4,343.3 391,342.2 391.9,341.1 392.4,340.8 393.1,341.5 393.1,341.6 393.2,341.6 393.8,341.9 393.9,341.9 394,341.9 394,341.8 394.1,341.8 394.8,340.9 395.7,340.9 395.8,341.4 395.8,341.5 395.9,341.5 395.9,341.6 396,341.6 396.8,342.1 396.9,342.1 397,342.1 397.1,342.1 397.1,342 398.5,340.4 399.8,339.1 399.9,339.1 400.5,338.3 400.5,338.2 400.5,338.1 400.5,338 400.5,335.9 401.4,333.5 402.5,332.3 403.9,331 404,331 404,330.9 404,330.8 404.3,330 404.3,329.9 404.4,329 404.7,328.2 404.8,328.2 404.8,328.1 404.8,328 404.6,326.6 404.9,324.3 405.3,322.7 406,321.4 406,321.3 406,321.2 406.2,319.7 406.4,317.9 407.2,316.7 408.3,316 410,316.8 411.5,317.8 411.6,317.8 413.2,318.1 415,318.6 415.1,318.6 415.2,318.5 415.3,318.4 415.9,316.9 416.1,316.8 417,317 417,317.1 417.1,317.1 417.1,317 417.2,317 419.6,315.8 420.4,316.3 420.5,316.3 420.6,316.3 421.3,316.2 421.4,316.2 421.5,316.1 421.8,315.6 422.5,315.4 424.2,315.6 425.7,315.7 425.8,315.7 426.3,315.5 426.2,315.3 427.7,317.5 427.8,317.5 427.8,317.6 428.9,317.9 429,317.9 429.1,317.8 429.6,317.5 430.6,317.6 430.7,317.6 431.8,317.2 432.2,318 432.2,318.1 432.3,318.1 434.2,319.8 434.1,322.7 434.1,322.8 434.1,322.9 434.2,322.9 434.3,323 434.8,323.2 434.4,323.7 433.5,324.4 433.5,324.5 432.6,325.8 432.6,325.9 432.1,327.1 432.1,327.2 431.9,329.3 431.4,330.2 431.4,330.3 431.4,332.2 430.8,332.8 430.7,332.9 430.7,333 430.6,334.4 430.4,334.5 430.4,334.6 430.3,334.6 430.3,334.7 430,336.2 430,336.3 430.1,336.3 430.1,336.4 430.6,337.5 430.7,340.6 431.1,343 430.9,344.3 430.9,344.4 431.3,346 431.4,346 431.4,346.1 432.7,347.5 433.8,350.7 433.6,350.2 433.3,350.1 433.3,350 433.2,350 430.1,350.5 430,350.5 429.4,350.8 429.3,350.8 429.3,350.9 429.2,350.9 429.2,351 428.5,352.6 428.5,352.7 428.5,352.8 428.5,352.9 429,354 428.5,357 428.2,359.6 428.2,359.7 428.2,359.8 428.2,359.9 428.3,359.9 428.9,360.4 430.5,361.4 430.6,361.4 430.7,361.4 430.8,361.4 431,361.2 431.1,363.2 429.8,363.1 429,361.8 428.9,361.8 428.1,360.7 428.1,360.6 428,360.6 426.4,360.3 425.9,359 425.9,358.9 425.8,358.9 425.7,358.9 425.6,358.9 424.2,359.7 422.6,359.3 421.9,358.3 421.9,358.2 421.8,358.2 421.8,358.1 421.7,358.1 420.3,357.9 420.2,357.9 419.4,357.9 419.3,357.4 419.3,357.3 419.3,357.2 419.2,357.2 419.2,357.1 419.1,357.1 418.3,357.1 417.3,356.9 417.2,356.9 415.8,357.3 414.8,357.2 414.7,357.2 414.7,357.3 414.5,357.3 414.7,354.7 414.7,354.6 414.6,354.5 413.9,353.6 413.8,352.1 414.1,350.6 414.1,350.5 414.1,350.4 413.7,349.4 413.7,347.9 413.7,347.8 413.6,347.8 413.6,347.7 413.6,347.6 413.5,347.6 413.4,347.6 410.9,347.6 411.1,347 411.1,346.9 411,346.8 411,346.7 410.9,346.7 410.8,346.6 409.6,346.6 409.5,346.7 409.4,346.7 409.4,346.8 409.3,346.9 409.3,347.1 408,347.2 407.9,347.2 407.9,347.3 407.8,347.4 407.2,348.9 407,349.3 405.9,349 405.8,349 405.7,349 405,349.4 403.7,349.6 402.9,348.4 402.4,347.5 401.8,346 401.2,344.1 401.2,344 401.1,343.9 401,343.9 397.6,343.8 394.2,343.8 394.1,343.8 393.3,344.1 392.7,344.1 392.6,344.1 391.7,344.4 391.6,344.4 391.7,344.6Z"/><path fill="#fee0d2" d="M159.5,291 159.6,291 159.6,291.1 160,291.6 160.6,292 160.7,292 160.7,292.1 160.8,292.1 160.8,292.2 161.5,292 161.6,292 161.7,292 162.1,292.2 162.2,292.2 162.5,292.5 162.6,292.5 162.6,292.6 162.6,292.7 162.6,292.8 162.3,293.7 162,293.7 161.7,294.4 160.4,294.3 158.6,293.5 157.4,293.3 156.8,292.8 157.1,293 157.1,292.9 157.2,292.7 157.9,292.1 158.4,291.8 158.5,291.8 158.5,291.7 158.5,291.6 158.6,291.6 158.6,291.5 158.5,291.4 158.8,291.4 158.9,291.3 159.2,290.9Z"/><path fill="#fee0d2" d="M434.8,400 434.8,400.1 434.7,400.1 434.7,400.2 434.6,400.2 433.3,400.5 433.2,400.5 433.1,400.5 433.1,400.4 433,400.4 431.8,399 431.8,398.9 431.8,398.8 431.7,398.8 431.8,397.9 431.8,397.8 431.8,397.7 432.5,396.7 432.7,396 432.8,395.9 432.8,395.8 432.9,395.8 433.6,395.6 433.7,395.6 434.4,395.9 434.5,396.5 434.8,398.8 434.9,398.8 434.9,398.9 434.9,399 435,399 435.1,399 435.3,399Z"/><path fill="#fee0d2" d="M770.3,374.8 770.2,376.1 767.2,376.4 767.5,374.3ZM774.4,371.2 774.1,372.2 772,373.3 771,372.7Z"/><path fill="#fee0d2" d="M393.6,324 394.1,325 395.7,324.8 395.8,324.8 395.8,324.9 395.9,324.9 396.5,325.4 396.5,325.5 396.6,325.6 396.6,325.7 396.6,325.8 395.6,328.6 396.6,330 396.6,330.1 396.7,330.1 396.7,330.2 396.9,332.2 396.9,332.3 396.6,334.1 396.6,334.2 395.8,335.4 395.8,335.5 395.7,335.5 395.7,335.6 395.6,335.6 393.6,335.5 393.5,335.5 393.5,335.4 393.4,335.4 392.5,334.5 392.4,335.1 392.4,335.2 392.4,335.3 392.3,335.3 392.2,335.4 390.7,335.7 390.2,336.1 390.9,337.6 390.9,337.7 391,337.7 391,337.8 391,337.9 390.9,337.9 390.9,338 390.8,338 389.1,339.4 388.9,339.1 387.9,337.7 385.5,335.1 384.4,332.8 383.4,330.5 385.1,327.8 385.9,326.2 385.9,326.4 386,326.3 389.4,326.3 389.5,326.3 389.6,326.3 389.6,326.2 389.6,326.1 389.7,326.1 389.7,326 389.6,323.2 390.4,323 391.8,323.4 391.9,323.4 393.2,323.1 393.4,323.2 393.5,323.2 393.7,323.2Z"/><path fill="#fee0d2" d="M446.8,214.9 446.8,214.8 446.8,214.7 446.9,214.7 447,214.7 448.8,215.1 452,215.6 455.2,216.8 455.2,216.9 455.3,216.9 455.6,217.2 456.7,216.9 456.8,216.9 458.8,217.4 458.9,217.4 458.9,217.5 459,217.5 459.8,218.5 461.2,219.1 461.3,219.2 461.3,219.3 461.4,219.3 461.4,219.4 461.4,219.5 461.4,219.6 461.3,219.6 461.3,219.7 461.1,219.8 462.2,220.9 462.2,221 462.2,221.1 462.3,221.1 462.3,221.2 462.3,221.3 462.2,221.4 462,221.7 461.9,221.7 461.9,221.8 461.8,221.8 460.6,221.6 459,220.9 458.6,221.2 458.6,221.3 458.5,221.3 456,221.6 455.8,221.2 455.7,221.2 455.7,221.1 455.6,221.1 453.4,219.8 453.3,219.8 453.2,219.8 451.2,219.9 451,218.6 449.2,216.4 446.9,215.4 446.7,215.3 446.8,214.9Z"/><path fill="#fee0d2" d="M379.1,189.6 380,189.6 380.2,188.8 380,187.7 380.7,187.4 380,186.2 379.9,185.9 380,185.9 381.5,186.1 381.6,186.1 381.6,186.4 383,187.6 384.8,187.5 384.5,188.6 386.8,188.1 389.3,187.7 391,188.7 391.3,188.6 391.3,188.7 391.6,190.3 391.6,190.4 391.6,190.5 391.6,190.6 391.2,191.1 392.5,193.1 392.5,193.2 392.6,193.3 392.5,193.3 392.5,194 393.3,195.5 393.3,195.4 393.2,195.4 393.1,195.4 392.3,195.7 391.8,195.4 391.7,195.4 391.6,195.4 391.2,195.9 389.8,196.4 389.1,197 387.7,197.5 387.7,197.6 387.6,197.6 387.6,197.7 387.6,197.8 387.6,197.9 387.6,198 388,198.7 388.3,199.7 388.3,199.8 388.3,199.9 388.4,199.9 389.4,200.5 390.7,201.6 390.8,201.7 390,202.2 389.3,202.6 389.2,202.6 389.2,202.7 389.2,202.8 389.2,202.9 389.6,204.5 389.1,204.2 389.1,204.1 389,204.1 388,204.1 387.9,204.1 386.6,204.5 384.8,204.4 384.7,204.4 384.6,204.4 384.6,204.5 384.4,205 383.6,204.4 383.5,204.4 383.4,204.4 382.9,204.5 380.7,203.7 380.6,203.7 380.5,203.7 380.5,203.8 380.4,203.8 380.1,204.3 379,204.3 378.9,202.9 379.9,201.2 379.9,201.1 379.9,201 379.9,200.9 379.9,200.8 379.8,200.8 379.8,200.7 379.7,200.7 376.8,200.2 376.2,199.8 376.4,199.5 376.5,199.5 376.5,199.4 376.5,199.3 376.5,199.2 376.5,199.1 376.4,199.1 376,198.6 375.8,198.2 376.1,197.5 376.1,197.4 376.1,197.3 376.1,197.2 375.6,196.6 375.8,195 375.8,194.9 375.5,194.2 376.4,194.2 376.4,194.1 376.5,194.1 376.5,194 377,193.1 377,193 377.4,190.8 377.6,190.6 377.6,190.5 377.6,190.4 377.6,190.3 377.6,190 377.4,190.1Z"/><path fill="#fee0d2" d="M332.1,296.8 332.1,296.9 332,296.9 332,297 331.9,297.1 332,297.8 332,297.9 332,298 332,298.1 331.9,298.1 331.5,298.5 331.4,298.6 331,298.6 330.4,299 330.3,299 330.2,299 329.7,299 328.9,299.9 329,299.9 329,300 329.1,300 329.1,300.1 329.1,300.2 329.1,300.3 329,300.4 328.8,300.2 327.5,297.8 325,296.5 325.3,296.7 326.3,296.3 327,296.4 327.1,296.3 327.7,296.1 329.8,296.1 331.9,296.2 332.1,296.2Z"/><path fill="#fee0d2" d="M172.1,290.1 172,290.2 171.2,290.5 171.1,290.5 170.6,290.5 170.1,290.8 170.1,290.9 170,290.9 169.9,290.9 169.5,290.7 169.4,290.7 169.1,290.4 168.6,290.9 168.6,291.3 168.5,291.4 168.5,291.5 168.4,291.5 167.6,292.2 167.1,292.5 166.9,292.8 166.9,292.9 166.8,292.9 166.7,292.9 166.6,292.9 166.5,292.9 166.1,292.5 165.7,293 165.7,293.1 165.6,293.1 165.5,293.1 165,293.1 164.8,293.1 164.7,294.1 164.7,294.2 164.7,294.3 164.6,294.3 164.6,294.4 164.5,294.4 164.4,294.4 164.3,294.4 164,294.9 163.9,295 163.8,295 163.1,295.1 163,295.1 162.9,295.1 162.9,295 162.8,295 162.8,294.9 163.1,294.8 162.8,293.7 162.3,293.7 162.6,292.8 162.6,292.7 162.6,292.6 162.6,292.5 162.5,292.5 162.2,292.2 162.1,292.2 161.7,292 161.6,292 161.5,292 160.8,292.2 160.8,292.1 160.7,292.1 160.7,292 160.6,292 160,291.6 159.6,291.1 159.6,291 159.5,291 159.2,290.9 158.9,291.3 159.5,290.6 159.5,290.5 159.5,290.4 159.5,290.3 159.4,289.9 159.6,289.6 160.6,288.9 160.7,288.9 161.8,287.9 161.9,287.9 161.9,287.8 161.9,287.7 162,287.7 162,287.6 161.9,287.5 162.3,287.3 165,287.5 166.9,287.2 169.1,286.9 170.7,287.4 173.1,289.6 173,289.9 172.4,289.8Z"/><path fill="#fee0d2" d="M392,228.9 394.4,228.8 396.9,228.7 395.9,231.2 396.1,232.8 394.2,232 391.3,230.7 390.1,229.9ZM384.1,222.9 383.7,226.4 382.6,226.8 381.3,226.8 381.3,223.4 380.7,221.9 382.8,221ZM392.3,209.6 392.3,209.7 392.3,209.8 392.3,209.9 392.3,210 392.2,210 392.1,210.1 391.7,210 391.4,210.4 391.2,210.2 391.4,210.1 391.6,209.7 391.7,209.6 391.2,209.3 390.3,209.6 388.8,210.2 389.3,211.4 388.8,212.8 389.5,213.7 391.5,214.8 393.2,217.8 394.9,219 396.5,219.2 397.4,219.3 396.9,220 399,221.3 401.4,222.6 402.7,223.8 402.4,224.7 401.6,224.1 399.9,223 398.5,224.9 399.9,225.8 399.9,226.6 398.9,227.3 397.8,229.6 396.9,229.2 397.2,227.8 397.5,225.9 395.8,224.1 394.6,222.5 393.7,222.6 393.5,222.1 392,221.1 390,220.4 389.1,219.7 388.1,218.8 386.8,217.9 385.3,216.6 384.8,215 383.8,213.7 381.9,212.8 380.9,213.1 379.5,214.3 379.3,214.4 379.3,213.5 379.3,213.4 379.2,213.4 379.2,213.3 379.1,213.2 378,212.9 377.6,211.3 378.1,210.7 378.2,210.6 378.2,210.5 378.2,210.4 378.2,210.3 378.2,210.2 377.6,209.4 377.6,209.2 378.2,209.5 378.2,209.6 378.3,209.6 379.3,209.5 379.4,209.5 379.4,209.4 380.4,208.7 380.6,208.9 380.7,208.9 380.7,209 380.8,209 381.8,208.9 381.9,208.9 381.9,208.8 382,208.8 382,208.7 382.3,207.9 383.7,208.2 383.8,208.2 384.7,207.8 384.7,207.7 384.8,207.7 384.8,207.6 384.8,207.5 384.9,206.5 384.9,206.8 385.9,207.1 386,207.1 386.1,207.1 386.1,207 386.2,207 386.2,206.9 386.3,206.6 388,206.2 388.5,206.9 388.5,207 388.6,207 391.6,207.7 391.9,207.7 391.8,208.6 392.3,209.6Z"/><path fill="#fee0d2" d="M652.1,241.8 653,242.6 652.9,243.6 653.1,245.4 653.4,246.7 652.7,246.5 652.2,247.7 651.1,247 650.6,246.6 650.2,245 649.5,244.6 650.3,243.1 648.6,243.6 647.9,242.1 647.3,241.6 648.1,241.2 648.8,240.8 649.2,240 649.8,240.1 651.7,240.8ZM654.1,239.7 656.1,238.9 657.5,239.3 658.2,240.3 657.6,241.8 655.9,241.2 655.6,243.2 654.6,242.7 654,242 652.8,241.6 653.7,240.3ZM651.2,237.5 652.6,235.8 655.1,235.8 656.9,235.2 658.9,235.5 658,234 658.9,233.1 658.5,231 659.3,230.7 659.3,231.9 660,232.6 661.7,231.6 662.4,229.5 662.8,228.8 662.7,227 660.9,224.4 661.1,223.7 660.2,221 661.7,222 661,220.2 662.3,220.5 663.9,222.8 666.2,225.1 666.6,226.1 667.3,228.6 666.2,228.8 666.7,229.9 667.8,232.2 669.3,235.4 668.8,236.9 668.2,237.5 667.3,236.9 666.1,236.6 666.3,238.3 665.7,237 665.1,237.4 664.9,238.3 663.8,238.1 662.3,238.3 661.3,237.1 661.1,238 662.4,239.2 661.1,239.7 660.9,241.3 659.7,240.6 658.6,239.3 658.7,238.2 657,237.9 655.6,238.4 654.5,238.7 652.6,238.9 652.3,240.1 651.5,239.8 650.4,240 649.8,240 650.2,238.8ZM657.2,217.9 657.4,216.9 657.7,216.4 656.8,215.5 659,215.8 658.5,214 657.1,211.6 655.9,210.1 656.3,209.9 658.7,211.5 661.3,212.9 663.8,213.8 665.5,213 666.3,214.8 668.2,215.4 665.9,216.5 664.9,218.2 665.3,219.2 662.9,218.3 660.6,217.4 659.9,218.2 658.3,217.7 659.4,218.8 661.1,219.5 660.3,219.7 659.4,220.5 658.8,219.4Z"/><path fill="#fee0d2" d="M405.6,216.7 405.7,216.6 406.1,216.5 406.2,215.7 406.3,215.7 406.3,215.6 406.4,215.6 406.7,215.4 406.8,215.4 406.9,215.4 406.9,215.5 407,215.5 407.3,215.8 407.6,216 407.7,216 407.8,216.1 408,216.4 408.3,216.5 408.4,216.5 409.1,217 409.2,217 409.2,217.1 409.2,217.2 409.3,217.3 409.2,217.4 409.1,218 408.6,218.1 408.2,218.2 408.1,218.2 406.9,218.6 406.8,218.7 407,219.3 406.7,218.4 406.7,218.3 406.6,218.2 406.1,217.9 405.6,217.3 405.6,217.2 405.5,217.2 405.3,217.1 405.6,216.7Z"/><path fill="#fee0d2" d="M428.7,405.1 428.8,405.2 428.8,405.3 428.8,405.4 428.8,405.5 428.7,405.5 427.9,406.8 427.5,407.6 427.5,407.7 427.4,407.7 427.4,407.8 427.3,407.8 426.2,408.1 425.8,408.9 425.7,408.9 425.7,409 425.6,409 424.8,409.3 424.7,409.3 424.6,409.3 424.6,409.2 424.5,409.2 423,407.2 423,407.1 423,407 423,406.9 423,406.8 424.3,405.1 424.4,405.1 424.4,405 425.6,404 425.7,404 426.8,403.5 426.8,403.4 426.9,403.4 427,403.4 427,403.5 428,404.3Z"/><path fill="#fee0d2" d="M401.8,217.6 402,217.2 402.2,215.8 402.2,215.7 402.3,215.7 402.9,215.1 402.9,215 403.3,214.8 403.4,214.8 403.5,214.8 403.6,214.8 404.1,215.3 404.2,215.3 404.5,215.6 405.1,215.9 405.2,215.9 406,216.4 406.1,216.4 406.1,216.5 405.7,216.6 405.6,216.7 405.3,217.1 405.5,217.2 404.8,216.9 404.7,216.9 404.6,216.9 404.6,217 404.5,217 403.7,218.3 403.7,218.4 403.7,218.5 403.7,218.6 403.8,219 403.7,219 403.5,218.8 402.2,217.9 401.8,217.7 401.8,217.6Z"/><path fill="#fee0d2" d="M436.8,399.3 436.7,399.3 436.7,399.2 436.6,399.1 435.1,399 435,399 434.9,399 434.9,398.9 434.9,398.8 434.8,398.8 434.5,396.5 434.3,395.5 434.3,395.4 434.9,392.6 434.4,390.8 433.6,387.1 433.5,387.1 433.5,387 433.6,386.9 433.6,386.8 436.1,383.9 436.8,382.1 436.8,382 436.9,381.9 437.2,381.7 437.4,380.4 437.1,379.7 437.1,379.6 437.3,377.6 437.8,375.8 438,372.7 437,372 436,371.8 435.9,371.8 435.8,371.7 435.4,371.1 434.5,370.6 432.6,370.7 432.6,370.6 432.5,370.6 432.4,370.6 432.4,370.5 432.4,370.4 432.3,370.4 432.3,369.7 432.5,369.7 432.6,369.7 432.6,369.6 432.7,369.6 432.7,369.5 432.8,369.5 432.8,369.4 432.8,369.3 432.7,367.7 436,366.7 439.3,365.7 440.5,366.8 440.5,366.9 440.6,366.9 440.7,366.9 441.2,366.7 441.9,367.2 442,368 441.5,369.2 441.5,369.3 441.5,371.2 441.6,371.2 441.6,371.3 441.6,371.4 443,373 443.1,373 443.1,373.1 443.2,373.1 443.3,373.1 443.3,373 443.4,373 443.4,372.9 443.5,372.9 444.2,371.2 445.1,370.7 445.2,370.7 445.2,370.6 445.3,370.6 445.3,370.5 445.3,370.4 445.3,367 445.3,366.9 445.2,366.9 444.3,365 444.3,364.9 443.5,364.1 443.5,364 443.4,364 443.3,364 442.7,364 442.3,360.9 442.9,359.2 442.7,359.2 444.4,359 447.1,359.8 447.2,359.8 447.3,359.7 447.8,359.4 449.4,359.4 449.5,359.4 449.5,359.3 450.3,358.6 451.6,358.6 451.7,358.6 454.2,357.6 454.3,357.6 455.9,356.2 456.1,356.5 456.2,356.5 456.2,356.6 456.3,356.6 456.3,356.3 456.4,359.5 456.4,362.8 456.6,364.8 456.7,366.7 456.4,368 454.4,371.4 451,373.5 447.6,375.6 445.2,378.2 442.5,380.7 442.8,383.7 443.6,386.3 443.5,388.8 443.3,391.3 442.3,393.2 440.4,393.9 438.6,394.7 436.4,396.7 436.9,399 436.8,399.3Z"/><path fill="#fee0d2" d="M371.7,193.2 372.3,192.3 372.6,191.1 373.9,190.5 375.4,190 376.9,190.1 377.4,190.1 377.6,190 377.6,190.3 377.6,190.4 377.6,190.5 377.6,190.6 377.4,190.8 377,193 377,193.1 376.5,194 376.5,194.1 376.4,194.1 376.4,194.2 375.5,194.2 375.8,194.9 375.8,195 375.6,196.6 375.5,196.5 375.5,196.4 375.4,196.4 374.8,196.2 374.7,195.8 374.7,195.7 374.6,195.7 374.6,195.6 373.3,194.5 373.2,194.5 373.1,194.5 371.3,195 370.3,194.8 371.4,193.5Z"/><path fill="#fee0d2" d="M729.3,436.8 730,436.6 732.6,435.9 731.1,437.9 728.5,439.7 725.9,441.3 724.1,442.6 724.4,443.1 723.7,443.5 721.5,444.1 719.2,444.8 717.2,446.6 715.2,448.4 711.9,450 709.7,450.6 708.5,450.6 708.3,449.8 707.7,449.4 705.9,449.3 706.1,448.6 708.5,446.8 710,446.1 711.7,445.3 714.6,443.7 715.7,443.4 718.3,442.2 719.5,441.7 722.1,440.4 723.1,439.7 725.1,437.9 727.4,436.6 728.5,435.4 730.1,434.7ZM741.2,418.8 742.5,421.1 742.2,422.6 741.2,425.2 743,424.3 743.2,425.6 742.8,427.3 744,428.1 746.7,427 747.8,427.4 744.8,430 743.6,431.4 741,432.1 741.1,432.5 736.8,435.7 733.5,437.5 732.8,436.9 734.1,435.7 736.1,433.3 734.6,431.5 735.7,430.9 737.5,430 739,428.4 739.5,427.7 740.2,425.7 740.5,424 740.1,421.7 740.1,420.9 740.4,418.8Z"/><path fill="#fee0d2" d="M637.2,300 638.3,299 637.6,301.3 634.9,304.7 633.2,306.8 633.4,306 635.7,303.2ZM646.6,301.3 647.1,304.5 646.1,304.5 644.9,302.9 645.8,300.3 647.1,300.3ZM643.8,301.3 643.2,297.7 646.1,298.7 645.1,300.8ZM648,297.4 647.1,297.7 646,296.1ZM640.1,295.1 639.1,293.7 641.1,293.7 642.1,295.8 641.5,296.9ZM642.7,284.2 641.1,287.6 641.7,290.2 643.2,291.9 644.9,291.9 647.2,292.7 647.1,294.4 648,296 646.8,295.1 644.4,294.3 641.9,292.4 640.7,292.8 639.5,292 640.2,290.7 639.2,291 638.5,290.1 637.7,288.1 636.8,286 637.9,286.8 637.9,285.4 637.6,282.9 637.6,280.4 640.2,280.8 641.2,280.4ZM648.5,307.6 649.4,307.2 650.3,306.6 652.2,305.3 652,303.2 653.8,305.1 654.3,307.3 655,309.7 654.3,312.3 653.8,310.8 652.8,310.4 652.5,312.6 652.5,314.2 649.7,312.7 649.6,310 647.7,308.4 646.3,309.2 644.7,310.8 644.6,308.4 646.5,307.2 647.3,306.3ZM648.2,303.7 648.3,302.6 649.2,302.4 649.7,303.2ZM648.4,301.3 647.3,303.9 647.5,301.6 648.2,299.5ZM649.2,300.5 648.8,298.7 650.6,300 651.2,302.1 650.3,302.4ZM649.9,298.2 648.5,296.1 650.8,296.1 652.1,299.5 650.5,299.5Z"/><path fill="#fee0d2" d="M349.3,219 349.4,219.1 349.4,219.2 349.5,219.2 350,220.5 350,220.6 350,220.7 350,220.8 350,220.9 349.9,220.9 349,221.5 349,223.4 348.9,223.5 348.9,223.6 348.6,223.9 348.5,225 348.5,225.1 348.4,225.1 348.4,225.2 348.3,225.2 348.3,225.3 347.7,225.4 348.2,225.3 348.1,226.1 348.3,226.6 348.4,226.6 348.4,226.7 348.4,226.8 348.3,226.8 347.8,228.4 348.4,229 348.4,229.1 348.4,229.2 348.4,229.3 348.1,230.1 348,230.2 347.4,231 347.6,231.4 347.6,231.5 347.3,231.6 346.2,232 344.6,231.8 343.9,232 344.2,229.5 344.2,228.1 343.5,228.3 342.9,227.4 343.3,225.9 344.4,223.8 344.7,222.5 344.9,221.2 344.6,219.4 344.9,218.5 343.9,216.7 345.7,215.4 345.4,215.6 347.3,217.3 349.2,219 348,218.9Z"/><path fill="#fee0d2" d="M434.7,333.1 434.8,333.1 434.8,333.2 434.8,333.3 434.6,334.8 434.6,334.9 434.6,335 434.5,335 434.5,335.1 433.8,335.4 433.7,335.4 433.6,335.4 432.6,335.3 432,336.6 431.9,336.6 431.9,336.7 431.8,336.7 431.7,336.8 431.7,336.7 430.3,336.5 430.2,336.5 430.1,336.5 430.1,336.4 430.1,336.3 430,336.3 430,336.2 430.3,334.7 430.3,334.6 430.4,334.6 430.4,334.5 430.6,334.4 430.7,333 430.7,332.9 430.8,332.8 431.4,332.2 431.4,332.3 431.4,332.4 431.4,332.5 431.5,332.5 431.5,332.6 432.1,332.9 432.2,332.9 432.3,332.9 432.3,332.8 433.7,332 434,331.9Z"/><path fill="#fee0d2" d="M335.8,292.1 336.2,293.5 337,294.2 337.1,294.3 337.1,294.4 337.3,295.4 337.3,295.5 337.2,296.3 337.1,296.4 337.1,296.5 337,296.5 337,296.6 336.6,296.7 336.5,296.7 335.3,296.5 334.7,296.8 334.7,296.9 334.6,296.9 334.5,296.9 334.5,296.8 332.9,296.2 331.9,296.2 329.8,296.1 327.7,296.1 327.1,296.3 327,296.4 326.3,296.3 325.3,296.7 325,296.5 324.9,295.8 324.8,294.7 326.8,294.8 326.9,294.7 327.4,294.4 327.8,294.4 327.9,294.3 328.6,293.8 329.5,294.3 329.6,294.3 330.5,294.4 330.6,294.4 330.7,294.4 330.7,294.3 331.7,293.7 331.8,293.7 331.8,293.6 331.8,293.5 331.9,293.5 331.9,293.4 331.8,293.4 331.8,293.3 331.3,292.5 331.2,292.4 331.1,292.4 331,292.4 330.3,292.8 329.7,292.8 328.9,292.2 328.8,292.2 328.7,292.2 328,292.2 327.9,292.2 327.9,292.3 327.8,292.3 327.4,292.9 325,292.9 323.3,290.2 325.6,286.8 325.5,286.9 325.7,286.9 325.8,286.9 325.8,286.8 325.9,286.8 326.6,286.1 327.6,286.3 327.7,286.3 328.8,285.7 329.9,285.7 331,286.4 331,286.5 332.4,287.1 333.7,289 333.8,289 335.2,290.8 335.3,290.8 335.4,290.9 335.5,290.9 335.5,290.8 335.6,290.8 335.7,290.7Z"/><path fill="#fee0d2" d="M396.9,206.3 397,206.3 397,206.4 397.5,207.3 397.5,207.4 397.5,207.5 397.5,207.6 397.5,207.7 397.4,207.7 395.9,208.3 395.8,209.2 395.8,209.3 395.8,209.4 395.7,209.4 395.2,209.6 395.2,210.1 395.2,210.2 395.2,210.3 395.1,210.3 395.1,210.4 395,210.4 394.2,210.4 394.1,210.4 394.1,210.3 393.5,210 393.2,210.3 393.2,210.4 393.1,210.4 391.7,210.3 391.5,210.4 391.4,210.4 391.7,210 392.1,210.1 392.2,210 392.3,210 392.3,209.9 392.3,209.8 392.3,209.7 392.3,209.6 391.8,208.6 391.9,207.7 393.3,207.9 393.4,207.9 393.5,207.9 394.4,207.3 396.1,207.3 396.2,207.3 396.2,207.2 396.3,207.2 396.7,206.8 396.7,206.7 396.8,206.3 396.9,206.3Z"/><path fill="#fee0d2" d="M457.8,331.2 457.7,331.1 457.7,327.9 457.7,324.7 457.7,321.5 458.1,318.5 458.1,318.4 458.1,318.3 458.2,318.3 458.3,318.2 459.8,318.2 460.3,317.5 460.4,317.5 460.5,317.4 461.9,317.4 463.9,315.6 463.9,315.5 464,315.5 466.9,315.4 469.8,311.8 472.8,308.2 471.5,308.2 471.4,308.2 468.8,307.1 466.3,306.1 463.8,305.1 463.7,305.1 463.7,305 462.8,304.1 462.7,304.1 462.7,304 461.8,302.8 460.9,301.3 460.9,301.2 460.9,301.1 460.9,301 461.3,300.3 461.5,300.5 461.6,300.5 461.7,300.5 461.8,300.5 461.8,300.4 462.8,299 462.9,299 462.6,298.8 464.7,300.1 466.8,301.5 469,300.6 471.3,299.8 473.8,299.5 476.3,299.2 478.7,298.5 481.1,297.9 480.8,301.3 480.2,304.2 479.4,306.6 478,308.7 477.2,310.9 476.3,313.1 475.2,315.1 474.1,317 472.4,319.1 470.7,321.2 468.1,323.4 465,326.2 461.6,329.7 459.3,333.1 459.1,333.3 457.8,331.2Z"/><path fill="#fee0d2" d="M432.2,318.1 432.2,318 431.8,317.2 430.7,317.6 430.6,317.6 429.6,317.5 429.1,317.8 429,317.9 428.9,317.9 427.8,317.6 427.8,317.5 427.7,317.5 426.2,315.3 425.9,314.5 424.2,313.5 424.1,313.4 423.5,311.8 422.6,310.8 421,309.4 420.9,309.3 420.9,309.2 420.9,308.5 419.7,307.5 418.2,306.5 418.2,306.6 418.3,306.6 418.4,306.6 418.4,306.5 419.1,306.3 419.1,306.2 419.9,305.7 420,305.7 420,305.6 420.1,305.6 420.6,303.3 421.1,302.2 422.5,301.9 422.8,302.4 422.8,302.5 424,304 424.1,304.1 424.2,304.1 424.8,304.3 424.9,304.3 425,304.3 425.7,303.9 427.2,304 427.4,304.4 427.5,304.4 427.5,304.5 427.6,304.5 427.7,304.5 430,304.5 430.1,304.5 430.2,304.4 430.2,304.3 430.3,303.9 431.3,303.5 431.4,303.5 431.4,303.4 431.5,303.3 431.7,302.6 432.3,302.3 434.1,303.7 434.2,303.7 434.3,303.7 435.5,303.4 435.6,303.4 435.6,303.3 435.7,303.3 436.7,301.5 438,300 438,299.9 438,299.8 437.8,298.2 437.8,298.1 437.7,298.1 437.7,298 437.5,297.8 438.3,297.7 438.4,297.7 438.4,297.6 438.5,297.6 438.5,297.5 438.6,297.5 438.6,297.4 438.7,297.1 439.2,297.2 439,298.8 439,298.9 439.4,300.8 439.4,300.9 439.4,301 439.5,301 440.6,302 440.9,302.7 440.8,304 440.9,304.1 440.9,304.2 441,304.3 441.1,304.3 441.2,304.3 441.2,306 441,306.6 439.9,306.6 439.9,306.7 439.8,306.7 439.7,306.8 439,308.3 438.9,308.4 438.9,308.5 439,308.5 439,308.6 439,308.7 439.1,308.7 439.2,308.8 440.5,308.9 441.6,310.1 442,311.1 442.1,311.2 443.1,311.8 444.4,314.3 441.6,317.4 440.3,318.6 438.8,318.6 438.7,318.6 436.9,319.2 435.5,318.6 435.4,318.6 435.3,318.6 434.3,319.4 434.2,319.5 434.2,319.6 434.2,319.8 432.3,318.1Z"/><path fill="#fee0d2" d="M328.5,256.2 328.1,255.3 329,255.6ZM326.5,255.6 325.6,254.5 327.4,254.1ZM332.3,255 331,255.3 332.5,253.7ZM369.8,226 368.3,225.2 369.9,224.3 370.7,225ZM364.7,216.7 364.7,216.6 364.8,216.6 366.4,217.2 366.5,217.2 367.2,217.7 369.6,217.5 369.8,217.5 370,217.9 370.3,218.2 367.9,220.6 365.9,221.4 365.1,222.3 363.2,224.3 362.6,225.6 363.8,227.5 362.3,228.5 361.8,230.4 361.2,230.5 358.5,232.8 358,232.5 355.7,232.8 353.7,232.8 351.7,234.3 351.2,234.6 349.7,233.3 349.6,232.5 348.3,231.5 347.3,231.6 347.6,231.5 347.6,231.4 347.4,231 348,230.2 348.1,230.1 348.4,229.3 348.4,229.2 348.4,229.1 348.4,229 347.8,228.4 348.3,226.8 348.4,226.8 348.4,226.7 348.4,226.6 348.3,226.6 348.1,226.1 348.2,225.3 348.3,225.3 348.3,225.2 348.4,225.2 348.4,225.1 348.5,225.1 348.5,225 348.6,223.9 348.9,223.6 348.9,223.5 349,223.4 349,221.5 349.9,220.9 350,220.9 350,220.8 350,220.7 350,220.6 350,220.5 349.5,219.2 349.4,219.2 349.4,219.1 349.3,219 349.2,219 347.3,217.3 345.4,215.6 345.7,215.4 346.9,214.4 347.3,214.4 348.6,215 351.1,214.8 351.5,215 353.4,215.1 355.4,215.2 357,215.5 359.2,215.6 359.6,215.5 359.8,215.3 359.8,215.4 360.3,216.1 361.8,216.4 364,216.9Z"/><path fill="#fee0d2" d="M547.3,303.2 547.9,303.1 549.3,304.6 550.4,306.4 551.5,308.7 552,310.9 550.3,312.8 549.2,313.3 548.3,313 547.4,310.7 547.1,307.9 547.1,305.3Z"/><path fill="#fee0d2" d="M383.8,176 384.1,176.1 383.8,176ZM384.2,176.3 384.8,175.4 386.1,173.8 386.1,173.7 386.2,173.7 386.2,173.6 386.5,170.8 386.5,170.7 386.5,170.6 386.5,170.5 386.4,170.5 385.2,169.4 384.9,166.5 385.7,164.5 387.4,164.6 387.4,164.5 387.5,164.5 388.1,163.5 388.1,163.4 388.1,163.3 388.1,163.2 388,163.2 388,163.1 387.5,162.6 389.7,159.6 389.7,159.5 391.1,157 391.9,155.5 393.5,155.5 393.6,155.5 393.6,155.4 393.8,154.3 395.4,154.5 397,154.6 397.1,154.6 397.1,154.5 397.1,154.4 397.1,153.1 398,153.1 398.1,153.1 398.5,152.8 400.4,153.6 401.9,154.4 403.4,155.2 403.5,155.2 403.5,155.3 403.5,155.4 404.3,158.8 404.9,159.6 405.4,160 405.4,160.1 405.5,160.1 405.5,160.2 405.6,160.3 405.3,160.2 403.7,160.5 402,160.7 400.9,161.4 400.6,162.7 399.4,165 398.1,165.5 396.9,166 395.7,167.5 394.7,168.1 394.5,170.7 394.8,172.2 397.2,173 398.3,174.5 396.8,176.5 395.1,177.1 394.7,179.3 394.4,181.9 393.1,183.2 390.9,184.6 389.8,185 388.6,185.1 388.3,184.6 387.6,183.4 387.7,181.9 385.7,179.4 384.1,176.1 384.2,176.4ZM404.3,164.7 404.5,164.6 403.3,166.8 402.2,169.1 401.8,168.5 402,166.5 403.2,165.6Z"/><path fill="#fee0d2" d="M514,224.6 514,224.7 513.9,224.7 511.7,224.3 511.8,225.1 513.7,224.9 513.8,224.9 516.6,225.8 518.6,225.6 520.5,225.4 520.6,225.4 520.7,225.4 520.8,225.5 520.9,225.6 522,227.7 522.4,227.5 522.5,227.5 524,228.1 524,228.2 524.1,228.2 524.2,228.3 524.2,228.4 524.3,228.4 524.5,229.4 525.2,230.8 525.2,230.9 525.2,231 525.2,231.1 525.2,231.2 525.1,231.2 525,231.2 522.8,231.2 521.3,231 520.4,232.1 520.4,232.2 520.3,232.2 519.4,232.4 518.9,233 518.8,233 518.7,233 518.6,233 518.5,232.9 517.5,232.1 517.4,232 517.4,231.9 517.3,231.9 517.3,231.8 517,229.9 516.6,229.9 516.5,229.8 516.4,229.8 516.4,229.7 516.3,229.7 516.3,229.6 516.3,229.5 516.3,229.4 516.3,228.9 515.4,228.5 514.8,229.2 514.9,230.2 514.8,230.2 514.8,230.3 514.6,230.7 514.6,230.8 514.5,230.8 514.4,230.8 513.3,230.7 512.9,231.8 512.9,231.9 512.8,231.9 512.7,231.9 512.6,231.9 511.9,231.5 510.6,232.3 510.7,232.2 510.7,232.1 510.7,232 510.5,229.1 510.5,229 510.5,228.9 509.5,227 509.5,226.9 509.4,226.9 509.4,226.8 509.3,226.8 507.9,226.3 508,225.6 509.7,225.7 509.8,225.7 509.9,225.6 510.5,224.2 510.5,224.1 510.6,222.6 512.7,222.1 512.7,222.8 512.7,222.9 512.7,223 512.8,223 513.3,223.8 513.4,223.8 513.4,223.9 513.5,223.9 513.6,223.9 514.4,223.9 514.5,223.9 514,224.6Z"/><path fill="#fee0d2" d="M453.9,346.6 454.3,349.7 454.2,352.1 454.6,355 456.3,356.3 456.3,356.6 456.2,356.6 456.2,356.5 456.1,356.5 455.9,356.2 454.3,357.6 454.2,357.6 451.7,358.6 451.6,358.6 450.3,358.6 449.5,359.3 449.5,359.4 449.4,359.4 447.8,359.4 447.3,359.7 447.2,359.8 447.1,359.8 444.4,359 442.7,359.2 442.6,359.2 442.5,359.2 442.5,359.1 442.4,359.1 442.4,359 441.9,355.5 441.2,354.3 440.8,353.7 438.6,353.3 438.6,353.2 437.3,352.5 435.9,352 435.8,352 434.9,351.6 434.9,351.5 434,350.9 433.9,350.9 433.9,350.8 433.8,350.7 432.7,347.5 431.4,346.1 431.4,346 431.3,346 430.9,344.4 430.9,344.3 431.1,343 430.7,340.6 430.8,340.7 430.8,340.8 430.9,340.8 430.9,340.9 431,340.9 432,340.8 432,340.7 432.1,340.7 432.2,340.7 433,339.7 433.9,338.4 434.5,337.8 434.5,337.7 434.6,337.7 434.6,337.6 434.6,336.7 434.5,336.6 434.5,336.5 434.1,336 434,335.3 434.5,335.1 434.5,335 434.6,335 434.6,334.9 434.6,334.8 434.8,333.3 434.8,333.2 434.8,333.1 434.7,333.1 434,331.9 434.4,331.8 436.8,331.7 439.2,331.7 441.6,331.6 444.4,333.4 447.3,335.3 450.1,337.1 450.2,338.5 450.3,338.6 450.3,338.7 453.6,341.3 453.7,341.3 453.8,341 452.8,344.5ZM454.2,345.5 453.7,344 454.4,344.8Z"/><path fill="#fee0d2" d="M591.6,276 591.7,276 591.7,276.1 591.7,276.2 592,277.5 593.4,277.6 593.5,277.6 593.5,277.7 593.6,277.7 593.6,277.8 593.6,277.9 593.7,277.9 593.7,278 593.5,280.7 593.8,282.5 595.6,281.2 595.6,281.1 595.7,281.1 595.8,281.1 595.9,281.1 595.9,281.2 596.6,281.6 597.6,281.5 597.9,280.7 598,280.7 598,280.6 598.1,280.6 598.2,280.6 599.9,280.8 600,280.8 600.1,280.8 600.1,280.9 602.2,283 602.2,283.1 602.3,283.2 602.8,285.7 604.8,287.9 604.9,287.9 604.9,288 604.9,288.1 605.1,290.3 605.1,290.4 605.1,290.5 604.5,291.7 604.4,291.7 604.4,291.8 604.3,291.8 604.2,291.8 602.1,291.4 599.3,291.9 598.2,293.9 599,296.8 599.8,298.2 599.9,298.2 599.9,298.3 599.9,298.4 599.9,298.5 599.8,298.6 599.6,298.3 598.6,296.9 595.7,295.7 594.8,295.7 594.7,294 593.9,293.5 592.6,294 592.6,296 592.5,297.9 591.4,301.3 591.9,304.7 593.3,304.7 593.8,306.8 595.2,310 596.7,310.8 598,311.9 598.8,312.5 599.1,312.6 599.1,312.7 598.4,313.8 598.3,313.8 598.3,313.9 598.2,313.9 596.7,314.2 596.6,314.2 596.5,314.2 596.5,314.1 596.4,314.1 596.4,314 596.2,312.8 594.5,311.8 594.3,312.1 594.3,312.2 594.2,312.3 594.1,311.9 592.4,309.7 591.1,307.9 589.8,308.1 589.9,305.7 590,303.2 590.1,303.1 590.2,303.1 590.2,303 590.3,303 591.2,300.3 592.2,297.9 592.2,297.8 592.2,297.7 592.2,297.6 591.1,295.3 591,294.1 591,294 590.6,292.6 590.6,292.5 590.6,292.4 590.5,292.4 588.8,290.4 588.3,289.4 588.8,289 588.9,289 588.9,288.9 589.4,286.6 589.4,286.5 589.4,286.4 589.4,286.3 588.2,284.6 588.2,284.5 586.5,282.7 585.3,280.7 585.9,280.4 586,280.3 586,280.2 586.1,280.2 586.6,277.5 588.1,277.4 588.2,277.4 589.3,276.3 590.5,275.7 590.6,275.6 590.6,275.5 590.7,275.3 591.6,275.9Z"/><path fill="#fee0d2" d="M365.3,313.2 366.1,312.8 365.3,313.2ZM366.3,312.8 366.3,312.7 366.3,312.6 366.2,312.6 366.1,312.5 366,312.5 366,312.6 365.9,312.6 365.8,312.8 365.5,312.2 364.9,310.6 364.7,309.4 365.2,307.1 365.2,307 365.2,306.9 364.6,306 364.4,304 364.4,302.1 364.4,302 364.4,301.9 363.5,300.7 363.6,300 363.6,299.9 363.6,299.8 363.5,299.7 363.4,299.7 365.4,299.7 365.5,299.8 365.6,299.8 365.6,299.9 365.6,300 365.6,300.1 365.4,301.3 366,301.9 366.8,302.9 366.8,303 366.9,303 366.9,303.1 366.9,304.3 367.3,304.7 367.4,304.7 367.4,304.8 367.4,304.9 367.4,307.9 367.3,310.9 367.4,312.5 366.1,312.8Z"/><path fill="#fee0d2" d="M425,221.1 425.9,221.1 427.6,221.3 429.2,221.4 429.8,220.9 430.5,220.4 431.6,219.7 433.5,219 434.5,219.1 437.4,219 439.2,219.7 440.1,220.8 441.8,221.2 443.6,221.6 444.7,221.8 447.4,221.6 449.1,221.5 451.1,220.3 451.2,219.9 453.2,219.8 453.3,219.8 453.4,219.8 455.6,221.1 455.7,221.1 455.7,221.2 455.8,221.2 456.3,222.1 456.3,222.2 456.4,222.2 456.4,222.3 456.4,223.3 457.9,223.9 458,223.9 458.9,224.7 459,224.7 459,224.8 459,224.9 459.1,224.9 459.1,225 459.1,225.1 459.1,225.2 459,225.2 457.8,225.9 458.9,228.6 458.9,228.7 459,228.7 459,228.8 458.9,228.8 458.7,229.5 460.1,231.4 460.1,231.5 460.2,231.5 460.2,231.6 460.2,231.7 460.2,231.8 460.1,231.8 460.1,231.9 459.1,232.3 459,232.3 458.9,232.3 458.1,231.6 455.6,231.3 454.8,231.7 452.4,232.1 452.3,232.2 451.2,232.1 448.9,233 448.9,233.1 448.8,233.1 447,233.1 445.8,232.6 443.6,233.3 443.5,233.3 443.4,233.3 443,233 443.1,234 443.1,234.1 443,234.1 443,234.2 442.5,234.8 442,235.3 442,235.4 441.9,235.4 441.8,235.4 441.7,235.4 441.3,235.1 441.2,235.2 441.2,234.8 441.2,234.4 441.6,233.1 440.7,232.6 439.9,233.2 438.2,232.5 436.9,233.9 434.5,234.6 432.6,233.2 431.2,232.6 429.6,232.3 429.2,234.1 428.6,233.8 427.5,234.1 426.3,233 425.6,232.8 424.4,232.4 422.5,232.9 424.5,231.9 422.5,231.9 422.1,231.1 421.9,229.8 420.9,228.9 419.8,228.6 419.8,227.7 421.5,228.3 420.6,227.7 420.8,226.6 420.3,226 420.8,225.3 419,225.6 419.1,224.2 419.5,223.8 420,223.3 421.3,223.2 421.4,223.2 420.8,223.3 421.4,223.2 422.4,222.9 422.8,223.3 425.2,223.1 425.4,222.5 425.4,222.1 425.2,221.9 424.8,221.6ZM424.7,221.6 423.1,221.4 421.6,221.7 420.8,222.6 420,223.1 419.4,223.7 419,224.1 420.2,222.6 418.8,222.4 418.8,222.3 419.2,222 419.2,221.9 419.3,221.9 419.7,220.3 419.7,220.2 419.7,220.1 419.7,220 419.6,219.9 419.4,219.8 420.5,219 422.4,219.4 422.5,219.4 422.4,219.1 422.6,220 424.9,221Z"/><path fill="#fee0d2" d="M434.4,331.8 433.7,332 432.3,332.8 432.3,332.9 432.2,332.9 432.1,332.9 431.5,332.6 431.5,332.5 431.4,332.5 431.4,332.4 431.4,332.3 431.4,330.3 431.4,330.2 431.9,329.3 432.1,327.2 432.1,327.1 432.6,325.9 432.6,325.8 433.5,324.5 433.5,324.4 434.4,323.7 434.8,323.2 434.3,323 434.2,322.9 434.1,322.9 434.1,322.8 434.1,322.7 434.2,319.6 434.2,319.5 434.3,319.4 435.3,318.6 435.4,318.6 435.5,318.6 436.9,319.2 438.7,318.6 438.8,318.6 440.3,318.6 441.6,317.4 441.6,317.5 441.5,317.5 441.5,317.6 441.5,317.7 441.5,317.8 441.6,317.9 442.7,319.6 442.9,320.9 443.9,323.8 443.2,325.5 442.1,327.3 442,327.3 441.4,328.3 441.4,328.4 441.3,328.4 441.3,328.5 441.3,331.3 441.4,331.3 441.4,331.4 441.4,331.5 441.5,331.5 441.5,331.6 441.6,331.6 439.2,331.7 436.8,331.7Z"/><path fill="#fee0d2" d="M419.1,357.1 419.2,357.1 419.2,357.2 419.3,357.2 419.3,357.3 419.3,357.4 419.4,357.9 420.2,357.9 420.3,357.9 421.7,358.1 421.8,358.1 421.8,358.2 421.9,358.2 421.9,358.3 422.6,359.3 424.2,359.7 425.6,358.9 425.7,358.9 425.8,358.9 425.9,358.9 425.9,359 426.4,360.3 428,360.6 428.1,360.6 428.1,360.7 428.9,361.8 429,361.8 429.8,363.1 431.1,363.2 431,361.2 430.8,361.4 430.7,361.4 430.6,361.4 430.5,361.4 428.9,360.4 428.3,359.9 428.2,359.9 428.2,359.8 428.2,359.7 428.2,359.6 428.5,357 429,354 428.5,352.9 428.5,352.8 428.5,352.7 428.5,352.6 429.2,351 429.2,350.9 429.3,350.9 429.3,350.8 429.4,350.8 430,350.5 430.1,350.5 433.2,350 433.3,350 433.3,350.1 433.6,350.2 433.8,350.7 433.9,350.8 433.9,350.9 434,350.9 434.9,351.5 434.9,351.6 435.8,352 435.9,352 437.3,352.5 438.6,353.2 438.6,353.3 439.6,353.5 440,353.9 440,354 440.6,356.3 440.6,356.4 440.6,356.5 440.5,356.5 440.1,357.2 439.6,359.2 440,361.3 440,361.4 440,361.5 439.9,361.6 439.2,362.4 438.5,364.5 439.5,365.1 439.6,365.1 439.6,365.2 439.6,365.3 439.7,365.3 439.6,365.4 439.6,365.5 439.6,365.6 439.5,365.6 439.4,365.6 436,366.7 432.7,367.7 432.8,369.3 432.8,369.4 432.8,369.5 432.7,369.5 432.7,369.6 432.6,369.6 432.6,369.7 432.5,369.7 430.9,370 429.7,371 429.4,371.8 429.3,371.9 429.2,371.9 429.2,372 428.4,372.2 426.4,374.2 425.1,375.9 425.1,376 425,376 424.9,376 424.1,376.1 424,376.1 423.3,375.8 420.8,375.5 420.7,375.5 420.3,375.3 420.3,375.2 419.4,374.5 418.1,374.4 416.3,374.9 416.4,374.9 416.4,374.8 416.5,374.8 416.5,374.7 416.5,374.6 416.5,374.5 416.4,374.4 415,372.8 413.6,370.8 413.7,368.1 413.8,365.5 413.9,362.9 416.1,362.9 418.4,362.9 418.5,362.9 418.5,362.8 418.6,362.8 418.6,362.7 418.7,362.7 418.7,362.6 418.7,362.5 418.5,361.7 418.8,360.8 418.8,360.7 418.8,360.6 418.5,359.4 418.8,358.3 418.8,358.2 418.8,358.1 418.7,358.1 418.5,357.3 418.5,357.2 418.4,357.2 418.4,357.1 418.3,357.1Z"/><path fill="#fcbba1" d="M403.7,218.5 403.7,218.4 403.7,218.3 404.5,217 404.6,217 404.6,216.9 404.7,216.9 404.8,216.9 405.5,217.2 405.6,217.2 405.6,217.3 406.1,217.9 406.6,218.2 406.7,218.3 406.7,218.4 407,219.3 407,219.4 407,219.5 406.8,220.3 407.1,221.2 407.9,221.7 407.8,221.7 407.7,221.7 407.7,221.8 407.6,221.9 407.6,222 407.6,222.5 407.1,222.8 407,222.8 407,222.9 407,223 406.9,223.8 406.2,224.8 406,224.7 405.9,224.7 405.9,224.5 404.3,223.2 404.7,223 404.4,220.8 404.1,219.4 403.7,219 403.8,219 403.7,218.6Z"/><path fill="#fcbba1" d="M419.3,183.4 419.3,183.5 419.4,183.5 419.4,183.6 419.7,184 420.5,183.8 420.6,183.8 422.6,184.4 422.7,184.4 422.7,184.5 422.8,184.5 422.8,184.6 423.2,185.7 423.2,185.8 423.3,185.8 423.3,185.9 423.2,186 423,186.5 424.4,187.8 425.2,188.3 425.3,188.3 425.3,188.4 425.4,188.4 425.4,188.5 425.4,188.6 425.4,188.8 426.5,189.1 426.6,189.1 426.6,189.2 426.7,189.2 427.3,189.9 427.4,189.9 427.4,190 427.5,190.1 427.5,190.2 427.5,190.3 427.4,190.3 427.4,190.4 426.7,190.9 426.6,190.9 425.1,190.8 425,190.9 425.4,191.4 425.5,191.5 426.3,193.1 426.3,193.2 426.3,193.3 426.3,193.4 426.3,193.5 426.2,193.5 424.5,193.7 424.2,194.1 424.3,195.2 424.3,195.3 424.2,195.3 424.2,195.4 424.2,195.5 424.1,195.5 424,195.5 423.2,195.2 421.4,195.4 421.4,195.3 421.3,195.3 420.8,194.8 420.3,195.2 420.2,195.2 420.1,195.2 419.3,194.9 417.8,194.8 417.7,194.8 415.4,194.2 413.4,194 412,194 411,194.7 410.4,194.8 410.2,194.4 410,193.4 410,193.3 409.9,193.3 409.4,192.4 410.2,192 410.3,192 410.3,191.9 410.3,191.8 410.3,191.7 410.2,190.7 410.1,190.6 409.5,189.7 409.2,188.7 409.3,189 410.9,189 411,189 413,188.1 413,188 413.1,188 413.1,187.9 413.3,186.6 414.7,185.9 414.7,185.8 414.8,185.7 414.8,185.6 414.8,185.5 414.7,185.5 414.4,184.4 414.5,184.7 415.4,184.4 417.3,183.4 417.3,183.3 417.4,183.3 417.4,183.2 417.4,183.1 417.3,183.1 417.3,183 417.2,182.9Z"/><path fill="#fcbba1" d="M426.7,388.8 424.7,390.7 423.9,392.3 423.9,392.4 423.8,392.4 423.1,393.4 423.1,393.5 423,393.5 422.9,393.5 421.8,393.7 421.5,394.7 421.2,395.6 421.1,395.7 421,395.8 419.6,396.4 419.5,396.4 417.6,396.3 417.5,396.2 416.5,395.5 415.7,395.2 414.7,395.7 414.2,396.9 414.2,397 414.1,397 413,397.8 411.9,399 411.8,399 411.7,399 410.1,399.3 410,399.3 409.9,399.3 409.9,399.2 409.8,399.2 409.4,398.2 409.3,398.1 409.3,398 409.6,396.5 408.5,394.2 407.9,393.9 407.9,393.8 407.8,393.8 407.8,393.7 407.8,393.6 407.9,389.8 408,386 408.1,385.9 408.1,385.8 408.1,385.7 408.2,385.7 408.3,385.7 408.3,385.6 410.3,385.6 410.4,382.5 410.5,379.5 410.6,376.5 410.6,376.4 410.7,376.4 410.7,376.3 410.8,376.3 410.8,376.2 410.9,376.2 412.6,376.1 414.3,375.7 416.1,375.2 416.2,375.2 416.2,375.3 416.3,375.3 416.4,375.3 417,376.2 418.3,375.3 418.4,375.3 418.5,375.3 419.1,375.3 419.9,374.9 420.3,375.2 420.3,375.3 420.7,375.5 420.6,375.4 421.4,377.4 421.4,377.5 421.5,377.5 421.9,377.9 422.5,379.4 422.5,379.5 425,382.4 425.1,382.4 425.9,382.7 425.9,383.4 425.9,383.5 426.5,385.1 426.5,385.2 426.6,385.3 426.7,385.3 428.3,385.7 429.7,386.8 429.7,386.9 429.8,386.9 429.9,386.9Z"/><path fill="#fcbba1" d="M422.8,215.5 421.7,215.9 421.9,217.2 421,217.7 422.4,219.1 422.5,219.4 422.4,219.4 420.5,219 419.1,220 418.5,221 418.4,221 418.4,221.1 416.7,221.3 416.6,221.3 416.5,221.3 415,220.4 413.5,221.1 413.4,221.1 411.9,221 411.8,221 411.7,221 411.7,220.9 411.6,220.9 411.6,220.8 411.3,219.2 410.3,218.5 410.2,218.4 410.2,218.3 410.1,218.3 410.1,218.2 410.1,218.1 410.1,218 410.2,218 410.2,217.9 410.3,217.8 410.3,217.7 410.2,217.7 410.2,217.6 410.2,217.5 410.2,217.4 410.4,216.6 410.5,216.5 410.5,216.4 411,215.9 410.1,215 410.1,214.9 410,214.9 409.7,213.9 409.7,213.8 409.7,213.7 409.8,213.7 409.8,213.6 410.1,213.2 410.3,213.5 411,214.5 411,214.6 411.1,214.6 411.2,214.6 412,214.4 413.6,214.8 416.7,215 416.8,214.9 417.7,214.3 420,213.7 421.6,214.6 422.9,214.8Z"/><path fill="#fcbba1" d="M425.8,315.7 425.7,315.7 424.2,315.6 422.5,315.4 421.8,315.6 421.5,316.1 421.4,316.2 421.3,316.2 420.6,316.3 420.5,316.3 420.4,316.3 419.6,315.8 417.2,317 417.1,317 417.1,317.1 417,317.1 417,317 416.1,316.8 415.9,316.9 415.3,318.4 415.2,318.5 415.1,318.6 415,318.6 413.2,318.1 411.6,317.8 411.5,317.8 410,316.8 408.3,316 407.2,316.7 406.4,317.9 406.2,319.7 406.2,319.6 406.2,319.5 406.1,319.5 406.1,319.4 406,319.4 406,319.3 405.9,319.3 404.5,319.2 402.9,318.7 402.8,318.7 402.7,318.8 401.3,320.2 401.3,320.3 400.3,322.1 400.3,322 400.2,320.9 400.2,320.8 400.1,320.7 399.1,319.8 398.3,318.6 398.1,317.7 398,317.6 397,316.3 397.2,315.7 397.2,315.6 396.9,314.5 397.1,312.7 397.5,312.3 397.6,312.3 397.6,312.2 398.7,309.7 400.5,309.5 400.6,309.5 400.6,309.4 401,308.9 401.1,308.9 401.6,309.4 401.7,309.4 401.7,309.5 401.8,309.5 401.9,309.5 404.8,308.5 404.8,308.4 404.9,308.4 405.8,307.4 407,306.5 407,306.4 407.1,306.4 407.1,306.3 407.1,306.2 407.1,306.1 406.9,305.5 407.3,305.4 409.5,305.5 409.6,305.5 411.8,304.3 411.8,304.2 411.9,304.2 413.4,301.4 414.5,300.4 415.6,300 415.6,299.7 415.9,300.9 415.9,301 417.2,302.5 417.2,303.4 416.9,304.4 416.9,304.5 416.9,304.6 417,305.5 417.1,305.5 417.1,305.6 418.1,306.5 418.2,306.5 419.7,307.5 420.9,308.5 420.9,309.2 420.9,309.3 421,309.4 422.6,310.8 423.5,311.8 424.1,313.4 424.2,313.5 425.9,314.5 426.2,315.3 426.3,315.5Z"/><path fill="#fcbba1" d="M414.5,300.4 413.4,301.4 411.9,304.2 411.8,304.2 411.8,304.3 409.6,305.5 409.5,305.5 407.3,305.4 406.9,305.5 407.1,306.1 407.1,306.2 407.1,306.3 407.1,306.4 407,306.4 407,306.5 405.8,307.4 404.9,308.4 404.8,308.4 404.8,308.5 401.9,309.5 401.8,309.5 401.7,309.5 401.7,309.4 401.6,309.4 401.1,308.9 401,308.9 400.6,309.4 400.6,309.5 400.5,309.5 398.5,309.7 398.4,309.7 398.4,309.6 398.3,309.6 398.3,309.5 398.2,309.5 398.2,309.4 398.2,309.3 398.3,309.3 398.3,309.2 398.6,308.7 397.9,307 397.6,306 396.7,305.6 396.6,305.6 395.2,304 395.1,303.9 395.1,303.8 395.1,303.7 395.6,302.5 395.7,302.4 395.7,302.3 395.8,302.3 395.9,302.3 396.9,302.5 397.5,302.4 397.6,302.4 398.4,302.4 397.4,300.5 397.3,300.4 397.3,300.3 397.4,298.6 397.2,296.9 396.4,295.5 395.9,295.6 395.8,295.6 395.7,295.6 395.7,295.5 395.6,295.5 395.6,295.4 395,294 395,293.9 395,292.3 394.1,291.4 394.1,291.3 394,291.3 394,291.2 394,291.1 395,287.7 395,287.6 395.1,287.5 397.8,285.1 397.9,281.9 397.9,281.8 398.3,279.2 398.6,276.5 398.7,276.5 398.7,276.4 399,275.5 398.2,274.8 398.2,274.7 398.1,274.6 398.1,273.9 397.3,273.3 397.3,273.2 397.2,273.2 397.2,273.1 396.6,269.5 397,269.3 399.1,267.9 402.1,269.6 405.1,271.2 408.1,272.8 411.1,274.5 414.2,276.1 417.2,277.8 417.3,281.1 417.5,284.3 417.6,287.6 415.9,287.5 415.8,287.5 415.7,287.5 415.7,287.6 414.7,289.6 414.1,291.2 414.1,291.3 414.1,291.4 414.1,291.5 414.2,291.5 414.5,291.9 413.9,292.5 413.9,292.6 413.9,292.7 413.8,292.7 413.8,292.8 413.9,292.8 414.1,293.8 413.6,294.7 413.6,294.8 413.4,295.8 413.4,295.9 413.4,296 413.4,296.1 413.5,296.1 413.5,296.2 413.6,296.2 413.7,296.2 414.3,296.1 414.7,296.8 414.7,298.3 414.7,298.4 414.8,298.4 414.8,298.5 415.6,299.2 415.6,299.6 415.6,299.7 415.6,300Z"/><path fill="#fcbba1" d="M433.7,237.5 434.9,236.2 436.7,235.8 438.5,235.4 437.4,237.2 435.3,238.3Z"/><path fill="#fcbba1" d="M380.2,186.6 380,186.2 380.2,186.6ZM383.9,186 382.4,185.8 382.1,184.8 383.9,184.8ZM387.6,185.5 384.9,185.5 384.2,184.3 385.8,183.8 387.4,183.3ZM379.6,180.8 382.1,179.6 383.3,179.3 383.2,180 382.8,181.1 384.1,182.6 382.8,183.2 381.6,184.8 381.6,186.4 381.6,186.1 381.5,186.1 380,185.9 379.9,185.9 380,186.2 379.5,184.8 378.8,183.5 378.9,181.8ZM378.3,178.4 378.4,178.4 378.3,178.4 378.2,178.4 378.3,178.4Z"/><path fill="#fcbba1" d="M189.8,331.2 189.8,331.3 189.7,331.3 189,333 189,333.1 186.5,335.9 186.4,335.9 183.7,336.9 182.4,339.1 182.1,340.8 182,340.9 182,341 180.7,342 180.6,342.1 180.5,342.1 180.4,342.1 180.4,342 180.3,342 179.4,340.7 178.6,340.5 177.7,340.7 177.6,340.7 177.5,340.7 177.5,340.6 177.4,340.6 177.4,340.5 177.4,340.4 177.3,339.4 177.3,339.3 177.3,339.2 177.4,339.2 177.9,338.7 177.7,337.9 177.6,337.9 177.8,337.7 178.6,337.4 178.8,334.8 177.6,335.7 176.2,334.6 176.8,331.3 177.5,330.4 178.3,328.6 178.2,326.7 179.3,326.2 180.7,325.4 181,325.5 183.3,327 183.4,327 183.7,327 184.2,327.9 184.2,328 184.3,328 184.3,328.1 184.4,328.1 186.3,328.4 186.4,328.4 186.5,328.4 187,328.1 188,328.8 188,328.9 189,329.5 189.1,329.5 189.2,329.5 189.5,329.4 189.8,331.1ZM181.3,324.9 181.3,325.1 181.3,324.9Z"/><path fill="#fcbba1" d="M414.4,155.7 414.5,155.7 414.5,155.8 414.6,155.8 414.6,155.9 414.6,156 414.6,156.1 414.6,156.2 413.6,157.7 416,160 416,160.1 416.1,160.1 416.1,160.2 416.1,160.3 416.1,160.4 415.5,162.2 417.3,163.7 417.3,163.8 417.4,163.8 417.4,163.9 417.4,164 417.4,164.1 417.1,165.3 419.9,166.8 420,166.8 420,166.9 420.1,167 420.1,167.1 420.1,167.2 419.7,168.4 419.6,168.5 418.3,169.8 417,171 415.8,172.2 414.2,172.5 412.8,172.8 411,173.1 409.3,173.4 407.5,173.8 405.7,174.3 404.2,172.8 402.5,171.2 402.9,170.3 402.2,169.1 403.3,166.8 404.5,164.6 404.3,164.7 406.4,162.8 408,162.1 406.1,160.4 405.6,160.3 405.5,160.2 405.5,160.1 405.4,160.1 405.4,160 404.9,159.6 404.3,158.8 403.5,155.4 403.5,155.3 403.5,155.2 403.4,155.2 401.9,154.4 400.4,153.6 398.5,152.8 398.1,153.1 398.9,152.5 400.9,153.6 400.9,153.7 401,153.7 403.1,153.6 405,154.1 405.1,154.1 405.2,154.1 406.6,153.1 406.6,153 407,151.5 409.3,150.8 411.4,151.5 411.1,152.8 411.1,152.9 411.1,153 411.2,153.1 411.3,153.2 411.4,153.2 411.5,153.2 411.6,154.3ZM405.1,160.3 405.3,160.2 405.1,160.3Z"/><path fill="#fcbba1" d="M383,216.4 383.4,218.8 382.9,220.6 381.4,219.3 381.4,218ZM369.5,196.2 369.6,196.2 369.6,196.3 369.7,196.3 370.6,197.3 372,198.4 372.9,198.2 373,198.2 373,198.3 374.8,199.4 375.2,199.6 375.7,199.6 375.8,199.6 375.9,199.6 376.8,200.2 379.7,200.7 379.8,200.7 379.8,200.8 379.9,200.8 379.9,200.9 379.9,201 379.9,201.1 379.9,201.2 378.9,202.9 379,204.7 379,204.8 379,204.9 378.9,204.9 378.8,205 378.7,205 378.6,204.9 378.1,205.3 378,205.3 377.9,205.3 377.3,205.1 377.4,205.4 377.4,205.5 377.3,205.5 377.3,205.6 375.9,207 375.9,207.6 376.6,207.3 376.7,207.3 376.8,207.3 376.8,207.4 377.6,208.5 377.6,208.6 377.6,208.7 377.6,208.8 377.6,209.4 378.2,210.2 378.2,210.3 378.2,210.4 378.2,210.5 378.2,210.6 378.1,210.7 377.6,211.3 378,212.9 379.1,213.2 379.2,213.3 379.2,213.4 379.3,213.4 379.3,213.5 379.3,214.4 379,214.4 378.5,214.6 378,215 377.2,215.7 375.7,216.2 374.5,215.7 372.9,215.5 371,215.4 369.8,216.2 369.7,217.2 369.8,217.5 369.6,217.5 367.2,217.7 366.5,217.2 366.4,217.2 364.8,216.6 364.7,216.6 364.7,216.7 364,216.9 361.8,216.4 360.3,216.1 359.8,215.4 359.8,215.3 360.2,215.1 360.7,212.2 361.1,209.7 360.9,208.3 359.6,207.4 358.8,205.5 357,204.9 356.5,204.3 354.4,204.1 353.7,203.5 353.6,202.8 355.2,201.8 357.2,201.4 357.7,202.3 359.3,201.9 360.3,202 360.1,201.5 359.4,199.2 360,199.4 360.7,199.3 362.6,200.3 363.5,199.8 365.5,198.7 366.4,198 366.5,196.7 366.4,196.3 367,196.1 368.4,195.8 368.6,195.6 368.6,195.7 368.8,196.2 369.5,196.2Z"/><path fill="#fcbba1" d="M337.2,296.9 337.3,296.9 337.8,296.6 337.9,296.6 337.9,296.5 338,296.5 338,296.6 338.4,296.6 338.5,296.6 338.5,296.7 339.1,297.3 339.9,297.5 340.4,297 340.5,297 341.2,296.6 341.8,296.3 341.8,296.2 341.9,296.2 342.4,296.3 342.5,296.3 342.5,296.4 343,297 343.1,297 343.1,297.1 343.4,297.7 344.2,298.8 344.3,298.8 344.3,298.9 344.3,299 344.3,299.1 344.3,299.2 343.8,299.8 343.8,300 343.9,300 344,299.9 344,300 344.1,300 344.2,300 344.5,300.3 344.5,300.4 344.5,300.5 344.5,300.6 344.4,301.2 345,301.9 345.1,301.9 345.1,302 345.1,302.1 345.1,302.2 345.1,302.3 345,302.3 345,302.4 344.9,302.4 344.6,302.5 344.5,303.1 344.9,304.1 345,304.1 345,304.2 345.5,306.3 345.5,306.4 345.5,306.5 345.5,306.6 345.4,306.6 345.4,306.7 344.6,306.9 344.5,307.1 344.6,307.4 344.6,307.5 344.6,307.6 344.5,308.7 344.5,308.8 344.4,308.9 344.3,309 344.2,309 343.9,309 343.8,309 343.4,309 343,309.8 342.9,309.9 342.8,310 342.7,310 342.1,310 342,310 341.9,310 341.9,309.9 341.4,309.3 341.4,309.2 341.4,309.1 341.5,308.1 340.7,306.8 340.3,307 340.3,307.1 340.2,307.1 339.8,307.1 339.2,307.3 339.1,307.3 339,307.3 339,307.2 338.9,307.2 338.9,307.1 338.8,307.1 338.8,307 338.8,306.9 338.9,306.1 338.5,305.5 338.5,305.4 338.5,305.3 338.6,304.6 338.1,303.6 337.6,302.8 336,302.8 335.5,303.2 335.5,303.3 335.4,303.3 334.8,303.3 334.6,303.8 334.3,304.5 334.3,304.6 334.2,304.6 333,305.8 332.9,305.8 332.8,305.8 332.7,305.8 332.7,305.1 331.8,303.9 329.7,301.3 329,300.4 329.1,300.3 329.1,300.2 329.1,300.1 329.1,300 329,300 329,299.9 328.9,299.9 329.7,299 330.2,299 330.3,299 330.4,299 331,298.6 331.4,298.6 331.5,298.5 331.9,298.1 332,298.1 332,298 332,297.9 332,297.8 331.9,297.1 332,297 332,296.9 332.1,296.9 332.1,296.8 332.1,296.2 331.9,296.2 332.9,296.2 334.5,296.8 334.5,296.9 334.6,296.9 334.7,296.9 334.7,296.8 335.3,296.5 336.5,296.7 336.6,296.7 337,296.6 337,296.5 337.1,296.5 337.1,296.4 337.2,296.3Z"/><path fill="#fcbba1" d="M398.9,203.6 399.7,203.9 401.1,203.6 401.2,203.3 401.2,203.2 401.3,203.2 401.3,203.1 401.4,203.1 402.2,203 403.1,202.6 403.2,202.6 403.3,202.6 403.4,202.8 404.2,202.5 404.6,201.9 404.7,201.9 405.3,201.7 405.4,201.7 407.6,202.5 407.9,202.2 408,202.2 408.1,202.2 408.2,202.2 409.4,202.9 409.4,203 409.5,203 409.5,203.1 409.7,203.8 409.7,203.9 409.7,204 409.7,204.1 409.7,204.2 409.6,204.2 408.5,204.7 407.8,206.3 407.8,206.4 406.7,208.1 406.6,208.2 405,208.7 404.9,208.7 403.7,208.6 402.2,209.2 401.5,209.6 401.4,209.6 401.3,209.6 399.6,209.1 399.5,209.1 397.9,208 397.3,207.8 397.4,207.7 397.5,207.7 397.5,207.6 397.5,207.5 397.5,207.4 397.5,207.3 397,206.4 397,206.3 396.9,206.3 396.8,206.3 396.7,206.7 397.2,205 397.3,204.9 397.2,204.8 397.2,204.7 397.2,204.6 397.7,204.6 397.8,204.6 397.9,204.6 397.9,204.5 398,204.4 398,203.3 398,203.2 398,203.1Z"/><path fill="#fcbba1" d="M535.8,238.8 535.8,238.9 535.9,238.9 535.9,239 535.9,239.1 536.2,241.1 537.4,242.3 537.4,242.4 537.5,242.5 537.7,243.9 537.7,244 537.7,244.1 537.6,244.1 537.5,244.1 536.3,243.9 537.3,246.1 539.7,247.7 543,249.5 542.9,249.6 541.8,250.8 541.7,250.8 541.7,250.9 541.4,253.4 541.4,253.5 541.4,253.6 541.4,253.7 541.5,253.7 541.5,253.8 541.6,253.8 543.9,254.7 546.3,256 549.5,257.5 549.6,257.5 552.6,257.9 554.1,259.1 554.1,259.2 554.2,259.2 556,259.4 558.8,260 558.8,260.1 560.7,260 560.8,260 560.9,260 560.9,259.9 560.9,259.8 561,258.8 561,258.7 560.9,258.6 560.3,257 560.3,255.9 560.3,255.8 560.2,255.8 560.2,255.7 560.2,255.6 560.1,255.6 560,255.6 559.9,255.6 561.1,255 561.2,255 561.3,255 561.3,255.1 561.4,255.1 561.5,255.2 561.5,255.3 561.9,256.7 561.6,257.2 561.6,257.3 561.6,257.4 561.8,258 561.8,258.1 561.9,258.1 561.9,258.2 562,258.2 564.2,259.2 564.3,259.2 564.4,259.2 565.7,258.8 567.6,259 569.4,258.9 569.5,258.9 569.5,258.8 569.6,258.8 569.6,258.7 569.6,258.6 569.4,257 569.4,256.9 569.3,256.8 569.3,256.7 568.2,255.9 568.1,255.9 568,255.8 569.6,255.5 571.1,253.6 571.2,253.6 573.4,251.9 573.5,251.9 573.6,251.9 575.4,252.5 576.7,251.5 576.8,251.5 576.8,251.4 576.9,251.5 577,251.5 577.1,251.6 578.5,253.2 578.6,253.3 578.6,253.4 578.6,253.5 578.6,253.6 578.3,254.2 580.3,254.6 580.4,254.6 580.5,254.6 580.5,254.7 580.6,254.8 581,255.8 581,255.9 581,256 581,256.1 580.9,256.1 580.4,256.5 580.9,257.9 580.9,258 580.9,258.1 580.8,258.2 580.7,258.3 580.6,258.3 579,257.8 576.7,259.5 577,260.8 577,260.9 577,261 576.2,263.1 576.3,264.3 576.3,264.4 575.7,266.6 575.6,266.6 575.6,266.7 575.5,266.7 575.4,266.7 573.9,266.2 574.2,268.5 574.2,268.6 574.2,268.7 574.1,268.7 573.8,269.5 574.2,270.4 574.2,270.5 574.2,270.6 574.2,270.7 574.1,270.7 574.1,270.8 573.2,271.3 573.2,271.2 573.1,271.1 573.1,271 572.2,269 571.3,266.9 571.3,266.8 571.2,266.8 571.2,266.7 571.1,266.7 571,266.7 570.4,266.7 570.3,266.7 570.3,266.8 570.2,266.8 570.2,266.9 569.4,266.6 569.6,266.1 570.4,266 570.5,266 570.5,265.9 570.6,265.9 570.6,265.8 571.3,263.6 571.3,263.5 571.3,263.4 571.2,263.3 571.2,263.2 571.1,263.2 571,263.2 569.7,262.7 569.6,262.7 567.5,262.7 565.5,262.4 565.1,260.8 565,260.7 565,260.6 564.9,260.6 564.8,260.6 563.8,260.5 561.8,259.3 561.7,259.3 561.6,259.3 561.5,259.4 561.5,259.5 561,261.2 561,261.3 561,261.4 561,261.5 561.1,261.5 561.1,261.6 561.2,261.6 562.6,262.7 561.7,263.5 561.7,263.6 561.3,264.5 561.3,264.6 561.3,264.7 561.3,264.8 561.3,264.9 561.4,264.9 561.4,265 561.5,265 562.8,265.6 562.6,266.9 562.6,267 562.7,267 562.7,267.1 563.8,269 564.4,271.1 564.4,271.2 564.9,272.2 562.7,272.2 560.5,272.7 560,275.8 558.2,277 556.2,278.4 554.7,280.5 553.1,282.5 551,284.5 548.8,287.5 546.8,290.9 547.4,294.5 546.6,297.7 546.8,299.8 546.9,301.9 545.8,304.5 543.2,305.8 541.9,307.7 540.5,306.7 539.6,304.7 538.7,302.8 537.3,299.4 536.2,297.2 535,295.1 533.5,291.7 532,288.3 531.3,286.3 530.5,284.3 529.7,281.8 528.8,279.2 528.5,275.4 528.1,273.6 527.4,270.7 526.6,273.3 523.8,274.5 520.8,272.2 519.3,270.5 522.2,268.8 519.9,269 518.3,268.1 517.1,266.8 517.3,267 518.4,265.4 520.9,265.4 523.3,265.4 523.4,265.4 523.4,265.3 523.5,265.3 523.5,265.2 523.5,265.1 523.5,265 522.7,262.8 522.7,262.7 522.7,262.6 522.6,262.6 521.3,261.4 520.8,259.5 520.8,259.4 520.7,259.4 520.7,259.3 520.6,259.2 519.3,258.3 521.1,255.9 523.6,256.1 523.7,256.1 523.7,256 523.8,256 525.6,253.3 525.6,253.2 526.5,250.6 528.1,248 528.1,247.9 528.1,247.8 527.7,246.1 529.2,244.6 529.2,244.5 529.2,244.4 529.2,244.3 529.2,244.2 529.1,244.2 529.1,244.1 529,244.1 527,242.9 525.9,241.2 524.7,239.1 525.3,238.2 528.7,238.9 528.8,238.9 531.1,238.5 531.2,238.4 532.8,236.2 532.8,236.1 532.8,236 532.8,235.9 532.7,235.9 532.7,235.8 532.6,235.7 532.7,235.8 535.8,238.8ZM532.5,235.7 532.6,235.7 532.5,235.7Z"/><path fill="#fcbba1" d="M469.9,230.8 472.7,232.2 474.5,232.9 477.2,232.8 477.9,232.5 480,232.3 479.5,231.1 479.7,231.4 481.5,231.3 481.6,231.3 481.7,231.3 481.7,231.2 482.8,229.8 484.2,229.9 484.3,229.9 485.1,229.4 486.6,229.6 489.2,230.9 489.2,231 489.3,231 491,231.2 493.9,233.5 494,233.5 494,233.6 495.4,233.7 496,235.6 496.1,235.6 496.1,235.7 496.2,235.8 496.3,235.8 496.5,236 496.3,238.9 496.1,240.5 496.9,240.8 497,240.8 497,240.9 497.1,240.9 497.1,241 497.1,241.1 497.1,241.2 497.1,241.3 496.5,242.6 497.5,244.5 497.6,244.5 497.6,244.6 498,246 499.5,246.4 499.6,246.4 499.7,246.5 499.7,246.6 499.8,246.6 499.8,246.7 500.3,248.3 500.3,248.4 500.3,248.5 500.3,248.6 500.2,248.6 498.8,250.8 499.9,251.9 499.9,252 501,253.5 503.3,254.6 503.4,254.7 503.4,254.8 503.5,254.9 503.8,257 504.7,257.3 504.8,257.3 504.8,257.4 504.9,257.4 504.9,257.5 505,257.5 505.3,258.7 505.3,258.8 505.3,258.9 505.3,259 505.2,259.1 502.3,260.4 502,262.9 501.7,262.9 499.6,262.6 497.7,262.5 495.8,262.4 493.1,261.7 490.9,258.7 489.2,257.8 486.3,259.3 486.6,259.2 486.5,259.2 486.4,259.2 486.1,259.3 482.9,259 480.9,257.1 478.1,255.9 476.5,253.1 474.4,249.9 473.3,250.3 472.1,249.3 471.7,249.5 471.2,250.1 471.1,249.7 471,249.7 471,249.6 470.9,249.5 470.8,249.5 470.7,249.5 470.5,249.6 469.9,249 469.7,247.7 469.7,247.6 469.6,247.6 469.6,247.5 469.5,247.5 469.5,247.4 469.4,247.4 469,247.4 469.1,245.9 469.1,245.8 469.1,245.7 469,245.7 467.6,243.7 467.6,243.6 467.5,243.6 464.7,242.2 462.9,239.9 463.1,238.1 464,237.3 464,237.2 464.1,237.1 464.1,237 464,237 463.7,235.4 463.6,235.4 463.6,235.3 463.5,235.2 462,234.4 460.1,231.4 458.7,229.5 458.9,228.8 459,228.8 459,228.7 458.9,228.7 458.9,228.6 457.8,225.9 458.8,225.4 459.1,226 459.1,226.1 459.2,226.1 459.2,226.2 460.5,227.4 460.6,227.4 460.7,227.5 462.2,227.8 463,227.7 463.1,227.7 465.3,225.8 465.8,225.6 466.3,226.1 465.9,227.2 465.9,227.3 465.9,227.4 465.9,227.5 466,227.5 466,227.6 467.6,228.9 467.6,229 467.7,229 467.8,229 467.9,229 468.3,228.6 468.4,228.6 468.2,228.3Z"/><path fill="#fcbba1" d="M460.1,231.4 462,234.4 463.5,235.2 463.6,235.3 463.6,235.4 463.7,235.4 464,237 464.1,237 464.1,237.1 464,237.2 464,237.3 463.1,238.1 462.9,239.9 464.7,242.2 467.5,243.6 467.6,243.6 467.6,243.7 469,245.7 469.1,245.7 469.1,245.8 469.1,245.9 469,247.4 469.4,247.4 469.5,247.4 469.5,247.5 469.6,247.5 469.6,247.6 469.7,247.6 469.7,247.7 469.9,249 471.2,250.2 471,250.5 469.7,250.2 470,250.6 469.9,250.8 469.7,250.7 468.4,250.5 467.1,252.9 467,253 466.9,253 464.8,252.9 462.8,252.8 462.7,252.8 462.6,252.7 459.2,250.1 455.8,247.5 452.3,245.7 449.7,245 449.8,244.9 449.9,244.9 449.9,244.8 449.9,244.7 449.9,244.6 448.7,241.6 450.8,240.3 453,239 453.1,239 453.1,238.9 453.5,235.7 453.5,235.6 453,233.9 454,233.3 454.1,233.2 454.9,231.7 455.6,231.3 458.1,231.6 458.9,232.3 459,232.3 459.1,232.3 460.1,231.9 460.1,231.8 460.2,231.8 460.2,231.7 460.2,231.6 460.2,231.5 460.1,231.5 460.1,231.4Z"/><path fill="#fcbba1" d="M184.9,281.1 186,280.4 188.3,280.7 189.7,282 188.4,281.8 187.4,282.4 185.5,281.3Z"/><path fill="#fcbba1" d="M512.4,217.1 512.5,217 512.5,216.9 512.6,216.9 513.8,216.5 513.9,216.5 515.7,216.9 517.4,217.4 517.3,216.1 517.3,216 517.3,215.9 517.4,215.9 518.3,215.4 518.4,215.4 518.4,215.3 518.5,215.4 521.8,216.4 522.4,216.2 522.4,216.1 524.2,216.2 526,216.2 529.2,216.5 529.3,216.5 530.6,217.4 532,217.8 532.1,217.8 532.1,217.9 532.2,217.9 532.2,218 532.3,218 532.3,218.1 532.4,218.2 532.4,218.3 532.3,218.9 532.2,219 530.8,219.7 529.4,220.4 529,221.3 529,221.4 528.9,221.4 526.4,221.7 526.2,223.2 526.2,223.3 526.1,223.4 526,223.4 523.7,223.1 522.4,223.5 521,224.6 521.2,224.9 521.3,225 521.3,225.1 521.3,225.2 521.3,225.3 521,225.8 520.9,225.6 520.8,225.5 520.7,225.4 520.6,225.4 520.5,225.4 518.6,225.6 516.6,225.8 513.8,224.9 513.7,224.9 511.8,225.1 511.7,224.3 513.9,224.7 514,224.7 514,224.6 514.5,223.9 516.1,224.1 516.2,224.1 518.4,222.2 518.4,222.1 518.5,222.1 518.5,222 518.4,221.9 518.4,221.8 518.3,221.8 518.3,221.7 518.2,221.7 515.3,220.3 515.2,220.3 515.1,220.3 513.9,220.9 512.5,220.2 513.5,218.8 513.6,218.8 513.6,218.7 513.6,218.6 513.5,218.5 513.5,218.4 513.4,218.4 513.4,218.3 513.3,218.3 512.6,218 512.5,218 512.4,218 512.3,218.1Z"/><path fill="#fcbba1" d="M441.5,242.1 441.4,242.4 441.3,242.4 441.3,242.5 441.2,242.5 441.2,242.6 440.4,242.6 440.3,242.6 440.3,242.5 440.3,242.2 440.5,241.8 440.9,240.1 441.5,238.7 441.6,238.4 441.7,238.4 441.7,238.5 441.8,238.5 442.7,238.6 443,239.2 442.1,240.1 442,240.1 442,240.2 441.6,241.6 441.6,241.7 441.6,241.8 441.6,242.1Z"/><path fill="#fcbba1" d="M352.6,263.1 352.6,263.2 352.7,263.2 352.7,263.3 352.7,263.4 352.7,263.5 352.7,263.6 352.6,263.6 352.6,263.7 352.5,263.7 352.4,263.7 349.1,263.8 349.4,267.5 349.7,271.1 350,274.8 350.4,278.5 350.7,282.2 351,285.9 351.3,286.2 351.4,286.2 351.4,286.3 351.4,286.4 351.4,286.5 350.9,288.3 350.9,288.4 350.8,288.5 350.7,288.5 350.7,288.6 350.6,288.6 347.6,288.6 344.6,288.6 341.6,288.6 341.3,289.1 341.2,289.2 341.1,289.2 340.2,289 339,289.5 338.9,289.5 338.8,289.5 337.3,288.8 336.8,288.8 336.5,290.2 336.5,290.3 336.4,290.3 336.4,290.4 335.6,290.8 335.5,290.8 335.5,290.9 335.4,290.9 335.3,290.8 335.2,290.8 333.8,289 333.7,289 332.4,287.1 331,286.5 331,286.4 329.9,285.7 328.8,285.7 327.7,286.3 327.6,286.3 326.6,286.1 325.9,286.8 325.8,286.8 325.8,286.9 325.7,286.9 325.5,286.9 325.6,286.8 326.2,284.3 326.7,281.7 325.8,278.1 326.4,276 324.7,274.4 324.8,272.8 324.8,273.3 327.8,273.3 330.8,273.3 333.9,273.3 334,273.3 334,273.2 334.1,273.2 334.1,273.1 334.1,273 334.2,269.1 336.4,267.7 336.5,267.6 336.5,267.5 336.6,264.3 336.6,261.1 339,261.1 341.4,261.1 343.8,261.1 343.9,261.1 344,261.1 344,261 344.1,261 344.1,260.9 344.1,260.8 344.2,257.2 347,259.2 349.8,261.2Z"/><path fill="#fcbba1" d="M407.9,403.3 407.9,403.4 407.8,403.4 407.8,403.5 407.7,403.5 405.7,404.9 405.6,404.9 404.4,405.1 404.3,405.1 402.9,404.6 402,404.4 401.9,404.4 401.9,404.3 401.8,404.3 401.8,404.2 401.5,403.2 401.4,403.2 400.4,403.2 400,403.7 399.9,403.6 398.6,401.1 397.2,398.5 396.9,396.4 396.6,394.2 396.3,391.5 396,388.8 394.9,386.2 393.7,383.5 392.6,380.9 391.5,378.2 390.8,376.1 390.1,373.9 390.2,374.3 391.3,373.9 391.5,373.8 394.3,373.8 395.2,374.6 395.2,374.7 395.3,374.7 395.4,374.7 395.5,374.7 395.7,374.5 398.8,374.5 401.8,374.4 404.8,374.4 406.3,375.6 406.4,375.6 406.5,375.7 409.2,375.8 412,376 414.2,375.5 416.3,374.9 418.1,374.4 419.4,374.5 419.9,374.9 419.1,375.3 418.5,375.3 418.4,375.3 418.3,375.3 417,376.2 416.4,375.3 416.3,375.3 416.2,375.3 416.2,375.2 416.1,375.2 414.3,375.7 412.6,376.1 410.9,376.2 410.8,376.2 410.8,376.3 410.7,376.3 410.7,376.4 410.6,376.4 410.6,376.5 410.5,379.5 410.4,382.5 410.3,385.6 408.3,385.6 408.3,385.7 408.2,385.7 408.1,385.7 408.1,385.8 408.1,385.9 408,386 407.9,389.8 407.8,393.6 407.8,393.7 407.8,393.8 407.9,393.8 407.9,393.9 408.3,394.1 408.2,397.2 408,400.2 407.9,403.2Z"/><path fill="#fcbba1" d="M393.8,293.6 393.3,293.6 391.7,294.9 391.6,295 391.5,295 391.4,295 389.7,294.2 388.5,294.1 388,294.4 387.9,294.4 387.8,294.5 386.6,294.4 385.3,295.4 385.3,295.5 385.2,295.5 384,295.6 383.9,295.5 381.2,294.3 380.2,294.8 380.1,294.8 378.9,294.8 378.8,294.8 378.8,294.7 378.7,294.7 377.9,293.8 375.7,292.8 373.4,293.1 373,293.6 372.7,295 372.6,295.1 372,296.1 371.9,298.3 371.9,298.2 371.8,298.2 371.8,298.1 371.8,298 370,296.5 369.9,296.5 369.8,296.5 369,296.5 368.9,296.5 368.9,296.6 368.8,296.6 368.5,296.9 368.6,295.8 368.6,295.7 368.6,295.6 368.5,295.6 368.5,295.5 368.4,295.5 365.9,294.9 365.8,293.9 365.8,293.8 365.8,293.7 364.5,292.1 364.3,291 364.4,290 365.7,290 365.7,289.9 365.8,289.9 366.6,289 369.6,288.8 371.7,288.4 371.8,288.3 371.9,288.2 371.9,288.1 372.1,286.6 373.3,284.9 373.3,284.8 373.3,284.7 373.3,281.8 373.3,278.9 376.3,277.8 376.4,277.8 379.6,275.2 382.8,272.6 385.4,271 387.9,269.4 390.4,267.7 392.1,268.3 393.8,268.8 395.1,270.2 395.2,270.3 395.3,270.3 395.4,270.3 395.4,270.2 397,269.3 396.6,269.5 397.2,273.1 397.2,273.2 397.3,273.2 397.3,273.3 398.1,273.9 398.1,274.6 398.2,274.7 398.2,274.8 399,275.5 398.7,276.4 398.7,276.5 398.6,276.5 398.3,279.2 397.9,281.8 397.9,281.9 397.8,285.1 395.1,287.5 395,287.6 395,287.7 394,291.1 394,291.2 394,291.3 394.1,291.3 394.1,291.4 395,292.3 395,293.9 395,294 395.1,294.1Z"/><path fill="#fcbba1" d="M406.8,218.7 406.9,218.6 408.1,218.2 408.2,218.2 408.6,218.1 409.3,217.9 409.4,217.9 410.2,217.9 410.2,218 410.1,218 410.1,218.1 410.1,218.2 410.1,218.3 410.2,218.3 410.2,218.4 410.3,218.5 411.3,219.2 411.5,220.5 411.4,220.5 411.3,220.5 411.3,220.6 411.2,220.6 411,221 410,220.9 409.9,220.9 409.8,220.9 409.1,221.5 407.9,221.7 407.1,221.2 406.8,220.3 407,219.5 407,219.4 407,219.3 406.8,218.7Z"/><path fill="#fcbba1" d="M383.1,174.1 381.9,176.2 379.8,177.6 378.4,178.4 378.3,178.4 378.2,178.4 376.6,178.7 373.8,177.2 373.7,176.4 373,175.3 372.5,173.4 372.4,171.2 372.5,168.6 374.3,167.9 375.7,167.2 377.1,166.5 377.6,166.3 379.3,165.3 381.8,164.6 383,162.5 385.1,160.9 385.8,159.3 388,156.8 389.5,154.6 391.1,153.6 392.6,152.6 393.8,152.1 395,151.5 396.9,151 398.9,150.4 400.6,149.9 402.3,149.4 402.7,148.9 404.1,148.6 405.6,148.4 407.1,148.4 408.7,148.5 410.2,148.7 411.8,149 413.3,149.6 414.7,150.1 414.8,151.4 415,151.4 415,151.5 415.1,152 415.1,152.1 415.1,152.2 415,152.2 413.9,152.6 412.7,153 411.4,153.2 411.3,153.2 411.2,153.1 411.1,153 411.1,152.9 411.1,152.8 411.4,151.5 409.3,150.8 407,151.5 406.6,153 406.6,153.1 405.2,154.1 405.1,154.1 405,154.1 403.1,153.6 401,153.7 400.9,153.7 400.9,153.6 398.9,152.5 398.1,153.1 398,153.1 397.1,153.1 397.1,154.4 397.1,154.5 397.1,154.6 397,154.6 395.4,154.5 393.8,154.3 393.6,155.4 393.6,155.5 393.5,155.5 391.9,155.5 391.1,157 389.7,159.5 389.7,159.6 387.5,162.6 388,163.1 388,163.2 388.1,163.2 388.1,163.3 388.1,163.4 388.1,163.5 387.5,164.5 387.4,164.5 387.4,164.6 385.7,164.5 384.9,166.5 385.2,169.4 386.4,170.5 386.5,170.5 386.5,170.6 386.5,170.7 386.5,170.8 386.2,173.6 386.2,173.7 386.1,173.7 386.1,173.8 384.8,175.4 384.2,176.3 384.2,176.4 384.1,176.1 383.7,175.9ZM398.1,133.9 399.6,135.7 397.4,135.5 395.2,135.3 394.4,133.9 396.2,133.9ZM383.6,133.9 381.6,133 379.7,132.1 378.9,131.2 380.4,131.1 381.9,131 383.5,130.9 385,130.7 386.5,130.5 387.9,131 389.4,131.5 390.9,131.9 392.5,132.4 394.1,132.8 395,133.4 393.3,134.3 391.6,135.3 390.3,136 389,136.7 388.7,137.2 386.3,136.1 383.9,135.1ZM391.8,129.7 393.7,129.8 395.6,129.8 397.5,129.8 399.1,130 400.7,130.2 402.3,130.4 400.7,131 399.1,131.5 397.5,132.1 396,131.9 394.5,131.8 393,131.7 391.2,131.4 389.4,131.2 389.1,130.4 390.4,130.1Z"/><path fill="#fcbba1" d="M525.4,231.4 525.5,231.4 525.6,231.4 527.5,232.6 527.6,232.6 527.6,232.7 527.7,232.7 527.7,232.8 528.8,234.6 530.6,235.1 532.5,235.7 532.6,235.7 532.7,235.8 532.7,235.9 532.8,235.9 532.8,236 532.8,236.1 532.8,236.2 531.2,238.4 531.1,238.5 528.8,238.9 528.7,238.9 525.3,238.2 524.7,239.1 525.9,241.2 527,242.9 529,244.1 529.1,244.1 529.1,244.2 529.2,244.2 529.2,244.3 529.2,244.4 529.2,244.5 529.2,244.6 527.7,246.1 528.1,247.8 528.1,247.9 528.1,248 526.5,250.6 525.6,253.2 525.6,253.3 523.8,256 523.7,256 523.7,256.1 523.6,256.1 521.1,255.9 519.3,258.3 520.6,259.2 520.7,259.3 520.7,259.4 520.8,259.4 520.8,259.5 521.3,261.4 522.6,262.6 522.7,262.6 522.7,262.7 522.7,262.8 523.5,265 523.5,265.1 523.5,265.2 523.5,265.3 523.4,265.3 523.4,265.4 523.3,265.4 520.9,265.4 518.4,265.4 517.3,267 517.1,266.8 515.4,266.3 513.9,263.9 512.4,262.2 510.5,262.6 508.5,262.9 506,262.7 503.3,263 501.7,262.9 502,262.9 502.3,260.4 505.2,259.1 505.3,259 505.3,258.9 505.3,258.8 505.3,258.7 505,257.5 504.9,257.5 504.9,257.4 504.8,257.4 504.8,257.3 504.7,257.3 503.8,257 503.5,254.9 503.4,254.8 503.4,254.7 503.3,254.6 501,253.5 499.9,252 499.9,251.9 499.4,251.4 502.3,252.4 502.4,252.4 504.6,252 505.9,252.4 506,252.4 506,252.3 506.1,252.3 506.4,251.8 507.9,252 508,252 510.7,250.9 510.8,250.8 510.8,250.7 510.8,250.6 510.5,248.5 511.3,247.2 512.9,247.2 513,247.2 513,247.1 513.1,247.1 513.1,247 513.1,246.5 514.6,246.2 515.4,246.4 515.5,246.4 515.6,246.4 515.6,246.3 516.3,245.6 516.3,245.5 516.4,245.5 516.4,245.4 516.4,245.3 515.9,243.9 516.5,242.4 517.6,241.8 517.7,241.8 517.7,241.7 517.7,241.6 517.7,241.5 517.7,241.4 516.8,240.1 518.4,240.2 518.5,240.2 518.5,240.1 518.6,240.1 519,239.1 519,239 519,238.9 518.7,238.1 519.4,237.1 519.4,237 519.5,237 519.5,236.9 519.5,236.8 519.4,236.8 518.9,235.5 518.9,235.4 518.8,235.4 518.2,234.5 519,233.6 521.1,233.1 523.5,232.7 523.6,232.7 524.5,232.3 524.6,232.3 524.6,232.2 525,231.5Z"/><path fill="#fcbba1" d="M424.6,211.5 422.9,213.4 422.9,214.5 422.9,214.8 421.6,214.6 420,213.7 417.7,214.3 416.8,214.9 416.7,215 413.6,214.8 412,214.4 411.2,214.6 411.1,214.6 411,214.6 411,214.5 410.3,213.5 409.8,213 409.8,212.9 409.8,212.8 409.7,212.8 409.7,212.7 409.8,212.7 409.8,212.6 409.8,212.5 410,212.4 409.5,212.9 409.4,212.9 409.3,212.9 409.2,212.9 407.9,212.1 407.8,212.1 407.8,212 407.8,211.9 407.5,211 406.3,210.5 406.3,210.4 406.2,210.4 406.2,210.3 405.9,209.6 404.8,208.7 404.9,208.7 405,208.7 406.6,208.2 406.7,208.1 407.8,206.4 407.8,206.3 408.5,204.7 409.6,204.2 410.4,203.7 411.6,203.9 412.9,203.9 413.9,204.5 413.9,204.6 414,204.6 414.1,204.5 414.7,204.2 416.1,203.9 416.2,203.9 416.2,203.8 416.6,203.3 417.3,203.3 417.9,203.6 418.6,204.2 419.3,205.3 419.4,205.3 420.7,206.8 420.9,207.7 420.8,208.8 420.8,208.9 420.8,209 421.4,210.1 421.4,210.2 421.5,210.2 421.5,210.3 422.5,210.8 422.6,210.8 422.7,210.8 423.5,210.4 424.4,210.8 424.5,210.8 424.6,210.8 424.7,210.9Z"/><path fill="#fcbba1" d="M403,210.7 402.5,210.2 402.5,210.1 402,209.3 402.2,209.2 403.7,208.6 404.9,208.7 404.8,208.7 405.9,209.6 406.2,210.3 406.2,210.4 406.3,210.4 406.3,210.5 407.5,211 407.8,211.9 407.8,212 407.8,212.1 407.9,212.1 409.2,212.9 409.3,212.9 409.4,212.9 409.5,212.9 410,212.4 409.8,212.5 409.8,212.6 409.8,212.7 409.7,212.7 409.7,212.8 409.8,212.8 409.8,212.9 409.8,213 410.1,213.2 409.8,213.6 409.8,213.7 409.7,213.7 409.7,213.8 409.7,213.9 410,214.9 410.1,214.9 410.1,215 411,215.9 410.5,216.4 410.5,216.5 410.4,216.6 410.2,217.4 410.2,217.5 410.2,217.6 410.2,217.7 410.3,217.7 410.3,217.8 410.2,217.9 409.4,217.9 409.3,217.9 409.1,218 409.2,217.4 409.3,217.3 409.2,217.2 409.2,217.1 409.2,217 409.1,217 408.4,216.5 408.3,216.5 408,216.4 407.8,216.1 407.7,216 407.6,216 407.3,215.8 407,215.5 406.9,215.5 406.9,215.4 406.8,215.4 406.7,215.4 406.4,215.6 406.3,215.6 406.3,215.7 406.2,215.7 406.1,216.5 406.1,216.4 406,216.4 405.2,215.9 405.1,215.9 404.5,215.6 404.2,215.3 404.1,215.3 403.6,214.8 404.1,215.2 404.1,215.1 404.2,215.1 404.4,213.8 404.4,213.7 404.3,213.6 404.3,213.5 403.3,212.7 403.7,211.8 403.7,211.7 403.7,211.6 403.7,211.5 403.6,211.5 403.6,211.4 403.5,211.4 403.5,211.3 403.4,211.3 402.7,211.3 402.6,211.3Z"/><path fill="#fcbba1" d="M401.4,199.6 402.1,199.3 402.2,199.3 402.3,199.3 402.3,199.4 403.3,200.1 404.3,199.7 404.4,199.7 405.4,199.9 406.7,199.6 406.8,199.6 406.9,199.6 408.9,200.5 408.9,200.6 409,200.6 409,200.7 409.1,200.7 409.1,200.8 409.1,200.9 409.1,201 409,201 408.6,201.7 408.4,202.4 408.2,202.2 408.1,202.2 408,202.2 407.9,202.2 407.6,202.5 405.4,201.7 405.3,201.7 404.7,201.9 404.6,201.9 404.2,202.5 403.4,202.8 403.3,202.6 403.2,202.6 403.1,202.6 402.2,203 401.4,203.1 401.3,203.1 401.3,203.2 401.2,203.2 401.2,203.3 401.1,203.6 399.7,203.9 398.9,203.6 398,203.1 398,203.2 397.8,202.4 397.9,202.2 398,201.8 398.8,201.9 398.9,201.9 398.9,201.8 399.5,201.6 399.6,201.6 400,201.2 400.1,201.1 400.1,201 400.1,200.6 400.5,200.5 400.6,200.5 400.6,200.4 400.8,200.1 401.3,200.1 401.4,200.1 401.4,200 401.5,200 401.5,199.9 401.5,199.8 401.5,199.7 401.4,199.7 401.4,199.6Z"/><path fill="#fcbba1" d="M641.4,241.2 641,242 640,241.7ZM642.8,232 644.3,234.5 644.6,235.9 644.4,237 641.8,238 639.6,239.1 638.7,237.9 637.9,234.6 636,232.5 636.2,230.8 635.9,230.2 636.1,230.2 636.2,230.2 636.2,230.1 636.5,229 637.9,228.9 638.8,228.1 640.9,230.1Z"/><path fill="#fcbba1" d="M636.4,262.6 637.6,263.4 637.4,266.1 636.9,269.3 636.7,271.5 635,269.7 634.4,268.5 634.1,266.5 634.7,265.4 635.2,263.8Z"/><path fill="#fcbba1" d="M388.9,242.3 388.8,242.3 388.8,242.4 388.7,244.1 388.7,244.2 388.7,244.3 388.6,244.4 387.6,245.1 387,245.9 386.9,246 385.6,246.9 385.8,247.7 385.8,247.8 385.8,247.9 385.8,248 384.6,249.6 384.6,249.4 384,247.1 383.5,244.8 383.5,244.7 383.5,244.6 383.4,244.6 382.1,243.6 382.1,243.1 382.1,243 382,243 382,242.9 380.2,241.4 380,239.7 381.2,238.4 381.3,238.3 381.3,238.2 381.8,236.1 381.8,236 381.8,235.9 381.4,233.6 382.1,232.3 382.1,232.2 382.1,232.1 384.4,231.2 385.6,232.5 387.2,231.9 386.3,233.6 386.3,235.2 387.5,236.7 386.9,238 385.4,240.1 387.4,240.9 388.6,242.1 388.9,242.1 388.9,242.2Z"/><path fill="#fcbba1" d="M352.3,198 353.3,197.1 354.3,195.9 355.1,195.5 357.2,195.5 357.4,195.1 358,194.5 357,194.9 354.7,194.6 353.1,194.3 352.8,193.8 354.1,193.1 355.2,192.5 355.3,191.7 354,191.5 354.9,190.7 354.2,190.2 355.8,190.1 357.3,189.9 357.4,188.7 357.9,188.1 357,188.3 356.3,187.2 357.4,186.1 354.8,186.8 353.9,186.9 353.4,186 354.4,184.9 354,184.4 354.1,183.7 353.1,183.9 352.2,185.3 352.9,182.5 351.5,181.7 351.5,181.1 350.8,180.1 352.5,180.4 352.4,179 353.2,178 354,177.1 355.5,177.1 357,177 357.7,177.1 357.5,177.6 356.4,178.4 356.2,179 355.4,179.9 357.1,179.3 359.5,179.4 360,179.9 359.4,180.7 358.4,182.2 358.4,182.9 357.2,183.6 359.2,183.7 359.5,184.1 360.6,186 361.1,186.9 362.1,187.2 363.1,188.2 363.5,189.5 364,190.6 363.6,191.5 364.3,191.1 365.9,191.1 366.7,192.3 365.6,194 364.8,194.9 366.1,195.1 366,195.7 365.2,196.2 363.8,196.7 361.7,196.7 360.7,197 358.4,197.2 356.5,197 356,198 355,197.7 353.2,198.6 351.9,198.4ZM352.6,186.8 352.7,187.5 351.6,188.2 351.2,188.2 350.4,188.4 349.1,188.2 348.6,188.2 347.5,187.3 348,186.7 348.7,186.6 349.3,185.9 349.9,185.2 351.5,185.5Z"/><path fill="#fcbba1" d="M235.4,418.5 235.4,418.4 235.3,418.4 235.3,418.3 235.3,418.2 235.2,417.5 235.1,415.8 235.1,415.7 235.1,415.6 235.4,415.1 234.9,412.6 234.9,412.5 235.1,409.9 235.3,407.8 235.3,407.7 235.3,407.6 235.4,407.6 235.4,407.5 235.5,407.5 236.9,407.3 237,407.3 237.1,407.3 239.5,409.3 240.2,409.2 240.3,409.2 240.4,409.2 242.9,410.9 243,410.9 244.9,412.4 245,412.4 246.5,414.2 246.6,414.2 246.6,414.3 246.6,414.4 246.6,414.5 246.6,414.6 245.9,415.7 246.6,416.8 246.5,417.1 245.2,419.4 243.6,420.3 240.8,420.1 238.9,419.5 237,419 235.6,417.7 235.9,418.8 235.5,418.5Z"/><path fill="#fc9272" d="M627.8,316.5 628.9,315.7 629.6,314.8 629.6,315.8 629.6,317.5 628.4,317.4 628,318.3 626.9,317Z"/><path fill="#fc9272" d="M430.9,340.9 430.9,340.8 430.8,340.8 430.8,340.7 430.7,340.6 430.6,337.5 430.1,336.4 430.1,336.5 430.2,336.5 430.3,336.5 431.7,336.7 431.7,336.8 431.8,336.7 431.9,336.7 431.9,336.6 432,336.6 432.6,335.3 433.6,335.4 433.7,335.4 433.8,335.4 434,335.3 434.1,336 434.5,336.5 434.5,336.6 434.6,336.7 434.6,337.6 434.6,337.7 434.5,337.7 434.5,337.8 433.9,338.4 433,339.7 432.2,340.7 432.1,340.7 432,340.7 432,340.8 431,340.9 430.9,340.9Z"/><path fill="#fc9272" d="M198.1,299.2 197.5,299.9 197.5,300 196.6,300.7 195.9,301.6 195.6,303.4 195.5,303.4 195.5,303.5 195,304.6 195.8,304.7 195.9,304.7 195.9,304.8 196,304.8 196,304.9 196.2,306.1 196.7,306.6 196.7,306.7 196.9,307.8 196.9,307.9 196.9,308 196.6,308.9 196.6,309.2 197,309.3 197.1,309.3 197.1,309.4 197.6,310.2 200.4,309.9 200.5,309.9 201.8,310.3 201.9,310.3 201.9,310.4 202,310.4 203.4,312.5 204.1,312.3 204.2,312.2 205.8,312.4 207.1,312.1 207.2,312.1 207.3,312.1 208.1,312.6 208.2,312.6 208.2,312.7 208.3,312.7 208.3,312.8 208.3,312.9 207.8,314.4 207.3,315.3 207.1,317 207.4,318.6 208,319.3 208.1,319.4 208.1,319.5 208.2,320.1 208.2,320.2 208.1,320.3 207.1,321.4 207.7,321.7 207.7,321.8 208.4,322.7 208.4,322.8 209.1,325.4 209.1,325.5 209.1,325.6 209,325.6 209,325.7 209,325.8 208.9,325.8 208.5,326.1 208.4,326.1 208.4,326.2 208.3,326.2 208.3,326.1 208.2,326.1 208.1,326.1 208.1,326 208.1,325.9 207.7,324.5 207.3,323.9 206.7,324.6 206.6,324.7 206.5,324.7 204.4,324.7 202.3,324.6 202.3,325.7 203.4,325.9 203.5,325.9 203.5,326 203.6,326 203.6,326.1 203.6,326.2 203.6,327.3 203.5,327.3 203.5,327.4 203.5,327.5 203.4,327.5 203.3,327.5 203.2,327.5 202.8,327.3 201.8,327.6 201.8,329.1 202.7,330 202.8,330.1 202.8,330.2 203.2,331.6 203.2,331.7 203.2,332.9 202.7,336.5 202.3,340.1 202.2,340.1 202.2,340.2 202.2,340.3 202.1,340.3 202.1,340.4 202,340.4 201.9,340.4 201.9,340.3 201.8,340.3 200.7,339 200.1,338.9 200,338.9 200,338.8 199.9,338.8 199.9,338.7 199.8,338.7 199.8,338.6 199.8,338.5 199.8,338.4 199.9,338.4 201.1,336 199.7,335 198.4,335.2 198.3,335.2 198.2,335.2 197.5,334.8 196.4,335.4 196.3,335.5 196.2,335.5 194.5,335.2 194.5,335.1 194.4,335.1 194.3,335.1 194.3,335 192.9,332.3 191.9,331.7 191.9,331.6 191.8,331.6 191.1,330.4 189.7,329.3 189.2,329.5 189.1,329.5 189,329.5 188,328.9 188,328.8 187,328.1 186.5,328.4 186.4,328.4 186.3,328.4 184.4,328.1 184.3,328.1 184.3,328 184.2,328 184.2,327.9 183.7,327 183.4,327 183.3,327 181,325.5 180.7,325.4 181.3,325.1 181.3,324.1 182.2,322.3 183.4,322 184.6,318.7 184.5,316.6 184.4,314.4 184.8,312.5 184.2,310.9 183.8,309.9 185.2,306.1 186.2,307.6 187.4,305.6 189.3,304.1 189.6,301.6 191.3,299.9 192.8,299.4 195.9,298.6 197.6,296.9 198.9,296.2 199.5,297.8 198,298.5 198.3,299.2Z"/><path fill="#fc9272" d="M651.4,351.3 653.9,351 656.5,350.6 655.2,352.2 653.4,352.9 651.6,353.7 651.2,353.7 651,351.7Z"/><path fill="#fc9272" d="M409.2,177.7 407.1,176.4 407,175.6 409.2,175.1 411.2,175.1 413.3,175.1 415.3,175.1 415.5,175 415.7,175.4 415.8,175.4 415.8,175.5 415.8,175.6 415.8,175.7 415.7,175.7 414.8,177 415.7,179.1 415.7,179.2 415.7,179.3 415.7,179.4 415.3,179.9 414.9,179.7 414.8,179.7 414.8,179.6 413.3,179.6 411.5,178.7 410.6,178.4 410.5,178.4 409.3,178.8 409.2,178.8 409.2,178.7 409.1,178.7 409.1,179Z"/><path fill="#fc9272" d="M420.5,236.5 417.8,237.4 414.7,236.7 414.4,236.5 415.9,235.7 418.2,236.1ZM424.1,234.9 423.6,234.4 424.5,233.5ZM416.2,229.4 414.8,228.4 413,227.1 414.7,227.6ZM406,224.7 406.2,224.8 406.9,223.8 407,223 407,222.9 407,222.8 407.1,222.8 407.6,222.5 407.6,222 407.6,221.9 407.7,221.8 407.7,221.7 407.8,221.7 409.1,221.5 409.8,220.9 409.9,220.9 410,220.9 411,221 411.2,220.6 411.3,220.6 411.3,220.5 411.4,220.5 411.5,220.5 411.6,220.8 411.6,220.9 411.7,220.9 411.7,221 411.8,221 411.9,221 413.4,221.1 413.5,221.1 415,220.4 416.5,221.3 416.6,221.3 416.7,221.3 418.4,221.1 418.4,221 418.5,221 419.1,220 419.4,219.8 419.6,219.9 419.7,220 419.7,220.1 419.7,220.2 419.7,220.3 419.3,221.9 419.2,221.9 419.2,222 418.8,222.3 418.8,222.4 418.6,222.3 418.2,222 415.9,222 415,221.8 414.1,222.8 415.2,223.8 414,224.3 413.1,223.6 412,222.6 411.4,223.5 412,224.7 413.2,226 412.3,225.9 411.7,227.1 412.6,227.2 413.9,228.2 414.9,229 415.1,230.3 414.1,229.6 412.8,229.6 413.7,230.5 413.2,231.2 412.4,230.6 412.7,231.6 413.2,232.9 413.5,233.5 412.1,232.7 412,233.6 411,232 410.6,232.8 410.2,232.5 410,231.4 409.2,230.4 408.8,229.6 409.2,228.9 408.6,228.5 407.7,226.9 406.6,225.5 406,225 405.9,224.7 406,224.7ZM418.7,226.3 419.9,225.9 419.8,226.8Z"/><path fill="#fc9272" d="M409.2,178.7 409.2,178.8 409.3,178.8 410.5,178.4 410.6,178.4 411.5,178.7 413.3,179.6 414.8,179.6 414.8,179.7 414.9,179.7 415.9,180.2 415.9,180.3 416,180.3 416,180.4 416.1,180.4 416.5,181.6 417.3,183 417.3,183.1 417.4,183.1 417.4,183.2 417.4,183.3 417.3,183.3 417.3,183.4 415.4,184.4 414.5,184.7 414.4,184.4 414.3,184.4 414.3,184.3 414.2,184.2 412.2,183 412.1,183 411.1,182.9 410.9,182.5 410.9,182.4 410.8,182.4 410.7,182.3 410.6,182.3 408.8,182.6 407.2,182.5 405.6,182.4 405.5,182.4 403.6,183.1 403.5,183.1 403.3,182.3 404,180.1 405.9,179.3 408.1,181.1 409,181 409.1,179 409.1,178.7 409.2,178.7Z"/><path fill="#fc9272" d="M403.8,184.3 403.5,183.4 403.5,183.1 403.6,183.1 405.5,182.4 405.6,182.4 407.2,182.5 408.8,182.6 410.6,182.3 410.7,182.3 410.8,182.4 410.9,182.4 410.9,182.5 411.1,182.9 412.1,183 412.2,183 414.2,184.2 414.3,184.3 414.3,184.4 414.4,184.4 414.7,185.5 414.8,185.5 414.8,185.6 414.8,185.7 414.7,185.8 414.7,185.9 413.3,186.6 413.1,187.9 413.1,188 413,188 413,188.1 411,189 410.9,189 409.3,189 409.2,188.7 409.2,188.6 409.2,188.5 408.6,187.8 408.6,187.7 408.5,187.7 408.4,187.6 407.4,187.4 407.5,187.4 407.4,187.1 407.5,186.5 407.5,186.4 407.5,186.3 407.5,186.2 407.4,186.2 407.4,186.1 407.3,186.1 406.4,185.7 404.3,185.2 404,185 403.9,185Z"/><path fill="#fc9272" d="M359.6,237.8 359.6,237.9 359.6,238 359.8,240.6 360.9,243.7 360.9,243.8 360.8,244.9 360.8,245 360.7,245 360.7,245.1 360.6,245.1 358.8,245.3 357,245.4 355.6,246.3 355.5,248 355.5,248.1 355.4,248.1 355.4,248.2 352.4,250.6 352.3,250.6 348.9,251.4 346.6,252.7 344.3,253.9 344.2,256.4 344.2,256.5 344.2,256.6 344.1,256.6 344.1,256.7 344,256.7 343.9,256.7 340.6,256.7 337.3,256.7 333.9,256.7 334.5,255.7 336.3,255 338.1,254.2 340.6,251.9 342,249.3 341.4,248.8 341.7,246.4 342.9,244.3 344.8,242.6 346.7,240.9 348.3,239.9 349.9,236.7 350.5,235.2 351.8,234.9 353.7,236.7 356.8,236.5 358.5,237 358.8,236.9Z"/><path fill="#fc9272" d="M11.7,277.8 9.4,279.3 9,277.1 9.7,275.8 11.2,276.9ZM9.2,273.9 9.7,274.7 8.2,274.1ZM5.9,272 6.2,273.1 5.1,272.4ZM2.7,270.6 2.9,271.5 2,271.1ZM44.1,187 44.1,187.5 42.2,188.2 41.8,187.9ZM75.5,180.1 72.7,181.1 70.1,181.6 71,179.9 73.2,179.3 75.3,178.7 76.7,178.9ZM55,173.4 57,172.9 58.4,173.1 56.4,174.3ZM60.8,165.1 61.4,166.3 59.8,166.1 58.3,165.9 56.7,165.8 58.7,165.4ZM109.6,247 110.2,245.6 109.6,247ZM171.1,200.7 171.4,200.1 171.4,200 171.5,200 171.5,199.9 171.6,199.9 171.6,199.8 171.7,199.8 171.8,199.8 171.9,199.8 172.4,199.9 172.5,199.9 172.5,200 172.5,200.1 172.3,201.2 173.9,201.7 175.8,202.1 175.8,202.2 177.4,202.9 179.1,202.6 179.2,202.6 181.3,203.3 184.1,202.5 184.2,202.5 186,203.7 187.9,204.9 189.8,206.1 189.8,206.2 189.8,206.3 189.8,206.8 190,207 190.8,207.1 190.9,207.1 190.9,207.2 191,208.1 191.4,208.1 191.5,208.1 191.6,208.2 191.7,208.5 191.7,208.6 191.7,208.7 191.7,208.8 191.6,208.9 191.5,209 192.9,210.1 193,210.1 193,210.2 193,210.3 192.5,212.6 192,214.9 192,215 191.9,215.1 190.7,216.6 190.7,216.7 189.2,218.1 188.5,218.8 188.5,219.2 188.9,219.5 192.3,218.2 194.6,217.8 197.6,216.6 197.7,215.9 197.6,215.4 197.6,215.3 197.6,215.2 197.6,215.1 197.7,215.1 197.7,215 197.8,215 197.9,214.9 199,214.5 199.1,214.5 201,214.5 202.9,214.5 203.8,213.6 203.9,213.6 203.9,213.5 207.1,211.5 207.2,211.5 208.3,211 208.4,211 210.6,211 212.9,210.9 215.2,210.9 215.5,210.5 215.5,210.4 215.6,210.4 215.6,210.3 215.7,210.3 216.4,210.2 217.3,209.8 218.3,208.8 219.6,206.8 219.7,206.8 219.7,206.7 222,204.8 222,204.7 222.1,204.7 222.2,204.7 222.3,204.7 222.3,204.8 222.7,205.3 224.1,205 224.1,204.9 224.2,204.9 224.2,205 224.9,205.7 224.9,205.8 224.9,205.9 224.9,206 223.8,209.3 224.6,210.7 224.6,210.8 224.7,211.3 224.8,211.5 224.4,211.7 221.5,213.1 219.9,213.3 216.7,214.8 215.2,216.3 215.1,217.3 214,218.1 214.4,219.1 215.7,219.7 214,220.2 212.6,220.4 211.1,221.5 209.2,222.1 207.2,222.7 206.1,223 204.3,225.9 202.9,227 202.1,225.5 202.4,227.3 202.1,228.6 201.2,229.7 199.3,231.8 200.1,229.4 200.5,226 199.5,227.1 199,229.7 198.5,232 199.1,232.2 199,234.4 199,236.6 196.3,238.3 192.7,240.3 190.5,240.8 187.7,243.1 185,245.1 184,247.2 182.9,249.4 183.3,251.9 183.8,254.4 183.9,256.7 184.1,259 183.4,261.4 182.6,263 181,263.1 179.9,260.5 179.6,259.3 178.5,256.2 178.8,255 178.6,252.7 177,250.1 173.8,251.2 173.3,249.9 171.7,249.7 170.1,249.4 168.2,249.7 166.3,249.3 164.9,249.8 165,251.4 164.9,252.9 164.3,253.1 163.2,252.4 160.9,252.5 160.4,251.6 158.3,251.5 156.6,251.3 154.9,251.1 152.5,252.2 151.1,253.2 148.4,254.6 146.1,256.6 145.4,258.7 145.3,260.9 145.3,260.6 144.5,260.9 143.1,260.3 141.6,259.6 141.3,258.5 141.2,256.7 141.2,256.6 141.2,256.5 140.2,255.1 139.2,251.8 139.2,251.7 139.1,251.7 137.8,250.6 137.7,250.6 135.9,250.6 135.8,250.6 135.8,250.7 135.7,250.7 135.6,250.8 133.9,252.6 131.5,251.2 131.1,248.5 131.1,248.4 129.8,246.9 128.6,245.4 128.5,245.4 126.6,245.4 124.8,245.4 124.7,245.4 124.6,245.4 124.5,245.5 124.5,245.6 124.4,245.6 124.4,245.7 124.1,246.5 121.1,246.5 118.1,246.5 115.8,245.5 113.5,244.6 111.2,243.6 111.4,243.3 111.4,243.2 111.5,243.2 111.5,243.1 111.5,243 111.4,243 111.4,242.9 111.3,242.9 108.5,243.1 105.8,243.4 105.7,243.4 105.7,243.5 105.7,243.7 105.6,243.3 105.9,242.2 104.1,240.5 103.5,239.9 102.8,239.5 101.9,238.8 100.3,238.7 100,238.3 100.4,236.3 99.4,234 99.5,233.1 99.7,232.2 99.6,230.1 98.8,229.4 98.5,226.9 98.7,225 99,223 100,222.1 101.2,219.7 102.1,216.8 103.4,215.5 105.9,212.2 107.1,210.1 108.3,208.1 109.2,206.3 110.4,202.6 112.6,203.3 114,203.2 113.9,204 115.5,201.7 115.4,201 115.3,200.9 115.5,200.8 115.6,200.7 118.5,200.7 121.4,200.7 124.4,200.7 127.3,200.7 130.2,200.7 133.1,200.7 136,200.7 139,200.7 141.9,200.7 144.8,200.7 147.7,200.7 150.6,200.7 153.6,200.7 156.5,200.7 159.4,200.7 162.3,200.7 165.2,200.7 168.2,200.7ZM113,205.4 113.9,204.6 113.9,204ZM226.1,213.7 226.1,213.8 226.1,213.9 226,213.9 226,214 225.9,214 225.9,214.1 225.4,214.5 225.3,214.4 225.9,213.4 226,213.6 226.1,213.6 226.1,213.7ZM106.7,185.5 108.4,182.8 109.6,183.5 108.2,186ZM105.7,182.8 106.2,180.8 106.9,178.9 109,178.7 108,181.1ZM107.1,173.6 107.3,174.6 107.3,174.7 107.4,176.1 110.3,174.9 110.4,174.9 113,174.1 113,174 113.1,174 113.1,174.1 113.2,174.1 113.1,174.1 112.9,175.4 113.2,176.3 113.9,177.4 113.9,177.5 113.3,179.7 112.9,181.9 113.8,182.7 114.7,183.5 114.7,183.6 114.7,183.7 114.6,183.7 113.3,185.3 113.3,185.4 113.2,185.4 113.2,185.5 113.1,185.5 111.1,186.7 110.8,186.6 110,185.1 111,182.4 111,180.1 110.5,178.4 109.3,177.7 106.9,178.2 106,177.1 105.2,176 104.4,174.9 103.4,174.4 102.4,173.8 100,173.8 97.6,173.8 96.6,173.2 95.7,172.5 95.3,171.7 93.9,171.7 92.5,171.7 87.8,173.6 84.4,174.7 81.1,175.8 82.7,174.7 85.6,172.5 89.8,171 87.2,171.3 83,173.1 78.8,175.3 76.9,175.5 77.4,176.6 74.2,177.9 70.5,179.5 66.9,181.1 63.9,181.9 61,182.8 57.8,184 54.5,185.1 52.2,185.3 49.9,185.5 47.6,186.4 45.8,186.7 44.1,187 45.9,186 49.1,185.5 52.6,184.5 56,183.5 59.1,182.4 62.2,181.2 68,178.2 70.2,176.8 68.9,176.7 67.7,176.6 65.7,177.7 65.1,177 64.5,176.2 62.4,176.7 60.3,177.1 62.4,176 63.8,174.4 63.6,173.8 60.5,174.3 60.1,173.4 59.7,172.5 61.2,170.3 62.1,169.5 66.3,167.8 68,166.7 70.4,166.3 72.3,165.9 74.3,165.6 77.7,164.7 79.3,163.1 80.2,162.2 77.2,163 75.5,163.6 75.8,163.1 73.6,163.2 71.4,163.2 70.1,162.9 71.1,161.5 70.1,160.7 72.9,159.9 75.6,159.2 78.1,158.9 80.6,158.5 80.9,159.6 82.4,159.5 83.9,159.3 83.6,157.7 82.3,157.2 82.8,155.9 81.9,155.2 81,154.5 83.7,153.3 86.4,152.7 89.1,152 91.8,151.4 95.5,150.1 97.6,149.8 99.7,149.4 102.4,148.9 105.1,148.4 107.8,147.8 108.5,148.4 109.2,149 111.1,149.1 113,149.1 113.7,149.5 114.4,149.9 116,150 117.6,150.2 119.5,150.3 121.4,150.4 123.3,150.5 125.2,150.6 126.7,151.1 128.2,151.6 128.1,151.7 128.2,151.8 124.6,154.7 121.1,157.6 117.7,160.6 114.3,163.6 110.9,166.6 107.6,169.7 104.4,172.8 105.9,172.9 106,172.9 107.1,173.6Z"/><path fill="#fb6a4a" d="M460.6,227.4 460.5,227.4 459.2,226.2 459.2,226.1 459.1,226.1 459.1,226 458.8,225.4 458.9,225.3 459.2,225.2 459.9,225.8 459.9,225.9 460,225.9 460.1,225.9 460.8,225.9 460.8,226 460.8,226.1 460.9,226.2 462,227.7 462.1,227.7 462.1,227.8 462.2,227.8 460.7,227.5 460.6,227.4ZM461.9,219.2 463.6,220.7 464.3,220.9 464.5,220.4 464.5,220.3 465.5,219.3 465.7,219.4 467.2,220.8 468.7,222.6 470.4,223.2 469.3,223.3 468.3,224.2 468.8,225.9 468,227.5 468.2,228.3 468.4,228.6 468.3,228.6 467.9,229 467.8,229 467.7,229 467.6,229 467.6,228.9 466,227.6 466,227.5 465.9,227.5 465.9,227.4 465.9,227.3 465.9,227.2 466.3,226.1 465.8,225.6 465.3,225.8 463.1,227.7 463.2,227.7 463.2,227.6 463.2,227.5 463.2,227.4 462.8,225.6 462.8,225.5 462.7,225.5 462.7,225.4 462.6,225.3 461.6,224.9 460.9,224.4 461.1,223.8 461.2,223.8 461.2,223.7 461.2,223.6 461.1,223.5 461.1,223.4 461,223.4 460,222.7 460.2,222.3 460.2,222.2 460.2,222.1 460.2,222 460.1,222 460.1,221.9 460,221.9 460,221.8 459.1,221.4 458.8,221 459,220.9 460.6,221.6 461.8,221.8 461.9,221.8 461.9,221.7 462,221.7 462.2,221.4 462.3,221.3 462.3,221.2 462.3,221.1 462.2,221.1 462.2,221 462.2,220.9 461.1,219.8 461.3,219.7 461.3,219.6 461.4,219.6 461.4,219.5 461.4,219.4 461.4,219.3 461.3,219.3 461.3,219.2 461.2,219.1 461.1,219.1 461.7,219.1 461.8,219.2Z"/><path fill="#fb6a4a" d="M350.3,301.5 350.3,301.6 350.3,301.5ZM350.5,300.1 350.5,300 351.1,298.9 351,298.2 351,298.1 351.1,298.1 351.1,298 352.9,295.8 353.2,294.1 353.3,294 353.9,293.3 354,293.3 354.1,293.3 354.2,293.3 355.2,293.6 356,293.1 356.2,292.6 356.3,292.5 356.3,292.4 356.4,292.4 358.1,291.3 358.5,290.5 358.6,290.5 358.6,290.4 360.7,289.4 360.8,289.3 362,288.9 362.1,288.9 362.2,288.9 362.2,289 362.3,289 362.8,289.5 364.1,289.4 364.2,289.4 364.2,289.5 364.3,289.5 364.4,289.5 364.4,289.6 364.4,289.7 364.4,289.8 364.3,291 364.5,292.1 365.8,293.7 365.8,293.8 365.8,293.9 365.9,294.9 368.4,295.5 368.5,295.5 368.5,295.6 368.6,295.6 368.6,295.7 368.6,295.8 368.5,296.9 368.1,297.3 368,297.3 368,297.4 367.6,298.1 366.6,298.3 366.5,298.3 366.4,298.4 366.4,298.5 365.9,299.5 365.3,299.7 365.4,299.7 363.4,299.7 362.3,299.5 362.3,299.4 362.2,299.5 361.5,299.9 360.6,299.7 360.5,299.7 358.5,299.8 356.5,299.8 356.4,299.8 356.4,299.9 356.3,299.9 356.3,300 356.3,300.1 356.2,301.6 356.4,303.1 355.3,302.6 355.2,302.6 354.1,302.7 354,302.7 354,302.8 353.3,303.3 352.5,302.9 352.2,302.1 352.1,302.1 352.1,302 352,302 350.7,301.2 350.6,301.2 350.5,301.2 350.6,301.2 350.5,300.2Z"/><path fill="#fb6a4a" d="M449.9,244.6 449.9,244.7 449.9,244.8 449.9,244.9 449.8,244.9 449.4,245.3 449.4,245.4 449.3,245.4 447.4,246 445.5,246.5 447.6,248.8 447.7,248.8 447.7,248.9 447.7,249 447.7,249.1 447.7,249.2 447.6,249.2 447.6,249.3 447,249.7 446.7,250.5 446.7,250.6 446.6,250.6 445,251 444.6,251.8 444.6,251.9 443.7,252.7 443.6,252.7 443.5,252.7 441,252.3 440.9,252.3 440.9,252.2 441.1,251.6 441,251.9 441.1,251.9 441.1,251.8 441.1,251.7 441.5,249.6 441.9,247.5 441.9,247.4 441.7,246.5 441.9,245.8 442,245.8 442,245.7 441.8,244.1 442,243.6 444.3,244.6 444.4,244.6 444.5,244.6 446.5,243.2 448.5,241.8 448.7,241.6Z"/><path fill="#fb6a4a" d="M469.9,252 471.1,254.1 471.3,254.4 471.2,254.4 469.7,254.5 469.6,254.5 469.5,254.5 469.5,254.4 469.4,254.4 469.4,254.3 468.8,253.2 466.9,253 467,253 467.1,252.9 468.4,250.5 469.7,250.7 469.9,250.8 469.3,252ZM470.7,249.5 470.8,249.5 470.9,249.5 471,249.6 471,249.7 471.1,249.7 471.2,250.1 471.2,250.2 470.5,249.6 470.7,249.5Z"/><path fill="#fb6a4a" d="M352.6,263.1 355,265.1 357.5,267 359.9,268.9 362.5,270.8 365,272.7 367.6,274.6 367.6,274.7 367.7,274.7 368.2,275.9 369.5,276.6 370.5,277 370.6,277 370.6,277.1 370.7,277.1 370.7,277.2 370.7,277.3 370.7,278.6 373,278.4 373.1,278.4 373.2,278.4 373.2,278.5 373.3,278.6 373.3,278.7 373.3,281.7 373.3,284.7 373.3,284.8 373.3,284.9 372.1,286.6 371.9,288.1 371.9,288.2 371.8,288.3 371.7,288.4 369.6,288.8 366.6,289 365.8,289.9 365.7,289.9 365.7,290 364.4,290 364.4,289.8 364.4,289.7 364.4,289.6 364.4,289.5 364.3,289.5 364.2,289.5 364.2,289.4 364.1,289.4 362.8,289.5 362.3,289 362.2,289 362.2,288.9 362.1,288.9 362,288.9 360.8,289.3 360.7,289.4 358.6,290.4 358.6,290.5 358.5,290.5 358.1,291.3 356.4,292.4 356.3,292.4 356.3,292.5 356.2,292.6 356,293.1 355.2,293.6 354.2,293.3 354.1,293.3 354,293.3 353.9,293.3 353.3,294 353.2,294.1 352.9,295.8 351.1,298 351.1,298.1 351,298.1 351,298.2 351.1,298.9 350.5,300 350.5,300.1 350.5,300.2 350.6,301.2 350.5,301.2 350.5,301.3 350.4,301.3 350.4,301.4 350.3,301.4 350.3,301.5 350.3,301.6 349.8,301.8 349.5,301.9 349.3,301.2 349.3,301.1 349.2,301.1 349.2,301 349.1,301 349,301 348.9,301 348.3,301.2 348,301.2 347.9,301.2 347.8,301.2 347.8,301.3 347.7,301.3 347.7,301.4 347.4,302 345.8,301.9 345.3,301.6 345.2,301.6 345.2,301.5 345.1,301.5 345.1,301.6 345,301.6 344.9,301.7 344.4,301.2 344.5,300.6 344.5,300.5 344.5,300.4 344.5,300.3 344.2,300 344.1,300 344,300 344,299.9 343.9,300 343.8,300 343.8,299.8 344.3,299.2 344.3,299.1 344.3,299 344.3,298.9 344.3,298.8 344.2,298.8 343.4,297.7 343.1,297.1 343.1,297 343,297 342.5,296.4 342.5,296.3 342.4,296.3 341.9,296.2 341.8,296.2 341.8,296.3 341.2,296.6 340.5,297 340.4,297 339.9,297.5 339.1,297.3 338.5,296.7 338.5,296.6 338.4,296.6 338,296.6 338,296.5 337.9,296.5 337.9,296.6 337.8,296.6 337.3,296.9 337.2,296.9 337.2,296.3 337.3,295.5 337.3,295.4 337.1,294.4 337.1,294.3 337,294.2 336.2,293.5 335.8,292.1 335.7,290.7 336.4,290.4 336.4,290.3 336.5,290.3 336.5,290.2 336.8,288.8 337.3,288.8 338.8,289.5 338.9,289.5 339,289.5 340.2,289 341.1,289.2 341.2,289.2 341.3,289.1 341.6,288.6 344.6,288.6 347.6,288.6 350.6,288.6 350.7,288.6 350.7,288.5 350.8,288.5 350.9,288.4 350.9,288.3 351.4,286.5 351.4,286.4 351.4,286.3 351.4,286.2 351.3,286.2 351,285.9 350.7,282.2 350.4,278.5 350,274.8 349.7,271.1 349.4,267.5 349.1,263.8 352.4,263.7 352.5,263.7 352.6,263.7 352.6,263.6 352.7,263.6 352.7,263.5 352.7,263.4 352.7,263.3 352.7,263.2 352.6,263.2 352.6,263.1Z"/><path fill="#fb6a4a" d="M393.5,188 395.4,187.3 397.2,186.6 398.9,186.5 399.8,187.6 401.7,187.4 401.7,187.1 401.8,187.1 401.8,187.2 403.8,187.4 405.6,187.4 407.4,187.4 408.4,187.6 408.5,187.7 408.6,187.7 408.6,187.8 409.2,188.5 409.2,188.6 409.2,188.7 409.5,189.7 410.1,190.6 410.2,190.7 410.3,191.7 410.3,191.8 410.3,191.9 410.3,192 410.2,192 409.4,192.4 409.9,193.3 410,193.3 410,193.4 410.2,194.4 411.4,196.6 411.5,196.6 411.5,196.7 411.5,196.8 411.4,197.6 411.3,197.6 411.3,197.7 411.2,197.7 410.3,198 408.9,199.9 409.5,200.8 409.5,200.9 409.5,201 409.5,201.1 409.5,201.2 409.4,201.2 409.4,201.3 409.3,201.3 408.9,201.2 409,201 409.1,201 409.1,200.9 409.1,200.8 409.1,200.7 409,200.7 409,200.6 408.9,200.6 408.9,200.5 406.9,199.6 406.8,199.6 406.7,199.6 405.4,199.9 404.4,199.7 404.3,199.7 403.3,200.1 402.3,199.4 402.3,199.3 402.2,199.3 402.1,199.3 401.4,199.6 400.3,198.3 400.2,198.3 400.2,198.2 398.8,198.1 398.6,197.5 398.6,197.4 398.5,197.4 398.5,197.3 398.4,197.3 397,197 396.9,197 396.9,197.1 396.8,197.1 396.8,197.2 396.6,197.6 395.9,197.3 395.9,196.8 395.9,196.7 395.9,196.6 395.9,196.5 395.8,196.5 395.7,196.4 394.3,196.2 393.3,195.5 392.5,194 392.5,193.3 392.6,193.3 392.5,193.2 392.5,193.1 391.2,191.1 391.6,190.6 391.6,190.5 391.6,190.4 391.6,190.3 391.3,188.7 391.3,188.6Z"/><path fill="#ef3b2c" d="M459.1,221.4 460,221.8 460,221.9 460.1,221.9 460.1,222 460.2,222 460.2,222.1 460.2,222.2 460.2,222.3 460,222.7 461,223.4 461.1,223.4 461.1,223.5 461.2,223.6 461.2,223.7 461.2,223.8 461.1,223.8 460.9,224.4 461.6,224.9 462.6,225.3 462.7,225.4 462.7,225.5 462.8,225.5 462.8,225.6 463.2,227.4 463.2,227.5 463.2,227.6 463.2,227.7 463.1,227.7 463,227.7 462.2,227.8 462.1,227.8 462.1,227.7 462,227.7 460.9,226.2 460.8,226.1 460.8,226 460.8,225.9 460.1,225.9 460,225.9 459.9,225.9 459.9,225.8 459.2,225.2 458.9,225.3 459,225.2 459.1,225.2 459.1,225.1 459.1,225 459.1,224.9 459,224.9 459,224.8 459,224.7 458.9,224.7 458,223.9 457.9,223.9 456.4,223.3 456.4,222.3 456.4,222.2 456.3,222.2 456.3,222.1 456,221.6 458.5,221.3 458.6,221.3 458.6,221.2 458.8,221Z"/><path fill="#ef3b2c" d="M392.3,242.7 394.4,243.4 396.5,244 398,246.7 400,247.2 403.1,248.2 405.6,249.5 408,248.2 407.2,245.9 407.5,244.8 409.4,243 411.6,242.7 413,243 414.4,244.6 416.2,244.8 418.8,246 419.1,246 419.1,246.2 419.1,246.3 419.1,246.4 419,246.4 418.4,247.5 418.8,248.5 418.8,248.6 418.8,248.7 418.4,250.2 419.1,252.2 419.1,252.3 419.2,252.3 419.4,255.8 419.6,259.2 419.7,262.7 419.9,266.1 420,269.6 420.2,273 420.3,276.5 420.3,276.6 420.3,276.7 420.2,276.7 420.2,276.8 420.1,276.8 417.7,276.8 417.7,277.6 417.7,277.7 417.7,277.8 417.6,277.8 417.6,277.9 417.5,277.9 417.4,277.9 417.3,277.9 414.3,276.2 411.2,274.5 408.1,272.8 405.1,271.2 402.1,269.6 399.1,267.9 397,269.3 395.4,270.2 395.4,270.3 395.3,270.3 395.2,270.3 395.1,270.2 393.8,268.8 392.1,268.3 390.4,267.7 390.5,267.7 390.5,267.6 390.6,267.6 390.6,267.5 390.6,267.4 390.6,267.3 390.6,267.2 389.6,265.6 389.5,265.6 389.5,265.5 387.7,264.3 387.6,264.3 387.6,264.2 387.5,264.2 387.5,264.3 387.4,264.3 386.6,264.6 385.9,263.5 385.8,262.4 385.8,262.3 385.8,262.2 384.6,260.6 385.3,259.7 385.3,259.6 385.3,259.5 385.3,259.4 385.1,257.8 385.4,256.4 385.4,256.3 385.2,255.2 385.5,253.1 385.5,253 385.4,251.8 385.3,251.7 384.6,249.4 384.6,249.6 385.8,248 385.8,247.9 385.8,247.8 385.8,247.7 385.6,246.9 386.9,246 387,245.9 387.6,245.1 388.6,244.4 388.7,244.3 388.7,244.2 388.7,244.1 388.8,242.4 388.8,242.3 388.9,242.3 388.9,242.2 388.9,242.1 388.6,242.1 390.5,242.4Z"/><path fill="#ef3b2c" d="M488,269.9 487.8,269.6 487.8,269.5 487.7,269.4 487.7,268.3 487.7,268.2 488.3,267.2 488.2,266.2 488.2,266.1 488.2,266 488.3,265.9 488.9,265.6 488.8,265.6 488.8,265.5 488.7,265.5 488.7,265.4 488.7,265.3 488.7,263.6 488.7,263.5 488.7,263.4 488.8,263.4 488.8,263.3 488.9,263.3 489,263.3 489.7,263.3 489.7,263.2 489.7,263.1 489.7,263 489.7,262.9 489.8,262.9 489.8,262.8 489.9,262.8 490,263.1 491.1,265.1 493.3,266.1 495.4,267.1 497.7,269.7 498.4,269.9 497.2,272.7 496,275.4 494.4,275.7 494.3,277.4 494.7,279.1 493.1,280.5 491.5,281.8 489.3,282.8 486.7,284.3 484.5,285.2 484.8,285.1 484.7,285.1 483.9,283.3 482.8,281.1 481.8,279 481.7,278.9 481.7,278.8 481.6,278.8 481.5,278.8 481.4,278.8 484.7,277.5 487.9,276.2 488.4,273.8 488.9,271.3ZM489.4,261.8 489.4,261.7 489,261.1 489.7,259.9 489.7,261.8 489.7,261.9 489.5,261.8Z"/><path fill="#cb181d" d="M581.5,254.4 581.6,254.4 581.7,254.4 581.7,254.5 581.8,254.5 582.8,256 583.9,256.6 584,256.6 584,256.7 584.1,256.8 584.6,258.8 584.6,258.9 585,261 585,261.1 584.9,261.1 584.9,261.2 583.3,263.3 583.5,265.9 585.5,265.6 585.5,265.5 585.6,265.6 585.7,265.6 585.8,265.7 585.8,265.8 586.7,268 588,268.5 588.1,268.5 588.2,268.5 588.2,268.6 588.3,268.7 588.3,268.8 588.3,268.9 588,270.8 589.6,271.6 590.6,272.1 592,271.4 592,271.3 592.1,271.3 592.2,271.3 592.2,271.4 592.3,271.4 592.3,271.5 592.4,271.5 592.4,271.6 592.6,272.7 592.6,272.8 592.6,272.9 592.6,273 590.9,274.6 590.6,275.5 590.6,275.6 590.5,275.7 589.3,276.3 588.2,277.4 588.1,277.4 586.6,277.5 586.1,280.2 586,280.2 586,280.3 585.9,280.4 585.3,280.7 586.5,282.7 588.2,284.5 588.2,284.6 589.4,286.3 589.4,286.4 589.4,286.5 589.4,286.6 588.9,288.9 588.9,289 588.8,289 588.3,289.4 588.8,290.4 590.5,292.4 590.6,292.4 590.6,292.5 590.6,292.6 591,294 591,294.1 591.1,295.3 592.2,297.6 592.2,297.7 592.2,297.8 592.2,297.9 591.2,300.3 590.3,303 590.2,303 590.2,303.1 590.1,303.1 590,303.2 590,302.7 589.9,300 589.6,296.2 588.8,294.2 588,292.2 587,289 586.1,285.6 584.3,283.5 583.2,285.9 581.3,287.6 578.5,286.9 578.2,283.5 577.8,280.1 576.2,278.3 574.1,276.1 572.9,275 573,274.8 573,274.7 573,274.6 572.9,274.6 572.1,273.3 572,272.6 573,273.3 573.1,273.3 573.2,273.3 573.3,273.3 573.3,273.2 573.4,273.2 573.4,273.1 573.4,273 573.2,271.3 574.1,270.8 574.1,270.7 574.2,270.7 574.2,270.6 574.2,270.5 574.2,270.4 573.8,269.5 574.1,268.7 574.2,268.7 574.2,268.6 574.2,268.5 573.9,266.2 575.4,266.7 575.5,266.7 575.6,266.7 575.6,266.6 575.7,266.6 576.3,264.4 576.3,264.3 576.2,263.1 577,261 577,260.9 577,260.8 576.7,259.5 579,257.8 580.6,258.3 580.7,258.3 580.8,258.2 580.9,258.1 580.9,258 580.9,257.9 580.4,256.5 580.9,256.1 581,256.1 581,256 581,255.9 581,255.8 580.6,254.8 580.5,254.7 580.5,254.6 580.4,254.6 580.3,254.6 581.5,254.4ZM571.3,271.9 571.6,272.8 571.3,271.9Z"/><path fill="#cb181d" d="M476.9,263.6 476.8,263.6 476.8,263.5 476.8,263.4 476.7,262.8 477.6,264.1 477.4,262.1 478.2,260.4 479.1,261 479.1,262.6 479.1,263 479,263.1 478.9,263.1 478.9,263.2 478.8,263.2 478.8,263.3 478.8,263.4 479,264.3 479,264.4 479,264.6 479.1,264.7 479,264.7 478.4,264.9 478.3,264.9 478.3,264.8 478.2,264.8 477.5,264.3 477.4,264.3 476.9,263.6Z"/><path fill="#a50f15" d="M382.1,232.1 382.1,232.2 382.1,232.3 381.4,233.6 381.8,235.9 381.8,236 381.8,236.1 381.3,238.2 381.3,238.3 381.2,238.4 380,239.7 380.2,241.4 382,242.9 382,243 382.1,243 382.1,243.1 382.1,243.6 383.4,244.6 383.5,244.6 383.5,244.7 383.5,244.8 384,247.1 384.6,249.4 385.3,251.7 385.4,251.8 385.5,253 385.5,253.1 385.2,255.2 385.4,256.3 385.4,256.4 385.1,257.8 385.3,259.4 385.3,259.5 385.3,259.6 385.3,259.7 384.6,260.6 385.8,262.2 385.8,262.3 385.8,262.4 385.9,263.5 386.6,264.6 387.4,264.3 387.5,264.3 387.5,264.2 387.6,264.2 387.6,264.3 387.7,264.3 389.5,265.5 389.5,265.6 389.6,265.6 390.6,267.2 390.6,267.3 390.6,267.4 390.6,267.5 390.6,267.6 390.5,267.6 390.5,267.7 387.9,269.3 385.4,271 382.8,272.6 379.6,275.2 376.4,277.8 376.3,277.8 373.3,278.9 373.3,278.7 373.3,278.6 373.2,278.5 373.2,278.4 373.1,278.4 373,278.4 370.7,278.6 370.7,277.3 370.7,277.2 370.7,277.1 370.6,277.1 370.6,277 370.5,277 369.5,276.6 368.2,275.9 367.7,274.7 367.6,274.7 367.6,274.6 365,272.7 362.5,270.8 359.9,268.9 357.5,267 355,265.1 352.6,263.1 349.8,261.2 347,259.2 344.2,257.2 344.2,256.4 344.3,253.9 346.6,252.7 348.9,251.4 352.3,250.6 352.4,250.6 355.4,248.2 355.4,248.1 355.5,248.1 355.5,248 355.6,246.3 357,245.4 358.8,245.3 360.6,245.1 360.7,245.1 360.7,245 360.8,245 360.8,244.9 360.9,243.8 360.9,243.7 359.8,240.6 359.6,238 359.6,237.9 359.6,237.8 358.8,236.9 358.5,237 360.3,236.2 362,235.4 363.5,234.6 366.5,233.3 368.2,232.9 369.9,232.5 372.1,232.6 374.3,232.7 376.3,232.3 378.2,232 380.2,232.3 381.9,232.2 382.1,232.1Z"/><path fill="#a50f15" d="M403.9,185 404,185 404.3,185.2 406.4,185.7 407.3,186.1 407.4,186.1 407.4,186.2 407.5,186.2 407.5,186.3 407.5,186.4 407.5,186.5 407.4,187.1 407.5,187.4 407.4,187.4 405.6,187.4 403.8,187.4 401.8,187.2 401.8,187.1 401.7,187.1 401.8,186.9 401.9,186.1 403.9,185.3 403.9,185ZM66.4,157.4 67.2,158.1 68,158.8 68.9,159.6 65,160.7 59.1,163.5 57.3,163.5 55.9,162.8 54.5,162.1 53,161.5 51.6,160.9 53.2,159.1 50.5,160.2 47.3,162.1 51.7,159 56.2,156 60.8,153.1 61.4,153.3 62.3,154 63.2,154.8 64.1,155.6 63.5,157.5 64.9,157.5ZM444.5,152 446.2,152.2 446.7,153.7 444.4,153.1ZM463.4,150.9 462.1,151.1 460.7,151.3 461.6,150ZM70,147.5 71.2,148 72.4,148.5 69.9,148.8 67.3,149.1ZM451.7,143.8 453.5,145.5 456.9,148.3 458.1,149.6 456,149.6 454,149.6 452.7,149.4 451.3,149.2 449.3,148.3 447.2,147.4 447,146.8 448.3,144.9 449.6,143.8ZM452.7,139.1 454.5,138.6 456.2,138.1 457.9,137.7 459.6,137.2 461.3,136.8 462.9,136.4 465.1,136.4 467.3,136.4 465.7,136.8 464.1,137.2 462.4,137.7 460.9,138.2 459.4,138.7 457.8,139.2 456.2,139.7 455.3,140.6 454.3,141.5 453.2,142.3 452.5,143.1 451.7,143.8 450.4,143.6 449.1,143.4 450,142.6 451,141.7 449.5,140.1 451.1,139.6ZM429.9,129.2 431.8,129.3 433.7,129.3 435.7,129.4 435,130.4 432.9,130.3 430.9,130.1 428.9,129.9ZM495.6,128.6 497.1,128.7 498.7,128.8 500.2,128.9 502.8,130.4 505.2,130.7 507.6,131 509.8,132.8 507.8,132.7 505.9,132.6 503.9,132.5 502,132.4 499.9,131.3 500.7,130.9 501.5,130.5 499.8,130.4 498.1,130.4 496.4,130.3ZM658.5,208.7 656.4,207.2 656.3,207 657.4,207.2ZM639.8,187.5 641,187.7 645.1,191 648.1,194 650.2,196 652.3,198 654.3,200.3 656.3,201.9 652.3,200.5 652.8,202 655.5,205.4 656.3,207 655.6,206.9 655.8,209 653.3,206 651.2,203.4 649.1,200.8 647.2,198.5 645.3,196.2 642.5,193 640.5,190.2ZM433.5,158.4 431.8,159 430.1,159.7 428,159.3 425.8,158.8 423.7,158.4 421.3,157.9 418.9,157.3 421.5,159.7 424.2,162.1 424.7,163.2 426.4,163.8 428,164.4 429.5,164.5 431,164.6 430.5,163.7 432.2,163.3 433.8,163 433.5,162.1 435,159.6 436.8,158.9 438.4,159.2 440,159.6 438.6,157.5 437.4,155.7 436.3,153.8 438.2,154.2 440.7,155.9 443.3,157.7 445,156.9 446.6,156.1 448.3,155.3 450.4,155 452.6,154.8 454.8,154.6 456.3,154.4 457.9,154.2 459.5,153.9 461,153.6 462.5,153.3 463.8,151.5 466.3,151.8 468.8,152.1 471.3,152.4 472.8,152.8 474.3,153.3 476.9,154 479.4,154.8 477.8,154.2 476.1,153.5 474.2,150.9 474.5,149.2 474.7,147.6 474.8,145.7 474.8,143.8 477.2,144.3 479.6,144.9 481.3,146.8 483.1,148.7 484.1,150.9 485,153.1 486,155.3 485.8,158.4 488,159.1 488.9,157.7 489.7,156.4 488.4,154.7 487.1,153.1 486.1,150.9 485.1,148.7 484,146.5 483.6,144.9 485.4,145.2 487.3,145.6 489.2,145.9 491.5,146.2 493.7,146.5 497,148.2 500.3,149.8 498.6,148.2 497,146.5 494.1,145 491.2,143.4 492.8,143 494.3,142.6 495.8,142.1 497.3,141.7 498.8,141.3 500,140.6 501.2,139.9 502.3,139.3 503.9,139 505.5,138.7 507.1,138.4 508.7,138.1 510.3,137.9 512,137.7 513.7,137.5 515.4,137.3 516.5,136.4 517.7,135.7 518.8,134.9 521.5,135.5 524.3,136.2 527,136.9 529.4,137.2 531.7,137.6 534.1,137.9 536.5,138.3 538.9,140.4 537.6,140.9 536.3,141.4 535,141.9 533.7,142.3 533.1,143.2 532.4,144 533.9,143.5 535.4,142.9 536.9,142.3 539.1,142.7 541.4,143 543.6,143.4 545.9,143.6 548.3,143.8 550.6,144 552.9,144.2 555.2,144.4 556.8,143.9 558.3,143.5 559.8,143 561.6,143.2 563.5,143.4 565.4,143.6 569.3,145.4 573.3,147.3 576,148.2 578.8,149.1 579.6,148.5 580.4,147.8 582,147.8 583.5,147.7 585.1,147.6 587,147.6 588.9,147.6 590.8,147.6 588.8,144.7 591.3,145 593.9,145.2 596.4,145.4 599,145.7 601.6,145.9 604.1,146.1 606.7,147.1 609.3,148 611.1,148.5 613,148.9 615.6,149.2 618.2,149.6 620.8,149.9 623.4,150.2 626,150.5 628.7,150.9 630.7,151.4 632.7,152 634.7,151.8 636.7,151.6 638.7,151.4 640.6,151.2 642.6,151.1 646.1,152.3 649.6,153.5 647.1,151.5 649.3,151.4 651.5,151.3 653.7,151.2 655.9,151.1 659.2,151.7 662.5,152.4 665.8,153.1 670.4,156 674.9,159 679.3,162.1 678.6,162.5 678,163 675.9,162.8 680.7,164.9 685.5,167 686.9,168.5 684.6,168.3 682.4,168.1 681.1,168.8 679.8,169.5 678.7,170.5 677.7,171.4 677.2,172.2 676.7,172.9 677.9,174.1 674.7,173.7 671.6,173.3 668.5,172.9 670.6,174.3 668.4,174.2 666.2,174.1 666.4,175.6 667.8,178.2 669.9,179.1 672.7,181.2 675.5,183.3 673.7,183 676.7,186.6 676.7,187 676.8,188.9 676.8,190.7 674.4,191 675,193.6 675.5,196.2 672.9,193.8 670.1,191.5 666.1,188 662,184.5 661.1,182.7 660.2,180.8 660.5,179.2 660.8,177.6 661,176 661.1,174.5 661.2,173.1 659.8,170.3 659.9,169.1 659.9,167.9 657.4,167.9 658.1,169.8 658.8,171.7 657.2,172.4 654.1,169.4 652.1,169.5 650.2,169.7 648.3,169.8 649.1,172.2 649.8,175 648.4,175.6 647,176.2 644.9,175.6 642.8,174.9 641.2,175.2 639.7,175.5 636.9,175.4 634.1,175.3 631.6,175.3 629.2,175.4 628.6,177.3 627.9,179.1 627.3,180.8 626.7,182.4 625.9,184.6 625,186.7 627.5,187.5 630,188.2 631.3,188.1 632.7,188 634.4,188.2 636.1,188.5 639.9,190.2 642.5,193 642.6,194.7 643.9,196.6 645.1,198.5 646.6,201 646.8,203.1 646.9,205.1 646.5,207.4 646.5,209.3 646.4,211.3 645.6,214.5 643.8,215.7 642.1,216.9 639.5,216.2 637.9,217.3 638.1,218.2 638,217.6 637.6,217 638.4,216.9 638.5,216.9 638.5,216.8 638.5,216.7 636.9,213.6 636.9,213.5 636.8,213.5 635.1,211.5 636.1,210.8 638.9,211.2 639,211.2 639,211.1 638.8,208.6 638.8,208.5 637.6,205.8 637.8,204.9 637.8,204.8 637.2,202.5 637.2,202.4 637.1,202.3 637,202.2 636.9,202.2 636.9,202.1 636.8,202.1 636.7,202.1 635.3,202.5 633.8,202.8 633.8,202.9 632.8,203.8 629.9,203.8 627.6,201.6 627.5,201.6 627.5,201.5 627.4,201.5 623.8,199.7 623.7,199.7 623.7,199.6 621.7,199.2 619.7,198.9 617.4,196.5 617.3,196.5 615.5,195 615.5,194.9 615.4,194.9 613.9,193.8 610.8,191.3 610.7,191.3 610.7,191.2 610.6,191.2 608.1,190.3 606.3,189.9 604.6,189.5 604.5,189.5 602,189.6 599.9,190.1 599.8,190.1 599.1,191.3 599.1,191.4 599.1,191.5 599.2,191.5 599.2,191.6 599.3,191.6 599.3,191.7 599.4,191.8 599.5,191.8 599.5,191.9 599.6,191.9 600.9,192.4 601.6,193.4 601.2,194.1 601.1,194.1 601.1,194.2 601.2,196.9 601.2,197 601.3,197 601.3,197.1 601.9,198 600.3,199.4 597.4,198.5 597.3,198.5 594.8,198.6 593.6,197.9 593.5,197.9 592.1,197.6 592,197.6 590.9,198.7 588.2,198.7 585.5,198.8 582.9,198.9 580.2,198.9 580,198.8 579.9,198.8 577.2,197.6 577.2,197.5 577.1,197.5 574.9,197.2 574.8,197.2 572.5,197.5 570.9,198 567.7,197 566.3,195.3 566.3,195.2 566.2,195.1 566.1,195.1 566.1,195 566,195 563.3,194.4 561.3,194.1 558.5,193.1 558.4,193 558.4,193.1 558.3,193.1 557.8,195.7 557.8,195.8 557.8,195.9 557.8,196 557.9,196 557.9,196.1 558,196.1 559.3,197.4 558.5,198.9 555.4,198.3 555.3,198.3 553.4,198.2 551.5,197.1 551.5,197 551.4,197 551.3,197 549.2,196.9 547.1,196.2 547,196.2 545.8,196.8 544.6,197.4 543.2,198.5 541.9,199.6 540,200 539.9,200 539.4,200.2 537.7,198.7 537.6,198.7 537.5,198.6 535.2,199 533.9,198 533.8,197.9 532.2,197.5 530.7,196.1 530.6,196.1 530.6,196 530.5,196 529.2,195.5 529.1,195.5 526.6,196.2 523.2,194.7 523.1,194.7 523,194.7 523,194.8 522.6,195.9 519.1,192.8 515.5,189.8 515.4,189.8 515.4,189.7 512.3,188 512.6,187.5 512.6,187.4 512.6,187.3 512.5,187.3 512.5,187.2 512.4,187.1 512.3,187 512.2,187 512.1,187 510.2,188.1 508.3,189.3 506.9,189.4 506.5,188.4 506.5,188.3 506.4,188.3 506.4,188.2 506.3,188.2 506.3,188.1 506.2,188.1 503.3,187.2 503.2,187.2 501.6,187.8 500,185.5 500,185.4 499.9,185.4 499.9,185.3 499.8,185.3 499.7,185.3 497.9,185 496,184.7 495.9,184.8 494.7,185.8 492.5,186.2 490.3,186.7 490.2,186.7 489.6,187.3 487.3,187.6 485,187.9 482.7,188.2 482.6,188.2 482,189.1 482,189.2 482,189.3 482,189.4 482.1,189.4 482.1,189.5 482.2,189.5 483.8,190.9 482.5,191.4 482.4,191.4 482.4,191.5 482.4,191.6 482.4,191.7 482.5,191.7 482.5,191.8 482.6,191.8 482.9,192.2 481.7,193.3 481.6,193.3 481.6,193.4 481.6,193.5 481.6,193.6 481.7,193.7 481.7,193.8 481.8,193.8 481.9,193.9 485.4,195.5 485.4,196.2 482.7,196.1 482.6,196.1 482.5,196.2 482.3,196.8 479.4,195.6 479.4,195.5 479.3,195.5 477.8,195.6 476.2,195.6 476.1,195.6 474.4,196.6 471.8,195.6 469.4,194.8 466.9,193.9 466.8,193.9 465.3,193.9 463.8,193.9 463.8,194 463.7,194 462,195.3 460.4,196.7 460.3,196.7 460.3,196.8 460.3,196.9 460.5,198.4 458.4,197.1 458.3,197.1 458.2,197.1 458.1,197.1 458.1,197.2 457.2,200 457.2,200.1 457.2,200.2 457.3,200.2 457.3,200.3 457.4,200.4 457.9,200.7 457.3,202.4 457.3,202.5 457.3,202.6 457.3,202.7 457.4,202.8 459.6,204.5 459.6,204.6 459.7,204.6 461.1,204.6 462.6,206 462.7,207.2 462.7,207.3 462.8,207.4 462.8,207.5 462.9,207.5 462.9,207.6 463,207.6 464.1,208 464.4,208.1 463.2,209 461.2,210.2 460.9,212.3 462,213.8 462.6,214.4 462.8,216.4 465,218.8 465.7,219.4 465.5,219.3 464.5,220.3 464.5,220.4 464.3,220.9 463.6,220.7 461.9,219.2 461.8,219.2 461.7,219.1 461.1,219.1 459.8,218.5 459,217.5 458.9,217.5 458.9,217.4 458.8,217.4 456.8,216.9 456.7,216.9 455.6,217.2 455.3,216.9 455.2,216.9 455.2,216.8 452,215.6 448.8,215.1 447,214.7 446.9,214.7 446.8,214.7 446.8,214.8 446.8,214.9 446.7,215.3 446.9,215.4 446.2,214.9 444.6,213.6 441.7,212 440.6,211.5 439.2,211.1 439.2,210.8 440.6,210.5 441.8,208.6 441.7,206.9 443.6,205.9 442.8,205.6 441.7,205.8 441.6,204.9 442.3,204.3 444.2,204.2 444.2,204.1 444.3,204.1 444.4,204.1 444.4,204 444.5,203.1 444.5,203 444.5,202.9 443.8,201.7 444.3,200.4 444.3,200.3 444.3,200.2 444.1,199.5 444.1,199.4 444,199.3 443.9,199.3 443.9,199.2 440.7,198.4 439.6,198.4 438.2,197.3 438.1,197.3 438,197.3 438,197.2 438,197.3 436.6,197.6 434.1,196.8 434.1,196.6 434.1,196.5 434,196.4 433.1,195.3 433,195.2 432.9,195.2 431.4,195 431.3,194.7 431.6,194.3 431.6,194.2 431.6,194.1 431.6,194 431.6,193.9 431.5,193.9 431.5,193.8 429.9,192.4 429.9,192.3 429.8,192.3 429.7,192.3 427.8,192.6 427.2,192.4 427.1,192.4 427.1,192.5 427,192.5 426.7,193 426.2,192.9 425.5,191.5 425.4,191.4 425,190.9 425.1,190.8 426.6,190.9 426.7,190.9 427.4,190.4 427.4,190.3 427.5,190.3 427.5,190.2 427.5,190.1 427.4,190 427.4,189.9 427.3,189.9 426.7,189.2 426.6,189.2 426.6,189.1 426.5,189.1 425.4,188.8 425.4,188.6 425.4,188.5 425.4,188.4 425.3,188.4 425.3,188.3 425.2,188.3 424.4,187.8 423,186.5 423.2,186 423.3,185.9 423.3,185.8 423.2,185.8 423.2,185.7 422.8,184.6 422.8,184.5 422.7,184.5 422.7,184.4 422.6,184.4 420.6,183.8 420.5,183.8 419.7,184 419.4,183.6 419.4,183.5 419.3,183.5 419.3,183.4 417.2,182.9 416.5,181.6 416.1,180.4 416,180.4 416,180.3 415.9,180.3 415.9,180.2 415.3,179.9 415.7,179.4 415.7,179.3 415.7,179.2 415.7,179.1 414.8,177 415.7,175.7 415.8,175.7 415.8,175.6 415.8,175.5 415.8,175.4 415.7,175.4 415.5,175 416.8,173.9 419.1,173.9 417.5,173.1 415.9,172.2 414.2,172.5 415.8,172.2 417,171 418.3,169.8 419.6,168.5 419.7,168.4 420.1,167.2 420.1,167.1 420.1,167 420,166.9 420,166.8 419.9,166.8 417.1,165.3 417.4,164.1 417.4,164 417.4,163.9 417.4,163.8 417.3,163.8 417.3,163.7 415.5,162.2 416.1,160.4 416.1,160.3 416.1,160.2 416.1,160.1 416,160.1 416,160 413.6,157.7 414.6,156.2 414.6,156.1 414.6,156 414.6,155.9 414.6,155.8 414.5,155.8 414.5,155.7 414.4,155.7 411.6,154.3 411.5,153.2 412.7,153 413.9,152.6 415,152.2 415.1,152.2 415.1,152.1 415.1,152 415,151.5 415,151.4 414.8,151.4 416.1,151.3 417.4,151.3 419.4,152.5 421.6,152.8 423.8,153.1 425.7,153.7 427.6,154.4 429.5,154.9 431.3,155.5 433.9,156.8ZM659.3,149.1 657.7,148.9 656.2,148.7 656.4,148.1 656.6,147.5ZM592.2,144 590.2,143.9 588.1,143.7 586,143.6 586.9,143.1 587.7,142.6 590,143.3ZM578.7,142.3 581.2,143 579.4,142.9 577.7,142.8ZM597.1,140.1 596.6,140.5 596.1,140.9 593.9,140.5 591.6,140.1 589.4,139.7 591.3,139.8 593.2,139.9 595.2,140ZM581.7,140.7 579,140.2 576.3,139.7 577.2,139.1 578.1,138.6 579,138.1 581.7,138.5 584.5,138.9 587.2,139.3 586.6,139.9 586.1,140.5 584.6,140.6 583.2,140.6ZM511,134.3 510,132.4 511.6,132.3 513.2,132.1 515.5,132.7 517.9,133.4 517.2,133.9 516.4,134.5 514.6,134.4 512.8,134.4Z"/><path fill="#a50f15" d="M471.4,254.5 472.3,256.3 474.4,258.2 475.6,259.1 475.6,259.6 476,261.8 476.7,262.8 476.8,263.4 476.8,263.5 476.8,263.6 476.9,263.6 477.4,264.3 477.5,264.3 478.2,264.8 478.3,264.8 478.3,264.9 478.4,264.9 479,264.7 479.1,264.7 479.2,265.4 479.3,266 479.4,266.1 480.4,268.7 480.5,268.8 480.5,268.9 480.6,268.9 480.7,268.9 483,269.4 485.3,269.8 487.6,270.3 487.7,270.3 487.7,270.2 487.8,270.2 488,269.9 488.9,271.3 488.4,273.8 487.9,276.2 484.7,277.5 481.4,278.8 478.2,279.3 475,279.8 474.9,279.8 472.9,281 472.8,281 472.8,281.1 472.7,281.1 471.4,283.8 470.6,284.1 470.1,283.4 470,283.3 469.9,283.3 469.8,283.3 469,283.4 466.9,283.2 466.5,282.9 466.4,282.9 466.3,282.9 463.7,282.9 463.7,283 463.6,283 463.1,283.1 462.3,282.5 462.2,282.5 462.1,282.5 462,282.5 462,282.6 461.9,282.6 461.9,282.7 461.4,283.9 461.4,284 461.4,284.1 461.4,284.2 461.6,285.1 460.9,285.7 460.4,284.6 458.5,281.7 456.7,278.8 454.7,276.1 451.9,272.6 451.4,269.2 449,265.8 446.9,262.9 445,260.1 443.1,257.3 441.9,255.8 440.5,255.6 440.9,252.3 441,252.3 443.5,252.7 443.6,252.7 443.7,252.7 444.6,251.9 444.6,251.8 445,251 446.6,250.6 446.7,250.6 446.7,250.5 447,249.7 447.6,249.3 447.6,249.2 447.7,249.2 447.7,249.1 447.7,249 447.7,248.9 447.7,248.8 447.6,248.8 445.5,246.5 447.4,246 449.3,245.4 449.4,245.4 449.4,245.3 449.7,245 452.3,245.7 455.8,247.5 459.2,250.1 462.6,252.7 462.7,252.8 462.8,252.8 464.8,252.9 466.9,253 468.8,253.2 469.4,254.3 469.4,254.4 469.5,254.4 469.5,254.5 469.6,254.5 469.7,254.5 471.2,254.4 471.3,254.4Z"/><path fill="#860811" d="M441.8,244.1 441.8,244 441.8,243.9 441.7,243.9 441.7,243.8 441.6,243.8 440.7,243.4 440.6,243.4 440.5,243.4 440.5,243.5 440.4,243.5 440.4,243.6 440.1,245.3 440.1,245.4 440.1,245.5 440.2,245.5 440.2,245.6 440.2,245.7 440.3,245.7 440.4,245.8 440.3,245.8 440.3,245.9 440.2,245.9 440.2,246 440.2,246.7 440.2,246.8 440.2,246.9 440.2,247 440.3,247 440.3,247.1 440.4,247.1 440.5,247.1 441.5,246.7 441.6,246.7 441.7,246.6 441.9,245.8 441.7,246.5 441.9,247.4 441.9,247.5 441.5,249.6 441.1,251.7 441.1,251.8 441.1,251.9 441,251.9 441.1,251.6 440.8,251.6 439.9,249.3 439,246.9 439.2,246.4 439.5,246 439.9,244.9 440.1,242.9 440.3,242.2 440.3,242.5 440.3,242.6 440.4,242.6 441.2,242.6 441.2,242.5 441.3,242.5 441.3,242.4 441.4,242.4 441.5,242.1 441.6,242.1 441.6,241.8 441.7,242.7 441.6,243 441.6,243.1 441.5,243.1 441.5,243.2 441.5,243.3 441.6,243.3 441.6,243.4 441.7,243.5 442,243.6Z"/><path fill="#67000d" d="M439,211 439.2,210.8 439.2,211.1ZM421.4,210.2 421.5,210.2 421.4,210.2ZM427.1,192.5 427.1,192.4 427.2,192.4 427.8,192.6 429.7,192.3 429.8,192.3 429.9,192.3 429.9,192.4 431.5,193.8 431.5,193.9 431.6,193.9 431.6,194 431.6,194.1 431.6,194.2 431.6,194.3 431.3,194.7 431.4,195 432.9,195.2 433,195.2 433.1,195.3 434,196.4 434.1,196.5 434.1,196.6 434.1,196.8 436.6,197.6 438,197.3 438,197.2 438,197.3 438.1,197.3 438.2,197.3 439.6,198.4 440.7,198.4 443.9,199.2 443.9,199.3 444,199.3 444.1,199.4 444.1,199.5 444.3,200.2 444.3,200.3 444.3,200.4 443.8,201.7 444.5,202.9 444.5,203 444.5,203.1 444.4,204 444.4,204.1 444.3,204.1 444.2,204.1 444.2,204.2 442.3,204.3 441.6,204.9 441.7,205.8 441.4,205.9 440.1,205.9 438.7,206.8 436.8,207.6 434.9,208.3 435.5,209.7 436.7,210.5 439,210.3 438.7,210.4 436.6,211.2 435.8,211.7 434.3,212.6 433.5,212.9 432.8,212.3 432.3,210.8 430.5,210.4 432.4,208.4 431,208.4 427.9,207.3 428,207.2 426.4,207.5 426,208.4 424.6,210.4 424.8,210.9 424.7,210.9 424.6,210.8 424.5,210.8 424.4,210.8 423.5,210.4 422.7,210.8 422.6,210.8 422.5,210.8 421.5,210.3 421.6,210.3 421.7,210.3 422.2,210 422.3,210 422.3,209.9 422.5,209 423,208.2 423,208.1 423,208 423,207.9 422.9,207.8 422.9,207.7 423,207.9 423.1,208 423.2,208 424.5,208.1 425,207.9 425.1,207.9 425.1,207.8 425.2,207.8 425.2,207.7 425.2,207.6 425.2,207.5 425.1,207.5 425.1,207.4 425,207.4 424.8,207.2 424.9,207.1 424.9,207 424.9,206.9 424.8,206.9 424.8,206.8 424.7,206.8 424.7,206.7 424,206.1 423.6,205.2 423.6,205.1 423.5,205.1 423.5,205 423.4,205 422.8,204.7 422.8,204 422.8,203.9 422.7,203.8 422.7,203.7 422.6,203.7 421.6,203 421.5,203 420.7,202.9 419.1,202.1 419,202.1 417.7,202.3 417.7,202.4 417.6,202.4 417.2,202.8 417.1,202.8 417.1,202.9 417.1,203 417.1,203.1 417.1,203.2 417.2,203.2 417.2,203.3 417.3,203.3 416.6,203.3 416.2,203.8 416.2,203.9 416.1,203.9 414.7,204.2 414.1,204.5 414,204.6 413.9,204.6 413.9,204.5 412.9,203.9 411.6,203.9 410.4,203.7 409.6,204.2 409.7,204.2 409.7,204.1 409.7,204 409.7,203.9 409.7,203.8 409.5,203.1 409.5,203 409.4,203 409.4,202.9 408.4,202.4 408.6,201.7 408.9,201.2 409.3,201.3 409.4,201.3 409.4,201.2 409.5,201.2 409.5,201.1 409.5,201 409.5,200.9 409.5,200.8 408.9,199.9 410.3,198 411.2,197.7 411.3,197.7 411.3,197.6 411.4,197.6 411.5,196.8 411.5,196.7 411.5,196.6 411.4,196.6 410.4,194.8 411,194.7 412,194 413.4,194 415.4,194.2 417.7,194.8 417.8,194.8 419.3,194.9 420.1,195.2 420.2,195.2 420.3,195.2 420.8,194.8 421.3,195.3 421.4,195.3 421.4,195.4 423.2,195.2 424,195.5 424.1,195.5 424.2,195.5 424.2,195.4 424.2,195.3 424.3,195.3 424.3,195.2 424.2,194.1 424.5,193.7 426.2,193.5 426.3,193.5 426.3,193.4 426.3,193.3 426.3,193.2 426.3,193.1 426.2,192.9 426.7,193 427,192.5Z"/></g>
<g><rect x="98.9" y="537.0" width="47.5" height="11.6" fill="url(#nd)" stroke="#b0b0b0" stroke-width=".6"/><line x1="122.6" x2="122.6" y1="534.4" y2="537.0" stroke="#999" stroke-width=".7"/><rect x="166.0" y="537.0" width="58.4" height="11.6" fill="#fff5f0" stroke="#b5b5b5" stroke-width=".5"/><line x1="166.0" x2="166.0" y1="534.6" y2="548.6" stroke="#a3a3a3" stroke-width=".6"/><rect x="224.4" y="537.0" width="58.4" height="11.6" fill="#fee0d2" stroke="#b5b5b5" stroke-width=".5"/><line x1="224.4" x2="224.4" y1="534.6" y2="548.6" stroke="#a3a3a3" stroke-width=".6"/><rect x="282.8" y="537.0" width="58.4" height="11.6" fill="#fcbba1" stroke="#b5b5b5" stroke-width=".5"/><line x1="282.8" x2="282.8" y1="534.6" y2="548.6" stroke="#a3a3a3" stroke-width=".6"/><rect x="341.2" y="537.0" width="58.4" height="11.6" fill="#fc9272" stroke="#b5b5b5" stroke-width=".5"/><line x1="341.2" x2="341.2" y1="534.6" y2="548.6" stroke="#a3a3a3" stroke-width=".6"/><rect x="399.6" y="537.0" width="58.4" height="11.6" fill="#fb6a4a" stroke="#b5b5b5" stroke-width=".5"/><line x1="399.6" x2="399.6" y1="534.6" y2="548.6" stroke="#a3a3a3" stroke-width=".6"/><rect x="458.0" y="537.0" width="58.4" height="11.6" fill="#ef3b2c" stroke="#b5b5b5" stroke-width=".5"/><line x1="458.0" x2="458.0" y1="534.6" y2="548.6" stroke="#a3a3a3" stroke-width=".6"/><rect x="516.4" y="537.0" width="58.4" height="11.6" fill="#cb181d" stroke="#b5b5b5" stroke-width=".5"/><line x1="516.4" x2="516.4" y1="534.6" y2="548.6" stroke="#a3a3a3" stroke-width=".6"/><rect x="574.8" y="537.0" width="58.4" height="11.6" fill="#a50f15" stroke="#b5b5b5" stroke-width=".5"/><line x1="574.8" x2="574.8" y1="534.6" y2="548.6" stroke="#a3a3a3" stroke-width=".6"/><rect x="633.2" y="537.0" width="58.4" height="11.6" fill="#860811" stroke="#b5b5b5" stroke-width=".5"/><line x1="633.2" x2="633.2" y1="534.6" y2="548.6" stroke="#a3a3a3" stroke-width=".6"/><path d="M691.6,537.0H745.4L750.0,542.8L745.4,548.6H691.6Z" fill="#67000d" stroke="#b5b5b5" stroke-width=".5"/><line x1="691.6" x2="691.6" y1="534.6" y2="548.6" stroke="#a3a3a3" stroke-width=".6"/></g><g font-family="'Liberation Sans',Arial,sans-serif" font-size="12.8" fill="#5b5b5b" text-anchor="middle"><text x="122.4" y="530.3" textLength="45.5" lengthAdjust="spacingAndGlyphs">No data</text><text x="166.0" y="530.3">0%</text><text x="224.4" y="530.3">1%</text><text x="282.8" y="530.3">2%</text><text x="341.2" y="530.3">3%</text><text x="399.6" y="530.3">4%</text><text x="458.0" y="530.3">5%</text><text x="516.4" y="530.3">6%</text><text x="574.8" y="530.3">7%</text><text x="633.2" y="530.3">8%</text><text x="691.6" y="530.3">9%</text></g>
<g font-family="'Liberation Sans',Arial,sans-serif" font-size="12.8" fill="#5b5b5b">
<text x="16.5" y="581.4"><tspan font-weight="700" textLength="71" lengthAdjust="spacingAndGlyphs">Data source:</tspan><tspan x="92.3" textLength="319" lengthAdjust="spacingAndGlyphs">Stockholm International Peace Research Institute (2025)</tspan></text>
<text x="831.3" y="581.4" text-anchor="end" textLength="329" lengthAdjust="spacingAndGlyphs">OurWorldinData.org/military-personnel-spending | CC BY</text>
</g>
</svg></body></html>
